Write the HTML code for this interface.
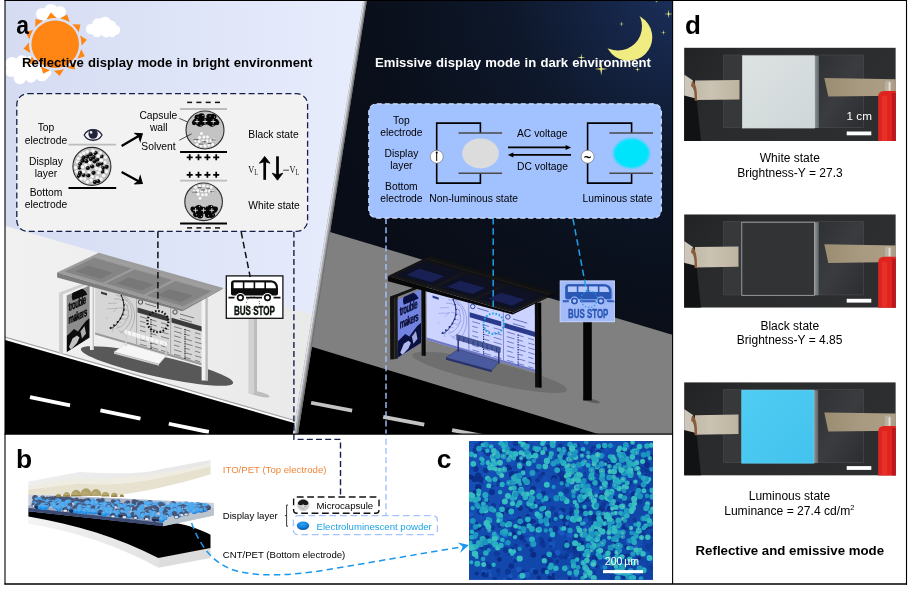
<!DOCTYPE html>
<html lang="en"><head><meta charset="utf-8"><title>Dual-mode display figure</title>
<style>html,body{margin:0;padding:0;background:#fff;}svg{display:block;opacity:0.999;}text{font-family:'Liberation Sans', Arial, sans-serif;}</style>
</head><body>
<svg width="908" height="590" viewBox="0 0 908 590">
<defs>
<linearGradient id="sky" x1="0" y1="0" x2="1" y2="0"><stop offset="0" stop-color="#d5dbf1"/><stop offset="0.5" stop-color="#dfe5f8"/><stop offset="1" stop-color="#e7edfc"/></linearGradient>
<radialGradient id="night" gradientUnits="userSpaceOnUse" cx="690" cy="-20" r="400"><stop offset="0" stop-color="#1d3260"/><stop offset="0.2" stop-color="#162649"/><stop offset="0.45" stop-color="#0e182b"/><stop offset="0.75" stop-color="#0a101c"/><stop offset="1" stop-color="#090d17"/></radialGradient>
<linearGradient id="swg" x1="0" y1="0" x2="1" y2="0"><stop offset="0" stop-color="#f1f1f1"/><stop offset="1" stop-color="#e9e9e9"/></linearGradient>
<clipPath id="cday"><polygon points="5,0 366.4,0 297.4,434 5,434"/></clipPath>
<clipPath id="cnight"><polygon points="366.4,0 672.5,0 672.5,434 297.4,434"/></clipPath>
<filter id="blur1" x="-20%" y="-20%" width="140%" height="140%"><feGaussianBlur stdDeviation="1.3"/></filter>
<filter id="blur2" x="-20%" y="-20%" width="140%" height="140%"><feGaussianBlur stdDeviation="0.6"/></filter>
<filter id="blur3" x="-20%" y="-20%" width="140%" height="140%"><feGaussianBlur stdDeviation="2.5"/></filter>
</defs>
<rect x="0" y="0" width="908" height="590" fill="#fff"/>
<g clip-path="url(#cday)">
<rect x="5" y="0" width="365" height="434" fill="url(#sky)"/>
<circle cx="42.0" cy="14.0" r="6.0" fill="#fff" opacity="1"/>
<circle cx="51.0" cy="11.0" r="7.0" fill="#fff" opacity="1"/>
<circle cx="60.0" cy="12.0" r="6.0" fill="#fff" opacity="1"/>
<circle cx="47.0" cy="17.0" r="6.0" fill="#fff" opacity="1"/>
<circle cx="56.0" cy="17.0" r="6.0" fill="#fff" opacity="1"/>
<circle cx="91.0" cy="29.0" r="5.2" fill="#fff" opacity="1"/>
<circle cx="98.0" cy="24.0" r="5.8" fill="#fff" opacity="1"/>
<circle cx="105.0" cy="23.0" r="6.3" fill="#fff" opacity="1"/>
<circle cx="111.0" cy="26.0" r="5.4" fill="#fff" opacity="1"/>
<circle cx="115.5" cy="30.0" r="4.8" fill="#fff" opacity="1"/>
<circle cx="97.0" cy="32.0" r="5.2" fill="#fff" opacity="1"/>
<circle cx="106.0" cy="32.0" r="5.4" fill="#fff" opacity="1"/>
<circle cx="112.0" cy="33.0" r="4.3" fill="#fff" opacity="1"/>
<circle cx="12.1" cy="63.7" r="6.6" fill="#fff" opacity="1"/>
<circle cx="22.0" cy="61.5" r="6.2" fill="#fff" opacity="1"/>
<circle cx="30.8" cy="61.4" r="5.5" fill="#fff" opacity="1"/>
<circle cx="11.0" cy="71.4" r="5.6" fill="#fff" opacity="1"/>
<circle cx="19.8" cy="78.0" r="6.2" fill="#fff" opacity="1"/>
<circle cx="30.8" cy="77.0" r="5.8" fill="#fff" opacity="1"/>
<circle cx="41.8" cy="73.8" r="7.4" fill="#fff" opacity="1"/>
<circle cx="46.3" cy="72.5" r="5.0" fill="#fff" opacity="1"/>
<circle cx="25.0" cy="70.0" r="9.5" fill="#fff" opacity="1"/>
<circle cx="35.0" cy="69.0" r="7.0" fill="#fff" opacity="1"/>
<polygon points="5,225.8 340,322.6 340,440 5,440" fill="url(#swg)"/>
<polygon points="5,336.6 340,432.9 340,436.2 5,339.9" fill="#a4a4a4"/>
<polygon points="5,337.8 340,434.1 340,436.2 5,339.9" fill="#fdfdfd"/>
<polygon points="5,339.9 340,436.2 340,440 5,440" fill="#000"/>
<polygon points="30.4,395.3 70.4,403.5 69.7,407.3 29.6,399.0" fill="#fff"/>
<polygon points="100.8,408.5 140.8,416.7 140.1,420.5 100.0,412.2" fill="#fff"/>
<polygon points="169.2,421.9 209.2,430.1 208.5,433.9 168.4,425.6" fill="#fff"/>
<g transform="translate(0.0,0.0)"><ellipse cx="157" cy="366" rx="78" ry="10.5" transform="rotate(12.6 157 366)" fill="#585858" opacity="1"/><polygon points="95.1,262.0 203.0,293.5 203.0,365.6 95.1,334.4" fill="#d6d6d6"/><polygon points="95.1,332.4 203,363.6 203,365.8 95.1,334.6" fill="#9a9a9a"/><line x1="136.6" y1="286.7" x2="136.6" y2="344.4" stroke="#9a9a9a" stroke-width="0.8"/><line x1="170.6" y1="291.9" x2="170.6" y2="354.2" stroke="#9a9a9a" stroke-width="0.8"/><path d="M116.4 295.4A17.0 19.5 16 0 1 120.5 332.4" fill="none" stroke="#8a8a8a" stroke-width="0.5"/><path d="M114.3 298.9A13.0 14.9 16 0 1 116.4 328.3" fill="none" stroke="#8a8a8a" stroke-width="0.5"/><path d="M122.5 295.1A21.0 24.1 16 0 1 128.1 333.2" fill="none" stroke="#8a8a8a" stroke-width="0.5"/><path d="M106.1 317.3L107.3 318.8" stroke="#8a8a8a" stroke-width="0.4" fill="none"/><path d="M117.8 307.3L113.2 312.0" stroke="#8a8a8a" stroke-width="0.4" fill="none"/><path d="M106.8 308.8L117.9 308.4" stroke="#8a8a8a" stroke-width="0.4" fill="none"/><path d="M124.1 320.6L129.5 315.7" stroke="#8a8a8a" stroke-width="0.4" fill="none"/><path d="M118.0 329.8L121.6 333.2" stroke="#8a8a8a" stroke-width="0.4" fill="none"/><path d="M119.1 307.6L126.5 308.9" stroke="#8a8a8a" stroke-width="0.4" fill="none"/><path d="M108.0 303.5L117.1 303.1" stroke="#8a8a8a" stroke-width="0.4" fill="none"/><path d="M120.6 330.9L127.2 336.8" stroke="#8a8a8a" stroke-width="0.4" fill="none"/><path d="M110.8 325.9L113.2 332.0" stroke="#8a8a8a" stroke-width="0.4" fill="none"/><circle cx="121.3" cy="295.2" r="0.75" fill="#111"/><path d="M122.5 295.2l3 0.8" stroke="#8a8a8a" stroke-width="0.4"/><circle cx="123.2" cy="300.0" r="0.75" fill="#111"/><path d="M124.4 300.0l3 0.8" stroke="#8a8a8a" stroke-width="0.4"/><circle cx="124.3" cy="305.0" r="0.75" fill="#111"/><path d="M125.5 305.0l3 0.8" stroke="#8a8a8a" stroke-width="0.4"/><circle cx="124.3" cy="310.0" r="0.75" fill="#111"/><path d="M125.5 310.0l3 0.8" stroke="#8a8a8a" stroke-width="0.4"/><circle cx="122.8" cy="314.5" r="0.95" fill="#111"/><path d="M124.0 314.5l3 0.8" stroke="#8a8a8a" stroke-width="0.4"/><circle cx="120.5" cy="318.5" r="0.95" fill="#111"/><path d="M121.7 318.5l3 0.8" stroke="#8a8a8a" stroke-width="0.4"/><circle cx="117.5" cy="322.0" r="0.95" fill="#111"/><path d="M118.7 322.0l3 0.8" stroke="#8a8a8a" stroke-width="0.4"/><circle cx="114.0" cy="325.2" r="0.95" fill="#111"/><path d="M115.2 325.2l3 0.8" stroke="#8a8a8a" stroke-width="0.4"/><circle cx="110.5" cy="328.0" r="0.95" fill="#111"/><path d="M111.7 328.0l3 0.8" stroke="#8a8a8a" stroke-width="0.4"/><path d="M121.3 295.2Q127 308 120.5 318.5T110.5 328" fill="none" stroke="#111" stroke-width="0.9"/><rect x="101" y="291.5" width="6" height="2.2" transform="skewY(16)" style="transform-origin:101px 291.5px" fill="#3a3a3a"/><polygon points="137.5,307.6 168.5,316.6 168.5,321.4 137.5,312.4" fill="#3a3a3a"/><polygon points="171.5,317.8 202.0,326.6 202.0,331.4 171.5,322.6" fill="#3a3a3a"/><circle cx="140.5" cy="302" r="2.2" fill="none" stroke="#3a3a3a" stroke-width="0.9"/><circle cx="175" cy="312" r="2.2" fill="none" stroke="#3a3a3a" stroke-width="0.9"/><path d="M140.0 316.6l7.6 2.2" stroke="#5a5a5a" stroke-width="0.7" fill="none"/><path d="M140.0 321.2l5.3 1.5" stroke="#5a5a5a" stroke-width="0.7" fill="none"/><path d="M140.0 325.8l5.4 1.6" stroke="#5a5a5a" stroke-width="0.7" fill="none"/><path d="M140.0 330.4l5.7 1.6" stroke="#5a5a5a" stroke-width="0.7" fill="none"/><path d="M140.0 335.0l7.9 2.3" stroke="#5a5a5a" stroke-width="0.7" fill="none"/><path d="M140.0 339.6l6.3 1.8" stroke="#5a5a5a" stroke-width="0.7" fill="none"/><path d="M140.0 344.2l6.9 2.0" stroke="#5a5a5a" stroke-width="0.7" fill="none"/><path d="M150.5 319.6l5.9 1.7" stroke="#5a5a5a" stroke-width="0.7" fill="none"/><path d="M150.5 324.2l6.5 1.9" stroke="#5a5a5a" stroke-width="0.7" fill="none"/><path d="M150.5 328.8l6.2 1.8" stroke="#5a5a5a" stroke-width="0.7" fill="none"/><path d="M150.5 333.4l6.1 1.8" stroke="#5a5a5a" stroke-width="0.7" fill="none"/><path d="M150.5 338.0l6.8 2.0" stroke="#5a5a5a" stroke-width="0.7" fill="none"/><path d="M150.5 342.6l6.8 2.0" stroke="#5a5a5a" stroke-width="0.7" fill="none"/><path d="M150.5 347.2l7.7 2.2" stroke="#5a5a5a" stroke-width="0.7" fill="none"/><path d="M161.0 322.7l7.0 2.0" stroke="#5a5a5a" stroke-width="0.7" fill="none"/><path d="M161.0 327.3l7.8 2.3" stroke="#5a5a5a" stroke-width="0.7" fill="none"/><path d="M161.0 331.9l7.6 2.2" stroke="#5a5a5a" stroke-width="0.7" fill="none"/><path d="M161.0 336.5l8.0 2.3" stroke="#5a5a5a" stroke-width="0.7" fill="none"/><path d="M161.0 341.1l7.0 2.0" stroke="#5a5a5a" stroke-width="0.7" fill="none"/><path d="M161.0 345.7l5.5 1.6" stroke="#5a5a5a" stroke-width="0.7" fill="none"/><path d="M161.0 350.3l7.6 2.2" stroke="#5a5a5a" stroke-width="0.7" fill="none"/><path d="M151.0 319.0V349.0" stroke="#111" stroke-width="1.1" stroke-dasharray="1.2 1.2" fill="none"/><path d="M174.0 326.6l7.9 2.3" stroke="#5a5a5a" stroke-width="0.7" fill="none"/><path d="M174.0 331.2l7.7 2.2" stroke="#5a5a5a" stroke-width="0.7" fill="none"/><path d="M174.0 335.8l6.7 1.9" stroke="#5a5a5a" stroke-width="0.7" fill="none"/><path d="M174.0 340.4l7.1 2.1" stroke="#5a5a5a" stroke-width="0.7" fill="none"/><path d="M174.0 345.0l5.6 1.6" stroke="#5a5a5a" stroke-width="0.7" fill="none"/><path d="M174.0 349.6l7.5 2.2" stroke="#5a5a5a" stroke-width="0.7" fill="none"/><path d="M174.0 354.2l6.7 1.9" stroke="#5a5a5a" stroke-width="0.7" fill="none"/><path d="M184.5 329.6l5.9 1.7" stroke="#5a5a5a" stroke-width="0.7" fill="none"/><path d="M184.5 334.2l5.2 1.5" stroke="#5a5a5a" stroke-width="0.7" fill="none"/><path d="M184.5 338.8l7.6 2.2" stroke="#5a5a5a" stroke-width="0.7" fill="none"/><path d="M184.5 343.4l8.0 2.3" stroke="#5a5a5a" stroke-width="0.7" fill="none"/><path d="M184.5 348.0l5.3 1.5" stroke="#5a5a5a" stroke-width="0.7" fill="none"/><path d="M184.5 352.6l7.4 2.1" stroke="#5a5a5a" stroke-width="0.7" fill="none"/><path d="M184.5 357.2l6.2 1.8" stroke="#5a5a5a" stroke-width="0.7" fill="none"/><path d="M195.0 332.7l5.5 1.6" stroke="#5a5a5a" stroke-width="0.7" fill="none"/><path d="M195.0 337.3l5.9 1.7" stroke="#5a5a5a" stroke-width="0.7" fill="none"/><path d="M195.0 341.9l7.3 2.1" stroke="#5a5a5a" stroke-width="0.7" fill="none"/><path d="M195.0 346.5l7.6 2.2" stroke="#5a5a5a" stroke-width="0.7" fill="none"/><path d="M195.0 351.1l5.1 1.5" stroke="#5a5a5a" stroke-width="0.7" fill="none"/><path d="M195.0 355.7l6.8 2.0" stroke="#5a5a5a" stroke-width="0.7" fill="none"/><path d="M195.0 360.3l5.1 1.5" stroke="#5a5a5a" stroke-width="0.7" fill="none"/><path d="M185.0 329.0V359.0" stroke="#111" stroke-width="1.1" stroke-dasharray="1.2 1.2" fill="none"/><path d="M145 303.6l11 3.2M180 314l14 4M180 318.5l12 3.5" stroke="#5a5a5a" stroke-width="0.8" fill="none"/><polygon points="59.1,292.8 63.2,291.3 63.2,353.6 59.1,353.9" fill="#cfcfcf"/><polygon points="63.2,291.3 66.7,290.2 66.7,352.9 63.2,353.6" fill="#f4f4f4"/><polygon points="59.1,292.8 87,282 90.6,283.2 63.2,294.2" fill="#cfcfcf"/><polygon points="66.7,295.6 89.6,285.4 89.6,337.5 66.7,351.9" fill="#8c8c8c"/><clipPath id="pcd"><polygon points="66.7,295.6 89.6,285.4 89.6,337.5 66.7,351.9"/></clipPath><g clip-path="url(#pcd)"><path d="M72.6 300.5A7.2 8.6 -20 0 1 87.4 294.5Z" fill="#0c0c0c"/><polygon points="66.7,336 70,333 74,329 78,331.5 82,326 86,321 89.6,318 89.6,340 66.7,353" fill="#0c0c0c"/><polygon points="69,347 72.5,338.5 77,335.5 79.5,337.5 77,343 71,349.5" fill="#d8d8d8" opacity="0.9"/><polygon points="80.5,331.5 84.5,326 86,333.5 82,338.5" fill="#d8d8d8" opacity="0.8"/></g><g font-weight="bold" fill="#050505" stroke="#050505" stroke-width="0.3" transform="translate(68.6,311.2) skewY(-24) scale(0.62,1.25)"><text x="0" y="0" font-size="9.6" letter-spacing="-0.7">trouble</text><text x="0" y="10.2" font-size="9.6" letter-spacing="-0.7">makers</text></g><path d="M73 319.6l4.5-2" stroke="#050505" stroke-width="0.9"/><rect x="90" y="284" width="3.7" height="66" fill="#f2f2f2"/><rect x="92.6" y="284" width="1.2" height="66" fill="#bdbdbd"/><rect x="201.6" y="298" width="6.2" height="82.5" fill="#f2f2f2"/><rect x="205.4" y="298" width="2.4" height="82.5" fill="#bdbdbd"/><polygon points="114,352 126,343.6 166.4,355.6 159,364" fill="#f6f6f6" stroke="#cfcfcf" stroke-width="0.5"/><polygon points="114,352 159,364 159,365.8 114,353.8" fill="#cfcfcf"/><path d="M124.6 329.4L167.4 341.8V346.6L124.6 334.2Z" fill="#f6f6f6" stroke="#cfcfcf" stroke-width="0.5"/><path d="M127.0 331.1v4.4M131.6 332.4v4.4M136.2 333.8v4.4M140.8 335.1v4.4M145.4 336.4v4.4M150.0 337.8v4.4M154.6 339.1v4.4M159.2 340.4v4.4M163.8 341.8v4.4" stroke="#cfcfcf" stroke-width="0.7" fill="none"/><path d="M126 334.5V346M166 346.2V357.5" stroke="#cfcfcf" stroke-width="1.4" fill="none"/><g opacity="0.92"><polygon points="57.1,272.6 98.8,252.8 223.2,288.0 183.0,309.4" fill="#959595"/></g><polygon points="94.2,257.8 131.6,268.5 102.8,282.7 65.0,271.7" fill="#7d7d7d" opacity="0.75"/><polygon points="88.0,265.6 113.0,272.8 100.6,278.9 75.5,271.6" fill="#6d6d6d" opacity="0.55"/><polygon points="134.7,269.4 172.1,280.0 143.6,294.6 105.9,283.6" fill="#7d7d7d" opacity="0.75"/><polygon points="128.6,277.3 153.7,284.5 141.4,290.7 116.3,283.4" fill="#6d6d6d" opacity="0.55"/><polygon points="175.3,280.9 211.4,291.2 183.2,306.2 146.8,295.5" fill="#7d7d7d" opacity="0.75"/><polygon points="169.3,289.0 193.1,295.8 181.0,302.2 157.1,295.3" fill="#6d6d6d" opacity="0.55"/><polygon points="57.1,272.6 183.0,309.4 182.4,311.2 57.1,277.6" fill="#7c7c7c"/><polygon points="183.0,309.4 223.2,288.0 222.2,289.2 182.4,311.2" fill="#7c7c7c"/><path d="M95.0 255.5L217.1 290.2" stroke="#a6a6a6" stroke-width="0.8" fill="none" opacity="0.8"/></g><ellipse cx="259" cy="394" rx="11" ry="2.2" transform="rotate(14 259 394)" fill="#bdbdbd"/><rect x="248.4" y="318" width="8.6" height="75.5" fill="#d2d2d2"/><rect x="254.2" y="318" width="2.8" height="75.5" fill="#bcbcbc"/><rect x="226.3" y="275.9" width="56.6" height="42.4" fill="#fff" stroke="#111" stroke-width="1.3"/><g transform="translate(231.0,280.2)"><path d="M0 3.2Q0 0 3.2 0H40Q47 0.4 47 8V13.6Q47 15.4 45 15.4H2Q0 15.4 0 13.6Z" fill="#0c0c0c"/><rect x="2.6" y="2.2" width="9.2" height="5.8" fill="#fff"/><rect x="13.4" y="2.2" width="9.2" height="5.8" fill="#fff"/><rect x="24.2" y="2.2" width="9.2" height="5.8" fill="#fff"/><path d="M35 2.2H40.6Q44.6 2.6 45 8H35Z" fill="#fff"/><path d="M-2.5 17.4H3.5M15 17.4H31M42.5 17.4H49.5" stroke="#0c0c0c" stroke-width="1.7"/><circle cx="9.4" cy="17.4" r="4.6" fill="#fff"/><circle cx="9.4" cy="17.4" r="3.6" fill="#0c0c0c"/><circle cx="9.4" cy="17.4" r="1.9" fill="#fff"/><circle cx="36.5" cy="17.4" r="4.6" fill="#fff"/><circle cx="36.5" cy="17.4" r="3.6" fill="#0c0c0c"/><circle cx="36.5" cy="17.4" r="1.9" fill="#fff"/></g><text x="0" y="0" font-size="12.6" font-weight="bold" fill="#0c140c" stroke="#0c140c" stroke-width="0.45" text-anchor="middle" transform="translate(254.4 314.8) scale(0.64 0.96)">BUS STOP</text>
</g>
<g clip-path="url(#cnight)">
<rect x="290" y="0" width="390" height="434" fill="url(#night)"/>
<polygon points="290,220.0 680,337.0 680,440 290,440" fill="#808080"/>
<polygon points="290,340.0 680,459.0 680,440 290,440" fill="#000"/>
<polygon points="311.5,400.9 352.5,408.7 351.8,412.5 310.7,404.6" fill="#c4c4c4"/>
<polygon points="383.6,415.0 424.6,422.8 423.9,426.6 382.8,418.7" fill="#c4c4c4"/>
<polygon points="452.5,428.2 493.5,436.0 492.8,439.8 451.7,431.9" fill="#c4c4c4"/>
<g transform="matrix(1.016,0.0036,0.004,1.0275,328.78,-4.29)"><g transform="translate(0.0,0.0)"><ellipse cx="157" cy="366" rx="78" ry="10.5" transform="rotate(12.6 157 366)" fill="#6c6c6c" opacity="0.9"/><polygon points="95.1,262.0 203.0,293.5 203.0,365.6 95.1,334.4" fill="#ccd3ff"/><polygon points="95.1,332.4 203,363.6 203,365.8 95.1,334.6" fill="#6f78c8"/><line x1="136.6" y1="286.7" x2="136.6" y2="344.4" stroke="#6f78c8" stroke-width="0.8"/><line x1="170.6" y1="291.9" x2="170.6" y2="354.2" stroke="#6f78c8" stroke-width="0.8"/><path d="M116.4 295.4A17.0 19.5 16 0 1 120.5 332.4" fill="none" stroke="#6f7ad0" stroke-width="0.5"/><path d="M114.3 298.9A13.0 14.9 16 0 1 116.4 328.3" fill="none" stroke="#6f7ad0" stroke-width="0.5"/><path d="M122.5 295.1A21.0 24.1 16 0 1 128.1 333.2" fill="none" stroke="#6f7ad0" stroke-width="0.5"/><path d="M106.1 317.3L107.3 318.8" stroke="#6f7ad0" stroke-width="0.4" fill="none"/><path d="M117.8 307.3L113.2 312.0" stroke="#6f7ad0" stroke-width="0.4" fill="none"/><path d="M106.8 308.8L117.9 308.4" stroke="#6f7ad0" stroke-width="0.4" fill="none"/><path d="M124.1 320.6L129.5 315.7" stroke="#6f7ad0" stroke-width="0.4" fill="none"/><path d="M118.0 329.8L121.6 333.2" stroke="#6f7ad0" stroke-width="0.4" fill="none"/><path d="M119.1 307.6L126.5 308.9" stroke="#6f7ad0" stroke-width="0.4" fill="none"/><path d="M108.0 303.5L117.1 303.1" stroke="#6f7ad0" stroke-width="0.4" fill="none"/><path d="M120.6 330.9L127.2 336.8" stroke="#6f7ad0" stroke-width="0.4" fill="none"/><path d="M110.8 325.9L113.2 332.0" stroke="#6f7ad0" stroke-width="0.4" fill="none"/><circle cx="121.3" cy="295.2" r="0.75" fill="#1a2a78"/><path d="M122.5 295.2l3 0.8" stroke="#6f7ad0" stroke-width="0.4"/><circle cx="123.2" cy="300.0" r="0.75" fill="#1a2a78"/><path d="M124.4 300.0l3 0.8" stroke="#6f7ad0" stroke-width="0.4"/><circle cx="124.3" cy="305.0" r="0.75" fill="#1a2a78"/><path d="M125.5 305.0l3 0.8" stroke="#6f7ad0" stroke-width="0.4"/><circle cx="124.3" cy="310.0" r="0.75" fill="#1a2a78"/><path d="M125.5 310.0l3 0.8" stroke="#6f7ad0" stroke-width="0.4"/><circle cx="122.8" cy="314.5" r="0.95" fill="#1a2a78"/><path d="M124.0 314.5l3 0.8" stroke="#6f7ad0" stroke-width="0.4"/><circle cx="120.5" cy="318.5" r="0.95" fill="#1a2a78"/><path d="M121.7 318.5l3 0.8" stroke="#6f7ad0" stroke-width="0.4"/><circle cx="117.5" cy="322.0" r="0.95" fill="#1a2a78"/><path d="M118.7 322.0l3 0.8" stroke="#6f7ad0" stroke-width="0.4"/><circle cx="114.0" cy="325.2" r="0.95" fill="#1a2a78"/><path d="M115.2 325.2l3 0.8" stroke="#6f7ad0" stroke-width="0.4"/><circle cx="110.5" cy="328.0" r="0.95" fill="#1a2a78"/><path d="M111.7 328.0l3 0.8" stroke="#6f7ad0" stroke-width="0.4"/><path d="M121.3 295.2Q127 308 120.5 318.5T110.5 328" fill="none" stroke="#1a2a78" stroke-width="0.9"/><rect x="101" y="291.5" width="6" height="2.2" transform="skewY(16)" style="transform-origin:101px 291.5px" fill="#2a3a8c"/><polygon points="137.5,307.6 168.5,316.6 168.5,321.4 137.5,312.4" fill="#2a3a8c"/><polygon points="171.5,317.8 202.0,326.6 202.0,331.4 171.5,322.6" fill="#2a3a8c"/><circle cx="140.5" cy="302" r="2.2" fill="none" stroke="#2a3a8c" stroke-width="0.9"/><circle cx="175" cy="312" r="2.2" fill="none" stroke="#2a3a8c" stroke-width="0.9"/><path d="M140.0 316.6l7.6 2.2" stroke="#4a5ab4" stroke-width="0.7" fill="none"/><path d="M140.0 321.2l5.3 1.5" stroke="#4a5ab4" stroke-width="0.7" fill="none"/><path d="M140.0 325.8l5.4 1.6" stroke="#4a5ab4" stroke-width="0.7" fill="none"/><path d="M140.0 330.4l5.7 1.6" stroke="#4a5ab4" stroke-width="0.7" fill="none"/><path d="M140.0 335.0l7.9 2.3" stroke="#4a5ab4" stroke-width="0.7" fill="none"/><path d="M140.0 339.6l6.3 1.8" stroke="#4a5ab4" stroke-width="0.7" fill="none"/><path d="M140.0 344.2l6.9 2.0" stroke="#4a5ab4" stroke-width="0.7" fill="none"/><path d="M150.5 319.6l5.9 1.7" stroke="#4a5ab4" stroke-width="0.7" fill="none"/><path d="M150.5 324.2l6.5 1.9" stroke="#4a5ab4" stroke-width="0.7" fill="none"/><path d="M150.5 328.8l6.2 1.8" stroke="#4a5ab4" stroke-width="0.7" fill="none"/><path d="M150.5 333.4l6.1 1.8" stroke="#4a5ab4" stroke-width="0.7" fill="none"/><path d="M150.5 338.0l6.8 2.0" stroke="#4a5ab4" stroke-width="0.7" fill="none"/><path d="M150.5 342.6l6.8 2.0" stroke="#4a5ab4" stroke-width="0.7" fill="none"/><path d="M150.5 347.2l7.7 2.2" stroke="#4a5ab4" stroke-width="0.7" fill="none"/><path d="M161.0 322.7l7.0 2.0" stroke="#4a5ab4" stroke-width="0.7" fill="none"/><path d="M161.0 327.3l7.8 2.3" stroke="#4a5ab4" stroke-width="0.7" fill="none"/><path d="M161.0 331.9l7.6 2.2" stroke="#4a5ab4" stroke-width="0.7" fill="none"/><path d="M161.0 336.5l8.0 2.3" stroke="#4a5ab4" stroke-width="0.7" fill="none"/><path d="M161.0 341.1l7.0 2.0" stroke="#4a5ab4" stroke-width="0.7" fill="none"/><path d="M161.0 345.7l5.5 1.6" stroke="#4a5ab4" stroke-width="0.7" fill="none"/><path d="M161.0 350.3l7.6 2.2" stroke="#4a5ab4" stroke-width="0.7" fill="none"/><path d="M151.0 319.0V349.0" stroke="#1a2a78" stroke-width="1.1" stroke-dasharray="1.2 1.2" fill="none"/><path d="M174.0 326.6l7.9 2.3" stroke="#4a5ab4" stroke-width="0.7" fill="none"/><path d="M174.0 331.2l7.7 2.2" stroke="#4a5ab4" stroke-width="0.7" fill="none"/><path d="M174.0 335.8l6.7 1.9" stroke="#4a5ab4" stroke-width="0.7" fill="none"/><path d="M174.0 340.4l7.1 2.1" stroke="#4a5ab4" stroke-width="0.7" fill="none"/><path d="M174.0 345.0l5.6 1.6" stroke="#4a5ab4" stroke-width="0.7" fill="none"/><path d="M174.0 349.6l7.5 2.2" stroke="#4a5ab4" stroke-width="0.7" fill="none"/><path d="M174.0 354.2l6.7 1.9" stroke="#4a5ab4" stroke-width="0.7" fill="none"/><path d="M184.5 329.6l5.9 1.7" stroke="#4a5ab4" stroke-width="0.7" fill="none"/><path d="M184.5 334.2l5.2 1.5" stroke="#4a5ab4" stroke-width="0.7" fill="none"/><path d="M184.5 338.8l7.6 2.2" stroke="#4a5ab4" stroke-width="0.7" fill="none"/><path d="M184.5 343.4l8.0 2.3" stroke="#4a5ab4" stroke-width="0.7" fill="none"/><path d="M184.5 348.0l5.3 1.5" stroke="#4a5ab4" stroke-width="0.7" fill="none"/><path d="M184.5 352.6l7.4 2.1" stroke="#4a5ab4" stroke-width="0.7" fill="none"/><path d="M184.5 357.2l6.2 1.8" stroke="#4a5ab4" stroke-width="0.7" fill="none"/><path d="M195.0 332.7l5.5 1.6" stroke="#4a5ab4" stroke-width="0.7" fill="none"/><path d="M195.0 337.3l5.9 1.7" stroke="#4a5ab4" stroke-width="0.7" fill="none"/><path d="M195.0 341.9l7.3 2.1" stroke="#4a5ab4" stroke-width="0.7" fill="none"/><path d="M195.0 346.5l7.6 2.2" stroke="#4a5ab4" stroke-width="0.7" fill="none"/><path d="M195.0 351.1l5.1 1.5" stroke="#4a5ab4" stroke-width="0.7" fill="none"/><path d="M195.0 355.7l6.8 2.0" stroke="#4a5ab4" stroke-width="0.7" fill="none"/><path d="M195.0 360.3l5.1 1.5" stroke="#4a5ab4" stroke-width="0.7" fill="none"/><path d="M185.0 329.0V359.0" stroke="#1a2a78" stroke-width="1.1" stroke-dasharray="1.2 1.2" fill="none"/><path d="M145 303.6l11 3.2M180 314l14 4M180 318.5l12 3.5" stroke="#4a5ab4" stroke-width="0.8" fill="none"/><polygon points="59.1,292.8 63.2,291.3 63.2,353.6 59.1,353.9" fill="#121212"/><polygon points="63.2,291.3 66.7,290.2 66.7,352.9 63.2,353.6" fill="#1c1c1c"/><polygon points="59.1,292.8 87,282 90.6,283.2 63.2,294.2" fill="#121212"/><polygon points="66.7,295.6 89.6,285.4 89.6,337.5 66.7,351.9" fill="#7282e0"/><clipPath id="pcn"><polygon points="66.7,295.6 89.6,285.4 89.6,337.5 66.7,351.9"/></clipPath><g clip-path="url(#pcn)"><path d="M72.6 300.5A7.2 8.6 -20 0 1 87.4 294.5Z" fill="#0a1040"/><polygon points="66.7,336 70,333 74,329 78,331.5 82,326 86,321 89.6,318 89.6,340 66.7,353" fill="#0a1040"/><polygon points="69,347 72.5,338.5 77,335.5 79.5,337.5 77,343 71,349.5" fill="#c4ccff" opacity="0.9"/><polygon points="80.5,331.5 84.5,326 86,333.5 82,338.5" fill="#c4ccff" opacity="0.8"/></g><g font-weight="bold" fill="#070c30" stroke="#070c30" stroke-width="0.3" transform="translate(68.6,311.2) skewY(-24) scale(0.62,1.25)"><text x="0" y="0" font-size="9.6" letter-spacing="-0.7">trouble</text><text x="0" y="10.2" font-size="9.6" letter-spacing="-0.7">makers</text></g><path d="M73 319.6l4.5-2" stroke="#070c30" stroke-width="0.9"/><rect x="90" y="284" width="3.7" height="66" fill="#0c0c0c"/><rect x="92.6" y="284" width="1.2" height="66" fill="#000"/><rect x="201.6" y="298" width="6.2" height="82.5" fill="#0c0c0c"/><rect x="205.4" y="298" width="2.4" height="82.5" fill="#000"/><polygon points="114,352 126,343.6 166.4,355.6 159,364" fill="#4a5a9e" stroke="#26306a" stroke-width="0.5"/><polygon points="114,352 159,364 159,365.8 114,353.8" fill="#26306a"/><path d="M124.6 329.4L167.4 341.8V346.6L124.6 334.2Z" fill="#4a5a9e" stroke="#26306a" stroke-width="0.5"/><path d="M127.0 331.1v4.4M131.6 332.4v4.4M136.2 333.8v4.4M140.8 335.1v4.4M145.4 336.4v4.4M150.0 337.8v4.4M154.6 339.1v4.4M159.2 340.4v4.4M163.8 341.8v4.4" stroke="#26306a" stroke-width="0.7" fill="none"/><path d="M126 334.5V346M166 346.2V357.5" stroke="#26306a" stroke-width="1.4" fill="none"/><g opacity="0.97"><polygon points="57.1,272.6 98.8,252.8 223.2,288.0 180.5,307.8" fill="#121212"/></g><polygon points="94.2,257.8 131.4,268.4 102.0,282.2 65.0,271.7" fill="#0d1026" opacity="0.8"/><polygon points="87.9,265.5 112.6,272.6 100.0,278.5 75.3,271.5" fill="#232e7c" opacity="0.55"/><polygon points="134.6,269.3 171.8,279.8 142.2,293.7 105.1,283.1" fill="#0d1026" opacity="0.8"/><polygon points="128.1,277.0 152.9,284.0 140.2,289.9 115.5,282.9" fill="#232e7c" opacity="0.55"/><polygon points="174.9,280.7 210.9,290.9 181.1,304.8 145.2,294.6" fill="#0d1026" opacity="0.8"/><polygon points="168.4,288.4 191.9,295.1 179.2,301.0 155.7,294.3" fill="#232e7c" opacity="0.55"/><polygon points="57.1,272.6 180.5,307.8 179.9,309.6 57.1,277.6" fill="#070707"/><polygon points="180.5,307.8 223.2,288.0 222.2,289.2 179.9,309.6" fill="#070707"/><path d="M95.0 255.5L216.8 290.0" stroke="#242424" stroke-width="0.8" fill="none" opacity="0.8"/></g></g><ellipse cx="591" cy="400.5" rx="9" ry="1.8" transform="rotate(14 591 400.5)" fill="#5e5e5e"/><rect x="583.2" y="321" width="8.6" height="79.5" fill="#050505"/><rect x="560.2" y="280.9" width="54.2" height="40.8" fill="#a3bbf8" stroke="#c3d5ff" stroke-width="1"/><g filter="url(#blur2)" opacity="0.55"><g transform="translate(565.3,284.3)"><path d="M0 3.2Q0 0 3.2 0H40Q47 0.4 47 8V13.6Q47 15.4 45 15.4H2Q0 15.4 0 13.6Z" fill="#2d5cc0"/><rect x="2.6" y="2.2" width="9.2" height="5.8" fill="#a3bbf8"/><rect x="13.4" y="2.2" width="9.2" height="5.8" fill="#a3bbf8"/><rect x="24.2" y="2.2" width="9.2" height="5.8" fill="#a3bbf8"/><path d="M35 2.2H40.6Q44.6 2.6 45 8H35Z" fill="#a3bbf8"/><path d="M-2.5 17.4H3.5M15 17.4H31M42.5 17.4H49.5" stroke="#2d5cc0" stroke-width="1.7"/><circle cx="9.4" cy="17.4" r="4.6" fill="#a3bbf8"/><circle cx="9.4" cy="17.4" r="3.6" fill="#2d5cc0"/><circle cx="9.4" cy="17.4" r="1.9" fill="#a3bbf8"/><circle cx="36.5" cy="17.4" r="4.6" fill="#a3bbf8"/><circle cx="36.5" cy="17.4" r="3.6" fill="#2d5cc0"/><circle cx="36.5" cy="17.4" r="1.9" fill="#a3bbf8"/></g></g><g transform="translate(565.3,284.3) scale(0.975 0.96)"><g transform="translate(0.0,0.0)"><path d="M0 3.2Q0 0 3.2 0H40Q47 0.4 47 8V13.6Q47 15.4 45 15.4H2Q0 15.4 0 13.6Z" fill="#2a56b4"/><rect x="2.6" y="2.2" width="9.2" height="5.8" fill="#b4c8fb"/><rect x="13.4" y="2.2" width="9.2" height="5.8" fill="#b4c8fb"/><rect x="24.2" y="2.2" width="9.2" height="5.8" fill="#b4c8fb"/><path d="M35 2.2H40.6Q44.6 2.6 45 8H35Z" fill="#b4c8fb"/><path d="M-2.5 17.4H3.5M15 17.4H31M42.5 17.4H49.5" stroke="#2a56b4" stroke-width="1.7"/><circle cx="9.4" cy="17.4" r="4.6" fill="#b4c8fb"/><circle cx="9.4" cy="17.4" r="3.6" fill="#2a56b4"/><circle cx="9.4" cy="17.4" r="1.9" fill="#b4c8fb"/><circle cx="36.5" cy="17.4" r="4.6" fill="#b4c8fb"/><circle cx="36.5" cy="17.4" r="3.6" fill="#2a56b4"/><circle cx="36.5" cy="17.4" r="1.9" fill="#b4c8fb"/></g></g><text x="0" y="0" font-size="12.6" font-weight="bold" fill="#2a56b4" stroke="#2a56b4" stroke-width="0.4" text-anchor="middle" transform="translate(588.2 317.6) scale(0.63 0.96)">BUS STOP</text>
</g>
<polygon points="363.4,0 366.9,0 298.0,434 292.8,434" fill="#8a8a8c"/>
<polygon points="363.4,0 364.8,0 294.8,434 292.8,434" fill="#d9dbe0"/>
<polygon points="364.8,0 365.8,0 296.0,434 294.8,434" fill="#aeb0b4"/>
<polygon points="366.2,0 367.0,0 298.1,434 297.0,434" fill="#6f6f72"/>
<path d="M79.99 35.42L86.89 39.75L81.45 45.81ZM81.06 48.99L84.87 56.19L77.13 58.72ZM75.20 61.28L74.90 69.42L66.94 67.74ZM63.98 68.99L59.65 75.89L53.59 70.45ZM50.41 70.06L43.21 73.87L40.68 66.13ZM38.12 64.20L29.98 63.90L31.66 55.94ZM30.41 52.98L23.51 48.65L28.95 42.59ZM29.34 39.41L25.53 32.21L33.27 29.68ZM35.20 27.12L35.50 18.98L43.46 20.66ZM46.42 19.41L50.75 12.51L56.81 17.95ZM59.99 18.34L67.19 14.53L69.72 22.27ZM72.28 24.20L80.42 24.50L78.74 32.46Z" fill="#ff8614"/>
<circle cx="55.2" cy="44.2" r="26.2" fill="#d9e1f7"/>
<circle cx="55.2" cy="44.2" r="23.8" fill="#ff8614"/>
<clipPath id="moonc"><path d="M560 0H680V100H560Z M642 26.5A24 24 0 1 0 594 26.5A24 24 0 1 0 642 26.5Z" clip-rule="evenodd"/></clipPath>
<circle cx="628.6" cy="37.2" r="23.7" fill="#f0ec82" clip-path="url(#moonc)"/>
<polygon points="668.60,9.70 669.15,13.45 672.90,14.00 669.15,14.55 668.60,18.30 668.05,14.55 664.30,14.00 668.05,13.45" fill="#f2ee86"/>
<polygon points="621.50,21.20 621.86,23.64 624.30,24.00 621.86,24.36 621.50,26.80 621.14,24.36 618.70,24.00 621.14,23.64" fill="#f2ee86"/>
<polygon points="663.40,29.70 663.76,32.14 666.20,32.50 663.76,32.86 663.40,35.30 663.04,32.86 660.60,32.50 663.04,32.14" fill="#f2ee86"/>
<polygon points="581.30,53.50 581.81,56.99 585.30,57.50 581.81,58.01 581.30,61.50 580.79,58.01 577.30,57.50 580.79,56.99" fill="#f2ee86"/>
<polygon points="601.20,62.50 602.03,68.17 607.70,69.00 602.03,69.83 601.20,75.50 600.37,69.83 594.70,69.00 600.37,68.17" fill="#f2ee86"/>
<polygon points="637.50,66.60 637.86,69.04 640.30,69.40 637.86,69.76 637.50,72.20 637.14,69.76 634.70,69.40 637.14,69.04" fill="#f2ee86"/>
<polygon points="656.40,0.00 656.59,1.31 657.90,1.50 656.59,1.69 656.40,3.00 656.21,1.69 654.90,1.50 656.21,1.31" fill="#f2ee86"/>
<text transform="translate(16.2 33.9) scale(0.88 1)" font-size="26" font-weight="bold" fill="#000">a</text>
<text x="22" y="67" font-size="13.1" word-spacing="0.6" font-weight="bold" fill="#000">Reflective display mode in bright environment</text>
<text x="375" y="66.8" font-size="13.1" word-spacing="0.6" font-weight="bold" fill="#fff">Emissive display mode in dark environment</text>
<g fill="none" stroke="#14204a" stroke-width="1.4" stroke-dasharray="6 3.2">
<path d="M293.9 231.5V439.4H340.5V496.5"/>
</g>
<g fill="none" stroke="#111" stroke-width="1.5" stroke-dasharray="6.5 3.6">
<path d="M157.9 231.5V311"/>
<path d="M241.2 232L250.2 277"/>
</g>
<circle cx="157.9" cy="321.6" r="10.5" fill="none" stroke="#111" stroke-width="2.2" stroke-dasharray="1.6 1.7"/>
<circle cx="253" cy="303.2" r="6.5" fill="none" stroke="#111" stroke-width="0.9" stroke-dasharray="1 2.4"/>
<path d="M386 218V515.5" fill="none" stroke="#a4c2fb" stroke-width="1.4" stroke-dasharray="6 3.2"/>
<g fill="none" stroke="#1e9fe8" stroke-width="1.5" stroke-dasharray="6.5 3.8">
<path d="M493.2 218V311"/>
<path d="M573 219L586.6 291"/>
</g>
<circle cx="493.7" cy="323.7" r="10.2" fill="none" stroke="#1e9fe8" stroke-width="2" stroke-dasharray="1.6 1.7"/>
<circle cx="589.3" cy="299.2" r="8.2" fill="none" stroke="#1e9fe8" stroke-width="1.3" stroke-dasharray="1.3 1.9"/>
<rect x="16.8" y="93.6" width="290.8" height="137.8" rx="11" ry="11" fill="#f2f2f2" stroke="#14204a" stroke-width="1.3" stroke-dasharray="6 3.2"/>
<g font-size="10.3" fill="#000" text-anchor="middle">
<text x="46" y="131.4">Top</text>
<text x="46" y="143.5">electrode</text>
<text x="46" y="164.7">Display</text>
<text x="46" y="177.3">layer</text>
<text x="46" y="195.7">Bottom</text>
<text x="46" y="207.8">electrode</text>
<text x="158.3" y="119">Capsule</text><text x="158.8" y="130.8">wall</text><text x="158.5" y="149.7">Solvent</text>
</g>
<g font-size="10.3" fill="#000"><text x="248.3" y="138.1">Black state</text><text x="248.3" y="208.5">White state</text></g>
<line x1="68.5" y1="144.6" x2="116.2" y2="144.6" stroke="#bcbcbc" stroke-width="1.7"/>
<line x1="68.5" y1="188" x2="116.2" y2="188" stroke="#000" stroke-width="2"/>
<clipPath id="cc7"><circle cx="91.9" cy="166.4" r="18.4"/></clipPath><circle cx="91.9" cy="166.4" r="19.0" fill="#c4c4c4" stroke="#2b2b2b" stroke-width="1.1"/><g clip-path="url(#cc7)"><circle cx="89.0" cy="172.1" r="2.1" fill="#f7f7f7" stroke="#a8a8a8" stroke-width="0.45"/><circle cx="102.7" cy="171.7" r="2.1" fill="#0a0a0a"/><circle cx="102.1" cy="170.9" r="0.6" fill="#fff" opacity="0.55"/><circle cx="96.4" cy="168.5" r="2.1" fill="#f7f7f7" stroke="#a8a8a8" stroke-width="0.45"/><circle cx="94.6" cy="161.3" r="2.1" fill="#0a0a0a"/><circle cx="93.9" cy="160.6" r="0.6" fill="#fff" opacity="0.55"/><circle cx="80.8" cy="154.9" r="2.1" fill="#f7f7f7" stroke="#a8a8a8" stroke-width="0.45"/><circle cx="79.0" cy="176.2" r="2.1" fill="#0a0a0a"/><circle cx="78.4" cy="175.5" r="0.6" fill="#fff" opacity="0.55"/><circle cx="97.5" cy="159.5" r="2.1" fill="#0a0a0a"/><circle cx="96.8" cy="158.8" r="0.6" fill="#fff" opacity="0.55"/><circle cx="98.6" cy="172.5" r="2.1" fill="#f7f7f7" stroke="#a8a8a8" stroke-width="0.45"/><circle cx="97.2" cy="177.7" r="2.1" fill="#f7f7f7" stroke="#a8a8a8" stroke-width="0.45"/><circle cx="83.5" cy="175.1" r="2.1" fill="#0a0a0a"/><circle cx="82.8" cy="174.4" r="0.6" fill="#fff" opacity="0.55"/><circle cx="87.4" cy="156.7" r="2.1" fill="#0a0a0a"/><circle cx="86.7" cy="156.0" r="0.6" fill="#fff" opacity="0.55"/><circle cx="82.4" cy="160.7" r="2.1" fill="#0a0a0a"/><circle cx="81.8" cy="160.0" r="0.6" fill="#fff" opacity="0.55"/><circle cx="95.7" cy="153.2" r="2.1" fill="#0a0a0a"/><circle cx="95.0" cy="152.5" r="0.6" fill="#fff" opacity="0.55"/><circle cx="101.8" cy="156.5" r="2.1" fill="#0a0a0a"/><circle cx="101.2" cy="155.8" r="0.6" fill="#fff" opacity="0.55"/><circle cx="100.4" cy="152.9" r="2.1" fill="#f7f7f7" stroke="#a8a8a8" stroke-width="0.45"/><circle cx="89.8" cy="162.9" r="2.1" fill="#f7f7f7" stroke="#a8a8a8" stroke-width="0.45"/><circle cx="102.9" cy="168.0" r="2.1" fill="#0a0a0a"/><circle cx="102.3" cy="167.2" r="0.6" fill="#fff" opacity="0.55"/><circle cx="92.1" cy="176.7" r="2.1" fill="#f7f7f7" stroke="#a8a8a8" stroke-width="0.45"/><circle cx="77.2" cy="161.7" r="2.1" fill="#f7f7f7" stroke="#a8a8a8" stroke-width="0.45"/><circle cx="83.4" cy="171.4" r="2.1" fill="#f7f7f7" stroke="#a8a8a8" stroke-width="0.45"/><circle cx="98.0" cy="164.7" r="2.1" fill="#0a0a0a"/><circle cx="97.4" cy="164.0" r="0.6" fill="#fff" opacity="0.55"/><circle cx="79.4" cy="167.6" r="2.1" fill="#0a0a0a"/><circle cx="78.7" cy="166.9" r="0.6" fill="#fff" opacity="0.55"/><circle cx="104.9" cy="162.4" r="2.1" fill="#f7f7f7" stroke="#a8a8a8" stroke-width="0.45"/><circle cx="106.6" cy="171.6" r="2.1" fill="#f7f7f7" stroke="#a8a8a8" stroke-width="0.45"/><circle cx="93.6" cy="172.8" r="2.1" fill="#0a0a0a"/><circle cx="93.0" cy="172.1" r="0.6" fill="#fff" opacity="0.55"/><circle cx="92.1" cy="166.5" r="2.1" fill="#0a0a0a"/><circle cx="91.5" cy="165.7" r="0.6" fill="#fff" opacity="0.55"/><circle cx="85.7" cy="165.3" r="2.1" fill="#f7f7f7" stroke="#a8a8a8" stroke-width="0.45"/><circle cx="93.6" cy="157.1" r="2.1" fill="#0a0a0a"/><circle cx="93.0" cy="156.4" r="0.6" fill="#fff" opacity="0.55"/><circle cx="91.1" cy="180.0" r="2.1" fill="#f7f7f7" stroke="#a8a8a8" stroke-width="0.45"/><circle cx="76.9" cy="171.6" r="2.1" fill="#f7f7f7" stroke="#a8a8a8" stroke-width="0.45"/><circle cx="101.4" cy="163.6" r="2.1" fill="#0a0a0a"/><circle cx="100.8" cy="162.9" r="0.6" fill="#fff" opacity="0.55"/><circle cx="83.6" cy="153.2" r="2.1" fill="#f7f7f7" stroke="#a8a8a8" stroke-width="0.45"/><circle cx="84.6" cy="179.1" r="2.1" fill="#f7f7f7" stroke="#a8a8a8" stroke-width="0.45"/><circle cx="101.0" cy="179.1" r="2.1" fill="#f7f7f7" stroke="#a8a8a8" stroke-width="0.45"/><circle cx="78.4" cy="158.6" r="2.1" fill="#f7f7f7" stroke="#a8a8a8" stroke-width="0.45"/><circle cx="80.3" cy="164.0" r="2.1" fill="#0a0a0a"/><circle cx="79.6" cy="163.3" r="0.6" fill="#fff" opacity="0.55"/><circle cx="106.6" cy="166.8" r="2.1" fill="#0a0a0a"/><circle cx="105.9" cy="166.0" r="0.6" fill="#fff" opacity="0.55"/><circle cx="92.9" cy="150.8" r="2.1" fill="#f7f7f7" stroke="#a8a8a8" stroke-width="0.45"/><circle cx="87.1" cy="151.8" r="2.1" fill="#f7f7f7" stroke="#a8a8a8" stroke-width="0.45"/><circle cx="87.8" cy="168.0" r="2.1" fill="#0a0a0a"/><circle cx="87.1" cy="167.2" r="0.6" fill="#fff" opacity="0.55"/><circle cx="94.9" cy="182.1" r="2.1" fill="#0a0a0a"/><circle cx="94.3" cy="181.4" r="0.6" fill="#fff" opacity="0.55"/><circle cx="75.6" cy="167.7" r="2.1" fill="#f7f7f7" stroke="#a8a8a8" stroke-width="0.45"/><circle cx="90.6" cy="154.3" r="2.1" fill="#0a0a0a"/><circle cx="90.0" cy="153.6" r="0.6" fill="#fff" opacity="0.55"/><circle cx="103.6" cy="175.6" r="2.1" fill="#f7f7f7" stroke="#a8a8a8" stroke-width="0.45"/><circle cx="88.3" cy="175.5" r="2.1" fill="#0a0a0a"/><circle cx="87.7" cy="174.8" r="0.6" fill="#fff" opacity="0.55"/><circle cx="98.2" cy="155.9" r="2.1" fill="#f7f7f7" stroke="#a8a8a8" stroke-width="0.45"/><circle cx="105.5" cy="157.3" r="2.1" fill="#f7f7f7" stroke="#a8a8a8" stroke-width="0.45"/><circle cx="80.0" cy="172.9" r="2.1" fill="#0a0a0a"/><circle cx="79.4" cy="172.2" r="0.6" fill="#fff" opacity="0.55"/><circle cx="87.4" cy="181.8" r="2.1" fill="#f7f7f7" stroke="#a8a8a8" stroke-width="0.45"/><circle cx="86.3" cy="161.2" r="2.1" fill="#0a0a0a"/><circle cx="85.7" cy="160.4" r="0.6" fill="#fff" opacity="0.55"/><circle cx="90.9" cy="159.1" r="2.1" fill="#0a0a0a"/><circle cx="90.3" cy="158.3" r="0.6" fill="#fff" opacity="0.55"/><circle cx="82.7" cy="166.9" r="2.1" fill="#f7f7f7" stroke="#a8a8a8" stroke-width="0.45"/><circle cx="81.2" cy="178.7" r="2.1" fill="#f7f7f7" stroke="#a8a8a8" stroke-width="0.45"/><circle cx="98.2" cy="181.3" r="2.1" fill="#0a0a0a"/><circle cx="97.5" cy="180.6" r="0.6" fill="#fff" opacity="0.55"/><circle cx="83.6" cy="157.6" r="2.1" fill="#0a0a0a"/><circle cx="82.9" cy="156.9" r="0.6" fill="#fff" opacity="0.55"/><circle cx="101.4" cy="160.3" r="2.1" fill="#f7f7f7" stroke="#a8a8a8" stroke-width="0.45"/><circle cx="99.8" cy="169.4" r="2.1" fill="#f7f7f7" stroke="#a8a8a8" stroke-width="0.45"/></g>
<g transform="translate(93.1,135)"><path d="M-8.9 0C-5.4 -7 5.4 -7 8.9 0C5.4 7 -5.4 7 -8.9 0Z" fill="#f6f6f8" stroke="#23233c" stroke-width="1.3"/><circle cx="0" cy="-0.9" r="4.7" fill="#23233c"/><circle cx="-2" cy="-2.6" r="1.3" fill="#fff" opacity="0.9"/></g>
<g stroke="#000" stroke-width="2.3" fill="none" stroke-linejoin="miter">
<path d="M121.6 146.1L139.5 135.6"/><path d="M121.6 172L139.5 181.8"/>
</g>
<g fill="#000" stroke="#000" stroke-width="1.1" stroke-linejoin="miter">
<polygon points="142.3,133.8 134.4,133.4 138.6,135.9 140.2,141"/>
<polygon points="142.3,183.4 140.2,176.2 138.6,181.3 134.4,183.9"/>
</g>
<g stroke="#111" stroke-width="1.5"><line x1="187.1" y1="102.4" x2="192.1" y2="102.4"/><line x1="196.4" y1="102.4" x2="201.4" y2="102.4"/><line x1="205.7" y1="102.4" x2="210.7" y2="102.4"/><line x1="215.0" y1="102.4" x2="220.0" y2="102.4"/></g>
<line x1="180.1" y1="109" x2="227" y2="109" stroke="#bcbcbc" stroke-width="1.8"/>
<clipPath id="cc11"><circle cx="205.0" cy="130.0" r="18.4"/></clipPath><circle cx="205.0" cy="130.0" r="19.0" fill="#c4c4c4" stroke="#2b2b2b" stroke-width="1.1"/><g clip-path="url(#cc11)"><circle cx="196.0" cy="122.0" r="3.3" fill="#060606"/><circle cx="200.0" cy="123.5" r="3.3" fill="#060606"/><circle cx="203.0" cy="122.0" r="3.2" fill="#060606"/><circle cx="197.5" cy="117.5" r="3.0" fill="#060606"/><circle cx="201.5" cy="116.5" r="3.2" fill="#060606"/><circle cx="199.5" cy="120.0" r="3.6" fill="#060606"/><circle cx="194.2" cy="122.8" r="2.4" fill="#060606"/><circle cx="208.0" cy="122.0" r="3.3" fill="#060606"/><circle cx="212.0" cy="123.5" r="3.3" fill="#060606"/><circle cx="215.3" cy="122.0" r="3.2" fill="#060606"/><circle cx="209.5" cy="117.0" r="3.2" fill="#060606"/><circle cx="213.5" cy="116.5" r="3.0" fill="#060606"/><circle cx="211.5" cy="120.0" r="3.6" fill="#060606"/><circle cx="217.0" cy="122.8" r="2.4" fill="#060606"/><circle cx="205.5" cy="120.5" r="2.6" fill="#060606"/><circle cx="198.0" cy="117.0" r="0.55" fill="#e8e8e8"/><circle cx="203.0" cy="115.5" r="0.55" fill="#e8e8e8"/><circle cx="210.0" cy="116.0" r="0.55" fill="#e8e8e8"/><circle cx="214.5" cy="117.0" r="0.55" fill="#e8e8e8"/><circle cx="195.5" cy="125.0" r="0.55" fill="#e8e8e8"/><circle cx="207.0" cy="124.8" r="0.55" fill="#e8e8e8"/><circle cx="213.0" cy="125.4" r="0.55" fill="#e8e8e8"/><circle cx="201.0" cy="125.2" r="0.55" fill="#e8e8e8"/><path d="M194.7 121.5h4.6M197.0 119.2v4.6" stroke="#fff" stroke-width="0.75" fill="none"/><path d="M202.7 121.5h4.6M205.0 119.2v4.6" stroke="#fff" stroke-width="0.75" fill="none"/><path d="M210.9 121.5h4.6M213.2 119.2v4.6" stroke="#fff" stroke-width="0.75" fill="none"/><circle cx="201.4" cy="133.6" r="2.0" fill="#f7f7f7" stroke="#a8a8a8" stroke-width="0.45"/><circle cx="199.5" cy="137.5" r="2.0" fill="#f7f7f7" stroke="#a8a8a8" stroke-width="0.45"/><circle cx="204.0" cy="137.0" r="2.0" fill="#f7f7f7" stroke="#a8a8a8" stroke-width="0.45"/><circle cx="207.5" cy="137.0" r="2.0" fill="#f7f7f7" stroke="#a8a8a8" stroke-width="0.45"/><circle cx="195.5" cy="140.5" r="2.0" fill="#f7f7f7" stroke="#a8a8a8" stroke-width="0.45"/><circle cx="199.0" cy="141.5" r="2.0" fill="#f7f7f7" stroke="#a8a8a8" stroke-width="0.45"/><circle cx="203.0" cy="141.0" r="2.0" fill="#f7f7f7" stroke="#a8a8a8" stroke-width="0.45"/><circle cx="207.0" cy="141.0" r="2.0" fill="#f7f7f7" stroke="#a8a8a8" stroke-width="0.45"/><circle cx="211.0" cy="140.5" r="2.0" fill="#f7f7f7" stroke="#a8a8a8" stroke-width="0.45"/><circle cx="214.5" cy="140.0" r="2.0" fill="#f7f7f7" stroke="#a8a8a8" stroke-width="0.45"/><circle cx="197.0" cy="144.5" r="2.0" fill="#f7f7f7" stroke="#a8a8a8" stroke-width="0.45"/><circle cx="201.0" cy="145.5" r="2.0" fill="#f7f7f7" stroke="#a8a8a8" stroke-width="0.45"/><circle cx="205.0" cy="146.0" r="2.0" fill="#f7f7f7" stroke="#a8a8a8" stroke-width="0.45"/><circle cx="209.0" cy="145.0" r="2.0" fill="#f7f7f7" stroke="#a8a8a8" stroke-width="0.45"/><circle cx="212.5" cy="144.5" r="2.0" fill="#f7f7f7" stroke="#a8a8a8" stroke-width="0.45"/><path d="M193.7 139.7h4.6" stroke="#3a3a3a" stroke-width="0.8" fill="none"/><path d="M202.0 141.8h4.4" stroke="#3a3a3a" stroke-width="0.8" fill="none"/><path d="M211.3 140.0h4.6" stroke="#3a3a3a" stroke-width="0.8" fill="none"/><path d="M199.2 144.2h3.6" stroke="#3a3a3a" stroke-width="0.8" fill="none"/><path d="M207.7 143.6h3.6" stroke="#3a3a3a" stroke-width="0.8" fill="none"/></g>
<line x1="180.1" y1="152" x2="227" y2="152" stroke="#000" stroke-width="2"/>
<g stroke="#000" stroke-width="1.7" fill="none"><path d="M186.7 157.3h6M189.7 154.3v6"/><path d="M195.5 157.3h6M198.5 154.3v6"/><path d="M204.4 157.3h6M207.4 154.3v6"/><path d="M213.2 157.3h6M216.2 154.3v6"/></g>
<g stroke="#000" stroke-width="1.7" fill="none"><path d="M186.7 174.8h6M189.7 171.8v6"/><path d="M195.5 174.8h6M198.5 171.8v6"/><path d="M204.4 174.8h6M207.4 171.8v6"/><path d="M213.2 174.8h6M216.2 171.8v6"/></g>
<line x1="180.1" y1="180.7" x2="227" y2="180.7" stroke="#bcbcbc" stroke-width="1.8"/>
<clipPath id="cc13"><circle cx="203.6" cy="201.8" r="18.2"/></clipPath><circle cx="203.6" cy="201.8" r="18.8" fill="#c4c4c4" stroke="#2b2b2b" stroke-width="1.1"/><g clip-path="url(#cc13)"><circle cx="194.6" cy="209.8" r="3.3" fill="#060606"/><circle cx="198.6" cy="208.3" r="3.3" fill="#060606"/><circle cx="201.6" cy="209.8" r="3.2" fill="#060606"/><circle cx="196.1" cy="214.3" r="3.0" fill="#060606"/><circle cx="200.1" cy="215.3" r="3.2" fill="#060606"/><circle cx="198.1" cy="211.8" r="3.6" fill="#060606"/><circle cx="192.8" cy="209.0" r="2.4" fill="#060606"/><circle cx="206.6" cy="209.8" r="3.3" fill="#060606"/><circle cx="210.6" cy="208.3" r="3.3" fill="#060606"/><circle cx="213.9" cy="209.8" r="3.2" fill="#060606"/><circle cx="208.1" cy="214.8" r="3.2" fill="#060606"/><circle cx="212.1" cy="215.3" r="3.0" fill="#060606"/><circle cx="210.1" cy="211.8" r="3.6" fill="#060606"/><circle cx="215.6" cy="209.0" r="2.4" fill="#060606"/><circle cx="204.1" cy="211.3" r="2.6" fill="#060606"/><circle cx="196.6" cy="214.8" r="0.55" fill="#e8e8e8"/><circle cx="201.6" cy="216.3" r="0.55" fill="#e8e8e8"/><circle cx="208.6" cy="215.8" r="0.55" fill="#e8e8e8"/><circle cx="213.1" cy="214.8" r="0.55" fill="#e8e8e8"/><circle cx="194.1" cy="206.8" r="0.55" fill="#e8e8e8"/><circle cx="205.6" cy="207.0" r="0.55" fill="#e8e8e8"/><circle cx="211.6" cy="206.4" r="0.55" fill="#e8e8e8"/><circle cx="199.6" cy="206.6" r="0.55" fill="#e8e8e8"/><path d="M193.3 210.3h4.6M195.6 208.0v4.6" stroke="#fff" stroke-width="0.75" fill="none"/><path d="M201.3 210.3h4.6M203.6 208.0v4.6" stroke="#fff" stroke-width="0.75" fill="none"/><path d="M209.5 210.3h4.6M211.8 208.0v4.6" stroke="#fff" stroke-width="0.75" fill="none"/><circle cx="200.0" cy="198.2" r="2.0" fill="#f7f7f7" stroke="#a8a8a8" stroke-width="0.45"/><circle cx="198.1" cy="194.3" r="2.0" fill="#f7f7f7" stroke="#a8a8a8" stroke-width="0.45"/><circle cx="202.6" cy="194.8" r="2.0" fill="#f7f7f7" stroke="#a8a8a8" stroke-width="0.45"/><circle cx="206.1" cy="194.8" r="2.0" fill="#f7f7f7" stroke="#a8a8a8" stroke-width="0.45"/><circle cx="194.1" cy="191.3" r="2.0" fill="#f7f7f7" stroke="#a8a8a8" stroke-width="0.45"/><circle cx="197.6" cy="190.3" r="2.0" fill="#f7f7f7" stroke="#a8a8a8" stroke-width="0.45"/><circle cx="201.6" cy="190.8" r="2.0" fill="#f7f7f7" stroke="#a8a8a8" stroke-width="0.45"/><circle cx="205.6" cy="190.8" r="2.0" fill="#f7f7f7" stroke="#a8a8a8" stroke-width="0.45"/><circle cx="209.6" cy="191.3" r="2.0" fill="#f7f7f7" stroke="#a8a8a8" stroke-width="0.45"/><circle cx="213.1" cy="191.8" r="2.0" fill="#f7f7f7" stroke="#a8a8a8" stroke-width="0.45"/><circle cx="195.6" cy="187.3" r="2.0" fill="#f7f7f7" stroke="#a8a8a8" stroke-width="0.45"/><circle cx="199.6" cy="186.3" r="2.0" fill="#f7f7f7" stroke="#a8a8a8" stroke-width="0.45"/><circle cx="203.6" cy="185.8" r="2.0" fill="#f7f7f7" stroke="#a8a8a8" stroke-width="0.45"/><circle cx="207.6" cy="186.8" r="2.0" fill="#f7f7f7" stroke="#a8a8a8" stroke-width="0.45"/><circle cx="211.1" cy="187.3" r="2.0" fill="#f7f7f7" stroke="#a8a8a8" stroke-width="0.45"/><path d="M192.3 192.1h4.6" stroke="#3a3a3a" stroke-width="0.8" fill="none"/><path d="M200.6 190.0h4.4" stroke="#3a3a3a" stroke-width="0.8" fill="none"/><path d="M209.9 191.8h4.6" stroke="#3a3a3a" stroke-width="0.8" fill="none"/><path d="M197.8 187.6h3.6" stroke="#3a3a3a" stroke-width="0.8" fill="none"/><path d="M206.3 188.2h3.6" stroke="#3a3a3a" stroke-width="0.8" fill="none"/></g>
<line x1="180.1" y1="223.6" x2="227" y2="223.6" stroke="#000" stroke-width="2"/>
<g stroke="#111" stroke-width="1.5"><line x1="187.1" y1="227.9" x2="192.1" y2="227.9"/><line x1="196.4" y1="227.9" x2="201.4" y2="227.9"/><line x1="205.7" y1="227.9" x2="210.7" y2="227.9"/><line x1="215.0" y1="227.9" x2="220.0" y2="227.9"/></g>
<path d="M179.4 118.4L187.8 122.1M179.4 140.2L191.6 133.8" stroke="#222" stroke-width="0.8" fill="none"/>
<g fill="#111" style="font-family:'Liberation Serif', 'Times New Roman', serif">
<text transform="translate(248.2 172.6) scale(0.86 1)" font-size="9.6" style="font-family:'Liberation Serif', 'Times New Roman', serif">V<tspan font-size="7.2" dy="2.4">L</tspan></text>
<text transform="translate(289.6 172.6) scale(0.86 1)" font-size="9.6" style="font-family:'Liberation Serif', 'Times New Roman', serif">V<tspan font-size="7.2" dy="2.4">L</tspan></text>
</g>
<line x1="283.2" y1="170.2" x2="289" y2="170.2" stroke="#111" stroke-width="0.8"/>
<g stroke="#000" stroke-width="2.7" fill="none"><path d="M264.7 179.8V160"/><path d="M277.5 156.3V176.5"/></g>
<path d="M264.7 156.4L270 163.2L264.7 161.6L259.4 163.2Z" fill="#000" stroke="#000" stroke-width="0.8" stroke-linejoin="miter"/>
<path d="M277.5 180.2L282.8 173.2L277.5 174.9L272.2 173.2Z" fill="#000" stroke="#000" stroke-width="0.8" stroke-linejoin="miter"/>
<rect x="368.8" y="103.8" width="292.6" height="114.3" rx="8" ry="8" fill="#a2c1ff" stroke="#cfe0ff" stroke-width="1.2" stroke-dasharray="5 3"/>
<g font-size="10.3" fill="#000" text-anchor="middle">
<text x="401.4" y="124.1">Top</text>
<text x="401.4" y="136.4">electrode</text>
<text x="401.4" y="157.4">Display</text>
<text x="401.4" y="169.2">layer</text>
<text x="401.4" y="189.7">Bottom</text>
<text x="401.4" y="202.2">electrode</text>
</g>
<g font-size="10.3" fill="#000"><text x="429.3" y="202.3">Non-luminous state</text><text x="582.6" y="202.3">Luminous state</text><text x="517" y="136.7">AC voltage</text><text x="517" y="169.8">DC voltage</text></g>
<path d="M480.4 133V123.1H436.7V183.1H480.4V173.3" fill="none" stroke="#000" stroke-width="1.6"/><path d="M458.5 133H502.1M458.5 173.3H502.1" stroke="#4a4a4a" stroke-width="1.5" fill="none"/><ellipse cx="480.5" cy="153.4" rx="18.3" ry="15" fill="#dcdcdc"/><circle cx="436.7" cy="156.7" r="6.5" fill="#fff" stroke="#777" stroke-width="0.7"/>
<path d="M436.7 152.6V161" stroke="#000" stroke-width="1" fill="none"/><circle cx="436.7" cy="152.4" r="1" fill="#000"/>
<path d="M631.6 133V123.1H587.6V183.1H631.6V173.3" fill="none" stroke="#000" stroke-width="1.6"/><path d="M609.4 133H653.0M609.4 173.3H653.0" stroke="#4a4a4a" stroke-width="1.5" fill="none"/><ellipse cx="631.5" cy="153.4" rx="18" ry="14.8" fill="#04e4fb" filter="url(#blur1)"/><circle cx="587.6" cy="156.7" r="6.5" fill="#fff" stroke="#777" stroke-width="0.7"/>
<text x="587.6" y="161.8" font-size="13" font-weight="bold" text-anchor="middle" fill="#000">~</text>
<g stroke="#000" stroke-width="1.6"><line x1="508" y1="147.4" x2="566" y2="147.4"/><line x1="513" y1="154.9" x2="571" y2="154.9"/></g>
<polygon points="571.2,147.4 565.6,144.9 565.6,149.9" fill="#000"/><polygon points="507.8,154.9 513.4,152.4 513.4,157.4" fill="#000"/>
<defs>
<linearGradient id="slabw" x1="0" y1="0" x2="1" y2="0"><stop offset="0" stop-color="#f4f4f4"/><stop offset="1" stop-color="#e2e2e2"/></linearGradient>
<linearGradient id="itotop" x1="0" y1="0" x2="1" y2="0"><stop offset="0" stop-color="#eeeeee"/><stop offset="1" stop-color="#e7e7e7"/></linearGradient>
<linearGradient id="dispg" x1="0" y1="0" x2="1" y2="0"><stop offset="0" stop-color="#c9cdd8"/><stop offset="0.5" stop-color="#9aa6bf"/><stop offset="1" stop-color="#c2cad6"/></linearGradient>
<radialGradient id="bb" cx="0.4" cy="0.35" r="0.7"><stop offset="0" stop-color="#3aa8f6"/><stop offset="1" stop-color="#1580dc"/></radialGradient>
</defs>
<text x="16.1" y="467.9" font-size="26.4" font-weight="bold" fill="#000">b</text>
<path d="M28.4 516.1 C75.1 523.8 119.1 537.0 158.3 557.5 L158.3 567.8 C119.1 545.8 75.1 531.5 28.4 523.8 Z" fill="url(#slabw)"/>
<polygon points="158.3,557.5 210.5,547.6 210.5,557.9 158.3,567.8" fill="#dcdcdc"/>
<path d="M28.4 510.6 L174.2 522.7 C187.4 524.9 200.6 529.3 210.5 534.8 L210.5 548.0 L158.3 557.9 C119.1 537.7 75.1 524.4 28.4 516.5 Z" fill="#000"/>
<polygon points="28.4,494.1 213.8,502.9 213.8,515.6 163.2,526.0 28.4,511.2" fill="url(#dispg)"/>
<polygon points="28.4,507.7 163.2,522.7 163.2,526.2 28.4,511.2" fill="#3b4a72"/>
<polygon points="28.4,505.1 163.2,520.0 163.2,522.9 28.4,507.9" fill="#7585a8" opacity="0.45"/>
<polygon points="163.2,520.0 213.8,507.7 213.8,515.6 163.2,526.2" fill="#b9c4cf"/>
<circle cx="35.3" cy="497.7" r="2.6" fill="#1c2c55"/><circle cx="35.2" cy="497.7" r="2.2" fill="url(#bb)"/><circle cx="34.8" cy="497.8" r="2.6" fill="#1c2c55"/><circle cx="42.6" cy="498.0" r="2.5" fill="#1c2c55"/><circle cx="55.8" cy="498.2" r="2.5" fill="#1c2c55"/><circle cx="53.1" cy="498.7" r="2.3" fill="#1c2c55"/><circle cx="42.5" cy="498.9" r="2.4" fill="url(#bb)"/><circle cx="56.5" cy="498.9" r="2.5" fill="#1c2c55"/><circle cx="68.1" cy="498.9" r="2.2" fill="#22335e"/><ellipse cx="68.1" cy="500.0" rx="1.7" ry="1.0" fill="#dfe6ee"/><circle cx="59.5" cy="499.0" r="2.7" fill="url(#bb)"/><circle cx="61.9" cy="499.0" r="2.4" fill="#1c2c55"/><circle cx="66.4" cy="499.0" r="2.4" fill="#1c2c55"/><circle cx="59.2" cy="499.1" r="2.3" fill="#1c2c55"/><circle cx="49.4" cy="499.1" r="2.4" fill="#1c2c55"/><circle cx="51.7" cy="499.1" r="2.9" fill="#1c2c55"/><circle cx="67.5" cy="499.1" r="2.4" fill="#1c2c55"/><circle cx="43.1" cy="499.1" r="2.3" fill="#1c2c55"/><circle cx="49.6" cy="499.2" r="2.4" fill="#1c2c55"/><circle cx="47.3" cy="499.4" r="2.9" fill="#22335e"/><ellipse cx="47.3" cy="500.6" rx="2.1" ry="1.3" fill="#dfe6ee"/><circle cx="47.6" cy="499.4" r="2.3" fill="#1c2c55"/><circle cx="39.5" cy="499.5" r="2.4" fill="url(#bb)"/><circle cx="68.9" cy="499.5" r="2.3" fill="#1c2c55"/><circle cx="63.3" cy="499.6" r="2.7" fill="#22335e"/><ellipse cx="63.3" cy="500.9" rx="2.0" ry="1.2" fill="#dfe6ee"/><circle cx="38.0" cy="499.7" r="2.5" fill="url(#bb)"/><circle cx="36.5" cy="499.8" r="2.3" fill="url(#bb)"/><circle cx="69.6" cy="499.8" r="2.8" fill="#1c2c55"/><circle cx="76.6" cy="499.9" r="2.4" fill="#1c2c55"/><circle cx="51.3" cy="500.1" r="2.7" fill="#1c2c55"/><circle cx="57.0" cy="500.1" r="2.5" fill="#1c2c55"/><circle cx="64.3" cy="500.2" r="2.8" fill="#1c2c55"/><circle cx="60.7" cy="500.2" r="2.2" fill="#1c2c55"/><circle cx="102.5" cy="500.3" r="2.4" fill="#1c2c55"/><circle cx="72.7" cy="500.3" r="2.4" fill="#1c2c55"/><circle cx="44.4" cy="500.4" r="2.4" fill="#22335e"/><ellipse cx="44.4" cy="501.4" rx="1.8" ry="1.1" fill="#dfe6ee"/><circle cx="88.2" cy="500.8" r="2.8" fill="#22335e"/><ellipse cx="88.2" cy="502.0" rx="2.1" ry="1.2" fill="#dfe6ee"/><circle cx="57.1" cy="500.8" r="2.6" fill="url(#bb)"/><circle cx="85.5" cy="501.0" r="2.4" fill="#1c2c55"/><circle cx="92.9" cy="501.0" r="2.6" fill="url(#bb)"/><circle cx="48.4" cy="501.2" r="2.8" fill="url(#bb)"/><circle cx="92.6" cy="501.2" r="2.6" fill="url(#bb)"/><circle cx="80.5" cy="501.2" r="2.5" fill="#1c2c55"/><circle cx="98.3" cy="501.3" r="2.7" fill="#1c2c55"/><circle cx="59.1" cy="501.3" r="2.6" fill="url(#bb)"/><circle cx="88.4" cy="501.3" r="2.5" fill="#1c2c55"/><circle cx="82.2" cy="501.4" r="2.5" fill="#1c2c55"/><circle cx="118.1" cy="501.5" r="2.3" fill="#1c2c55"/><circle cx="57.2" cy="501.5" r="2.5" fill="#1c2c55"/><circle cx="58.8" cy="501.6" r="2.8" fill="url(#bb)"/><circle cx="113.1" cy="501.6" r="2.4" fill="#1c2c55"/><circle cx="42.5" cy="501.7" r="2.5" fill="url(#bb)"/><circle cx="48.9" cy="501.7" r="2.6" fill="url(#bb)"/><circle cx="49.7" cy="501.7" r="2.6" fill="#22335e"/><ellipse cx="49.7" cy="502.9" rx="2.0" ry="1.2" fill="#dfe6ee"/><circle cx="57.0" cy="501.8" r="2.3" fill="url(#bb)"/><circle cx="42.5" cy="501.9" r="2.5" fill="url(#bb)"/><circle cx="134.2" cy="501.9" r="2.7" fill="#1c2c55"/><circle cx="98.3" cy="502.0" r="2.2" fill="#1c2c55"/><circle cx="71.6" cy="502.0" r="2.3" fill="#1c2c55"/><circle cx="38.7" cy="502.1" r="2.7" fill="#1c2c55"/><circle cx="68.7" cy="502.1" r="2.8" fill="url(#bb)"/><circle cx="52.6" cy="502.2" r="2.2" fill="url(#bb)"/><circle cx="116.3" cy="502.2" r="2.3" fill="url(#bb)"/><circle cx="73.8" cy="502.3" r="2.6" fill="url(#bb)"/><circle cx="115.3" cy="502.4" r="2.4" fill="#1c2c55"/><circle cx="48.4" cy="502.4" r="2.7" fill="url(#bb)"/><circle cx="104.4" cy="502.4" r="2.2" fill="url(#bb)"/><circle cx="137.1" cy="502.4" r="2.5" fill="#1c2c55"/><circle cx="50.9" cy="502.5" r="2.3" fill="url(#bb)"/><circle cx="45.4" cy="502.5" r="2.4" fill="url(#bb)"/><circle cx="67.1" cy="502.5" r="2.7" fill="url(#bb)"/><circle cx="36.0" cy="502.5" r="2.6" fill="url(#bb)"/><circle cx="101.7" cy="502.5" r="2.8" fill="#1c2c55"/><circle cx="73.9" cy="502.6" r="2.8" fill="#22335e"/><ellipse cx="73.9" cy="503.8" rx="2.1" ry="1.3" fill="#dfe6ee"/><circle cx="135.7" cy="502.6" r="2.6" fill="#1c2c55"/><circle cx="34.7" cy="502.6" r="2.8" fill="#1c2c55"/><circle cx="44.4" cy="502.7" r="2.3" fill="#22335e"/><ellipse cx="44.4" cy="503.7" rx="1.7" ry="1.0" fill="#dfe6ee"/><circle cx="127.8" cy="502.7" r="2.5" fill="#1c2c55"/><circle cx="117.5" cy="502.7" r="2.4" fill="url(#bb)"/><circle cx="43.5" cy="502.8" r="2.6" fill="url(#bb)"/><circle cx="145.0" cy="502.8" r="2.3" fill="url(#bb)"/><circle cx="149.9" cy="502.9" r="2.8" fill="#22335e"/><ellipse cx="149.9" cy="504.1" rx="2.1" ry="1.3" fill="#dfe6ee"/><circle cx="56.9" cy="502.9" r="2.5" fill="url(#bb)"/><circle cx="52.3" cy="503.0" r="2.7" fill="url(#bb)"/><circle cx="35.8" cy="503.0" r="2.9" fill="#22335e"/><ellipse cx="35.8" cy="504.3" rx="2.1" ry="1.3" fill="#dfe6ee"/><circle cx="87.2" cy="503.1" r="2.9" fill="url(#bb)"/><circle cx="50.5" cy="503.1" r="2.5" fill="#1c2c55"/><circle cx="41.5" cy="503.1" r="2.8" fill="#1c2c55"/><circle cx="95.7" cy="503.1" r="2.9" fill="url(#bb)"/><circle cx="59.7" cy="503.2" r="2.3" fill="url(#bb)"/><circle cx="102.4" cy="503.3" r="2.7" fill="#1c2c55"/><circle cx="46.1" cy="503.4" r="2.7" fill="url(#bb)"/><circle cx="159.8" cy="503.4" r="2.5" fill="url(#bb)"/><circle cx="76.0" cy="503.4" r="2.4" fill="url(#bb)"/><circle cx="138.0" cy="503.6" r="2.3" fill="#1c2c55"/><circle cx="77.8" cy="503.6" r="2.5" fill="url(#bb)"/><circle cx="141.1" cy="503.6" r="2.9" fill="#1c2c55"/><circle cx="43.7" cy="503.6" r="2.5" fill="#22335e"/><ellipse cx="43.7" cy="504.7" rx="1.9" ry="1.1" fill="#dfe6ee"/><circle cx="57.1" cy="503.6" r="2.4" fill="#22335e"/><ellipse cx="57.1" cy="504.7" rx="1.8" ry="1.1" fill="#dfe6ee"/><circle cx="83.0" cy="503.6" r="2.6" fill="#1c2c55"/><circle cx="106.5" cy="503.7" r="2.5" fill="url(#bb)"/><circle cx="79.0" cy="503.7" r="2.6" fill="#1c2c55"/><circle cx="58.6" cy="503.7" r="2.5" fill="url(#bb)"/><circle cx="150.3" cy="503.7" r="2.4" fill="url(#bb)"/><circle cx="104.7" cy="503.7" r="2.2" fill="url(#bb)"/><circle cx="88.4" cy="503.8" r="2.8" fill="url(#bb)"/><circle cx="92.5" cy="503.8" r="2.7" fill="url(#bb)"/><circle cx="63.3" cy="503.8" r="2.4" fill="url(#bb)"/><circle cx="148.4" cy="503.8" r="2.5" fill="url(#bb)"/><circle cx="34.2" cy="503.8" r="2.6" fill="url(#bb)"/><circle cx="126.3" cy="503.9" r="2.6" fill="#22335e"/><ellipse cx="126.3" cy="505.1" rx="1.9" ry="1.1" fill="#dfe6ee"/><circle cx="173.1" cy="503.9" r="2.8" fill="#22335e"/><ellipse cx="173.1" cy="505.2" rx="2.1" ry="1.3" fill="#dfe6ee"/><circle cx="138.5" cy="504.1" r="2.7" fill="url(#bb)"/><circle cx="139.6" cy="504.1" r="2.4" fill="#1c2c55"/><circle cx="52.6" cy="504.2" r="2.4" fill="url(#bb)"/><circle cx="86.0" cy="504.2" r="2.6" fill="url(#bb)"/><circle cx="116.2" cy="504.2" r="2.3" fill="url(#bb)"/><circle cx="78.4" cy="504.3" r="2.9" fill="url(#bb)"/><circle cx="107.5" cy="504.3" r="2.2" fill="url(#bb)"/><circle cx="180.2" cy="504.4" r="2.5" fill="url(#bb)"/><circle cx="191.8" cy="504.4" r="2.4" fill="url(#bb)"/><circle cx="108.8" cy="504.4" r="2.6" fill="#22335e"/><ellipse cx="108.8" cy="505.5" rx="1.9" ry="1.2" fill="#dfe6ee"/><circle cx="50.2" cy="504.4" r="2.2" fill="url(#bb)"/><circle cx="115.8" cy="504.5" r="2.4" fill="url(#bb)"/><circle cx="186.2" cy="504.5" r="2.9" fill="url(#bb)"/><circle cx="156.0" cy="504.5" r="2.8" fill="url(#bb)"/><circle cx="163.8" cy="504.5" r="2.4" fill="url(#bb)"/><circle cx="110.3" cy="504.5" r="2.5" fill="url(#bb)"/><circle cx="82.4" cy="504.6" r="2.2" fill="url(#bb)"/><circle cx="33.9" cy="504.6" r="2.3" fill="url(#bb)"/><circle cx="160.9" cy="504.6" r="2.3" fill="url(#bb)"/><circle cx="88.3" cy="504.6" r="2.9" fill="url(#bb)"/><circle cx="48.1" cy="504.6" r="2.4" fill="#1c2c55"/><circle cx="152.3" cy="504.6" r="2.4" fill="url(#bb)"/><circle cx="101.8" cy="504.6" r="2.2" fill="url(#bb)"/><circle cx="34.6" cy="504.7" r="2.3" fill="url(#bb)"/><circle cx="185.9" cy="504.7" r="2.9" fill="url(#bb)"/><circle cx="161.3" cy="504.8" r="2.7" fill="#1c2c55"/><circle cx="35.1" cy="504.8" r="2.8" fill="url(#bb)"/><circle cx="108.7" cy="504.8" r="2.8" fill="#22335e"/><ellipse cx="108.7" cy="506.1" rx="2.1" ry="1.3" fill="#dfe6ee"/><circle cx="197.8" cy="504.8" r="2.7" fill="url(#bb)"/><circle cx="33.9" cy="504.9" r="2.4" fill="#22335e"/><ellipse cx="33.9" cy="506.0" rx="1.8" ry="1.1" fill="#dfe6ee"/><circle cx="139.3" cy="504.9" r="2.3" fill="#1c2c55"/><circle cx="106.4" cy="505.0" r="2.4" fill="#1c2c55"/><circle cx="197.5" cy="505.0" r="2.2" fill="url(#bb)"/><circle cx="70.2" cy="505.0" r="2.3" fill="#1c2c55"/><circle cx="101.2" cy="505.0" r="2.7" fill="url(#bb)"/><circle cx="55.0" cy="505.0" r="2.5" fill="url(#bb)"/><circle cx="36.2" cy="505.0" r="2.2" fill="url(#bb)"/><circle cx="159.8" cy="505.0" r="2.4" fill="#22335e"/><ellipse cx="159.8" cy="506.1" rx="1.8" ry="1.1" fill="#dfe6ee"/><circle cx="171.6" cy="505.0" r="2.8" fill="url(#bb)"/><circle cx="105.2" cy="505.0" r="2.8" fill="url(#bb)"/><circle cx="78.5" cy="505.1" r="2.7" fill="#22335e"/><ellipse cx="78.5" cy="506.3" rx="2.0" ry="1.2" fill="#dfe6ee"/><circle cx="196.8" cy="505.1" r="2.7" fill="url(#bb)"/><circle cx="44.9" cy="505.2" r="2.8" fill="url(#bb)"/><circle cx="42.8" cy="505.2" r="2.6" fill="url(#bb)"/><circle cx="59.9" cy="505.3" r="2.5" fill="url(#bb)"/><circle cx="155.8" cy="505.3" r="2.6" fill="url(#bb)"/><circle cx="85.8" cy="505.3" r="2.4" fill="url(#bb)"/><circle cx="119.8" cy="505.3" r="2.2" fill="url(#bb)"/><circle cx="38.0" cy="505.3" r="2.4" fill="#22335e"/><ellipse cx="38.0" cy="506.4" rx="1.8" ry="1.1" fill="#dfe6ee"/><circle cx="58.3" cy="505.4" r="2.5" fill="#1c2c55"/><circle cx="60.3" cy="505.4" r="2.3" fill="url(#bb)"/><circle cx="129.4" cy="505.4" r="2.3" fill="url(#bb)"/><circle cx="121.2" cy="505.4" r="2.4" fill="#22335e"/><ellipse cx="121.2" cy="506.5" rx="1.8" ry="1.1" fill="#dfe6ee"/><circle cx="201.1" cy="505.4" r="2.5" fill="#22335e"/><ellipse cx="201.1" cy="506.5" rx="1.8" ry="1.1" fill="#dfe6ee"/><circle cx="187.5" cy="505.5" r="2.9" fill="url(#bb)"/><circle cx="173.2" cy="505.5" r="2.5" fill="url(#bb)"/><circle cx="178.9" cy="505.5" r="2.8" fill="url(#bb)"/><circle cx="177.4" cy="505.5" r="2.7" fill="url(#bb)"/><circle cx="204.6" cy="505.5" r="2.6" fill="url(#bb)"/><circle cx="82.8" cy="505.6" r="2.4" fill="#22335e"/><ellipse cx="82.8" cy="506.7" rx="1.8" ry="1.1" fill="#dfe6ee"/><circle cx="61.9" cy="505.6" r="2.5" fill="url(#bb)"/><circle cx="140.8" cy="505.6" r="2.4" fill="#1c2c55"/><circle cx="125.1" cy="505.6" r="2.6" fill="url(#bb)"/><circle cx="187.8" cy="505.7" r="2.8" fill="url(#bb)"/><circle cx="46.3" cy="505.7" r="2.8" fill="url(#bb)"/><circle cx="108.8" cy="505.7" r="2.4" fill="url(#bb)"/><circle cx="88.3" cy="505.7" r="2.3" fill="url(#bb)"/><circle cx="46.3" cy="505.7" r="2.2" fill="#22335e"/><ellipse cx="46.3" cy="506.7" rx="1.7" ry="1.0" fill="#dfe6ee"/><circle cx="190.8" cy="505.8" r="2.6" fill="url(#bb)"/><circle cx="173.0" cy="505.8" r="2.4" fill="url(#bb)"/><circle cx="161.4" cy="505.8" r="2.2" fill="url(#bb)"/><circle cx="84.5" cy="505.9" r="2.4" fill="#22335e"/><ellipse cx="84.5" cy="506.9" rx="1.8" ry="1.1" fill="#dfe6ee"/><circle cx="190.8" cy="505.9" r="2.4" fill="url(#bb)"/><circle cx="89.0" cy="506.0" r="2.3" fill="#22335e"/><ellipse cx="89.0" cy="507.0" rx="1.8" ry="1.1" fill="#dfe6ee"/><circle cx="161.5" cy="506.0" r="2.7" fill="#22335e"/><ellipse cx="161.5" cy="507.2" rx="2.0" ry="1.2" fill="#dfe6ee"/><circle cx="152.4" cy="506.0" r="2.6" fill="#1c2c55"/><circle cx="54.2" cy="506.0" r="2.4" fill="url(#bb)"/><circle cx="99.5" cy="506.1" r="2.7" fill="url(#bb)"/><circle cx="120.8" cy="506.1" r="2.3" fill="url(#bb)"/><circle cx="79.7" cy="506.1" r="2.8" fill="#22335e"/><ellipse cx="79.7" cy="507.4" rx="2.1" ry="1.3" fill="#dfe6ee"/><circle cx="202.8" cy="506.1" r="2.3" fill="url(#bb)"/><circle cx="115.0" cy="506.1" r="2.6" fill="#22335e"/><ellipse cx="115.0" cy="507.3" rx="2.0" ry="1.2" fill="#dfe6ee"/><circle cx="162.7" cy="506.2" r="2.7" fill="#22335e"/><ellipse cx="162.7" cy="507.4" rx="2.0" ry="1.2" fill="#dfe6ee"/><circle cx="37.2" cy="506.2" r="2.7" fill="#1c2c55"/><circle cx="132.6" cy="506.2" r="2.5" fill="url(#bb)"/><circle cx="206.7" cy="506.2" r="2.8" fill="url(#bb)"/><circle cx="42.2" cy="506.2" r="2.6" fill="url(#bb)"/><circle cx="154.3" cy="506.3" r="2.7" fill="url(#bb)"/><circle cx="183.7" cy="506.4" r="2.3" fill="url(#bb)"/><circle cx="142.4" cy="506.4" r="2.3" fill="url(#bb)"/><circle cx="99.2" cy="506.4" r="2.5" fill="#22335e"/><ellipse cx="99.2" cy="507.5" rx="1.9" ry="1.1" fill="#dfe6ee"/><circle cx="196.4" cy="506.5" r="2.6" fill="#22335e"/><ellipse cx="196.4" cy="507.7" rx="1.9" ry="1.2" fill="#dfe6ee"/><circle cx="201.3" cy="506.6" r="2.3" fill="#22335e"/><ellipse cx="201.3" cy="507.6" rx="1.7" ry="1.0" fill="#dfe6ee"/><circle cx="178.4" cy="506.6" r="2.7" fill="url(#bb)"/><circle cx="98.2" cy="506.6" r="2.4" fill="url(#bb)"/><circle cx="124.5" cy="506.6" r="2.5" fill="url(#bb)"/><circle cx="183.0" cy="506.6" r="2.6" fill="#22335e"/><ellipse cx="183.0" cy="507.8" rx="1.9" ry="1.2" fill="#dfe6ee"/><circle cx="198.9" cy="506.6" r="2.8" fill="#22335e"/><ellipse cx="198.9" cy="507.9" rx="2.1" ry="1.3" fill="#dfe6ee"/><circle cx="112.6" cy="506.7" r="2.4" fill="url(#bb)"/><circle cx="63.6" cy="506.7" r="2.6" fill="url(#bb)"/><circle cx="195.5" cy="506.7" r="2.6" fill="url(#bb)"/><circle cx="108.3" cy="506.8" r="2.7" fill="#22335e"/><ellipse cx="108.3" cy="508.0" rx="2.0" ry="1.2" fill="#dfe6ee"/><circle cx="167.9" cy="506.9" r="2.4" fill="url(#bb)"/><circle cx="198.6" cy="506.9" r="2.4" fill="url(#bb)"/><circle cx="193.5" cy="506.9" r="2.5" fill="url(#bb)"/><circle cx="204.0" cy="506.9" r="2.6" fill="url(#bb)"/><circle cx="109.7" cy="506.9" r="2.7" fill="#22335e"/><ellipse cx="109.7" cy="508.1" rx="2.0" ry="1.2" fill="#dfe6ee"/><circle cx="204.6" cy="507.0" r="2.3" fill="url(#bb)"/><circle cx="40.1" cy="507.1" r="2.5" fill="url(#bb)"/><circle cx="82.8" cy="507.1" r="2.6" fill="#1c2c55"/><circle cx="43.4" cy="507.1" r="2.3" fill="url(#bb)"/><circle cx="198.0" cy="507.1" r="2.3" fill="url(#bb)"/><circle cx="80.0" cy="507.1" r="2.9" fill="url(#bb)"/><circle cx="59.6" cy="507.2" r="2.2" fill="url(#bb)"/><circle cx="46.1" cy="507.2" r="2.5" fill="url(#bb)"/><circle cx="108.7" cy="507.2" r="2.4" fill="url(#bb)"/><circle cx="132.1" cy="507.2" r="2.2" fill="#22335e"/><ellipse cx="132.1" cy="508.2" rx="1.7" ry="1.0" fill="#dfe6ee"/><circle cx="195.6" cy="507.2" r="2.4" fill="url(#bb)"/><circle cx="122.7" cy="507.3" r="2.3" fill="url(#bb)"/><circle cx="128.8" cy="507.3" r="2.5" fill="url(#bb)"/><circle cx="43.0" cy="507.3" r="2.8" fill="url(#bb)"/><circle cx="100.7" cy="507.3" r="2.3" fill="url(#bb)"/><circle cx="75.8" cy="507.3" r="2.4" fill="#1c2c55"/><circle cx="152.0" cy="507.3" r="2.7" fill="url(#bb)"/><circle cx="150.7" cy="507.4" r="2.6" fill="url(#bb)"/><circle cx="180.0" cy="507.4" r="2.2" fill="url(#bb)"/><circle cx="128.5" cy="507.4" r="2.4" fill="#1c2c55"/><circle cx="165.8" cy="507.5" r="2.4" fill="url(#bb)"/><circle cx="88.7" cy="507.5" r="2.8" fill="url(#bb)"/><circle cx="57.5" cy="507.5" r="2.5" fill="url(#bb)"/><circle cx="208.6" cy="507.6" r="2.4" fill="#1c2c55"/><circle cx="154.6" cy="507.6" r="2.5" fill="#1c2c55"/><circle cx="68.1" cy="507.7" r="2.5" fill="#1c2c55"/><circle cx="42.8" cy="507.7" r="2.3" fill="url(#bb)"/><circle cx="141.1" cy="507.7" r="2.7" fill="url(#bb)"/><circle cx="92.6" cy="507.7" r="2.7" fill="url(#bb)"/><circle cx="121.9" cy="507.7" r="2.5" fill="url(#bb)"/><circle cx="43.6" cy="507.7" r="2.6" fill="url(#bb)"/><circle cx="179.7" cy="507.8" r="2.7" fill="#1c2c55"/><circle cx="185.5" cy="507.9" r="2.9" fill="#22335e"/><ellipse cx="185.5" cy="509.1" rx="2.2" ry="1.3" fill="#dfe6ee"/><circle cx="138.2" cy="507.9" r="2.6" fill="#22335e"/><ellipse cx="138.2" cy="509.1" rx="2.0" ry="1.2" fill="#dfe6ee"/><circle cx="59.8" cy="507.9" r="2.2" fill="url(#bb)"/><circle cx="83.8" cy="507.9" r="2.6" fill="url(#bb)"/><circle cx="93.3" cy="508.0" r="2.7" fill="#1c2c55"/><circle cx="97.2" cy="508.1" r="2.4" fill="url(#bb)"/><circle cx="166.8" cy="508.1" r="2.7" fill="url(#bb)"/><circle cx="197.6" cy="508.2" r="2.5" fill="#1c2c55"/><circle cx="68.6" cy="508.2" r="2.6" fill="url(#bb)"/><circle cx="201.7" cy="508.2" r="2.6" fill="url(#bb)"/><circle cx="152.0" cy="508.2" r="2.7" fill="#22335e"/><ellipse cx="152.0" cy="509.4" rx="2.0" ry="1.2" fill="#dfe6ee"/><circle cx="201.2" cy="508.3" r="2.8" fill="#1c2c55"/><circle cx="141.1" cy="508.3" r="2.7" fill="url(#bb)"/><circle cx="191.6" cy="508.3" r="2.7" fill="url(#bb)"/><circle cx="199.9" cy="508.4" r="2.7" fill="url(#bb)"/><circle cx="179.2" cy="508.4" r="2.4" fill="url(#bb)"/><circle cx="173.3" cy="508.5" r="2.6" fill="url(#bb)"/><circle cx="205.7" cy="508.5" r="2.6" fill="#22335e"/><ellipse cx="205.7" cy="509.7" rx="2.0" ry="1.2" fill="#dfe6ee"/><circle cx="78.2" cy="508.5" r="2.2" fill="url(#bb)"/><circle cx="141.9" cy="508.6" r="2.7" fill="url(#bb)"/><circle cx="147.7" cy="508.7" r="2.4" fill="url(#bb)"/><circle cx="99.6" cy="508.7" r="2.5" fill="#22335e"/><ellipse cx="99.6" cy="509.9" rx="1.9" ry="1.1" fill="#dfe6ee"/><circle cx="190.6" cy="508.8" r="2.6" fill="url(#bb)"/><circle cx="173.8" cy="508.9" r="2.7" fill="url(#bb)"/><circle cx="171.6" cy="508.9" r="2.7" fill="url(#bb)"/><circle cx="200.8" cy="508.9" r="2.5" fill="#22335e"/><ellipse cx="200.8" cy="510.0" rx="1.9" ry="1.1" fill="#dfe6ee"/><circle cx="187.2" cy="508.9" r="2.9" fill="url(#bb)"/><circle cx="101.7" cy="508.9" r="2.5" fill="url(#bb)"/><circle cx="128.2" cy="508.9" r="2.6" fill="url(#bb)"/><circle cx="73.9" cy="509.0" r="2.9" fill="#22335e"/><ellipse cx="73.9" cy="510.3" rx="2.2" ry="1.3" fill="#dfe6ee"/><circle cx="112.0" cy="509.0" r="2.4" fill="#1c2c55"/><circle cx="166.7" cy="509.2" r="2.7" fill="#22335e"/><ellipse cx="166.7" cy="510.4" rx="2.0" ry="1.2" fill="#dfe6ee"/><circle cx="197.9" cy="509.2" r="2.9" fill="url(#bb)"/><circle cx="58.8" cy="509.2" r="2.3" fill="url(#bb)"/><circle cx="204.6" cy="509.2" r="2.7" fill="url(#bb)"/><circle cx="81.9" cy="509.3" r="2.7" fill="#22335e"/><ellipse cx="81.9" cy="510.5" rx="2.0" ry="1.2" fill="#dfe6ee"/><circle cx="205.0" cy="509.3" r="2.6" fill="#22335e"/><ellipse cx="205.0" cy="510.5" rx="1.9" ry="1.2" fill="#dfe6ee"/><circle cx="134.7" cy="509.4" r="2.8" fill="#1c2c55"/><circle cx="108.1" cy="509.4" r="2.8" fill="url(#bb)"/><circle cx="198.7" cy="509.4" r="2.3" fill="#1c2c55"/><circle cx="83.8" cy="509.4" r="2.5" fill="#1c2c55"/><circle cx="146.8" cy="509.4" r="2.6" fill="#1c2c55"/><circle cx="149.6" cy="509.4" r="2.7" fill="#22335e"/><ellipse cx="149.6" cy="510.6" rx="2.0" ry="1.2" fill="#dfe6ee"/><circle cx="149.5" cy="509.4" r="2.9" fill="#22335e"/><ellipse cx="149.5" cy="510.7" rx="2.2" ry="1.3" fill="#dfe6ee"/><circle cx="80.5" cy="509.5" r="2.8" fill="url(#bb)"/><circle cx="162.4" cy="509.5" r="2.8" fill="url(#bb)"/><circle cx="85.0" cy="509.5" r="2.2" fill="#22335e"/><ellipse cx="85.0" cy="510.5" rx="1.7" ry="1.0" fill="#dfe6ee"/><circle cx="120.2" cy="509.5" r="2.5" fill="url(#bb)"/><circle cx="178.3" cy="509.5" r="2.8" fill="url(#bb)"/><circle cx="156.8" cy="509.6" r="2.9" fill="#1c2c55"/><circle cx="65.2" cy="509.6" r="2.7" fill="#22335e"/><ellipse cx="65.2" cy="510.8" rx="2.0" ry="1.2" fill="#dfe6ee"/><circle cx="174.5" cy="509.6" r="2.4" fill="#22335e"/><ellipse cx="174.5" cy="510.7" rx="1.8" ry="1.1" fill="#dfe6ee"/><circle cx="203.9" cy="509.6" r="2.7" fill="url(#bb)"/><circle cx="79.6" cy="509.6" r="2.6" fill="url(#bb)"/><circle cx="140.1" cy="509.6" r="2.7" fill="url(#bb)"/><circle cx="202.0" cy="509.7" r="2.6" fill="url(#bb)"/><circle cx="201.2" cy="509.8" r="2.8" fill="#22335e"/><ellipse cx="201.2" cy="511.0" rx="2.1" ry="1.3" fill="#dfe6ee"/><circle cx="106.5" cy="509.8" r="2.7" fill="url(#bb)"/><circle cx="168.4" cy="509.8" r="2.9" fill="#1c2c55"/><circle cx="198.0" cy="509.9" r="2.5" fill="url(#bb)"/><circle cx="174.3" cy="509.9" r="2.5" fill="#1c2c55"/><circle cx="179.3" cy="509.9" r="2.7" fill="url(#bb)"/><circle cx="197.4" cy="509.9" r="2.6" fill="url(#bb)"/><circle cx="163.3" cy="509.9" r="2.2" fill="url(#bb)"/><circle cx="110.9" cy="510.0" r="2.9" fill="url(#bb)"/><circle cx="161.5" cy="510.0" r="2.4" fill="url(#bb)"/><circle cx="123.3" cy="510.1" r="2.5" fill="url(#bb)"/><circle cx="201.3" cy="510.1" r="2.2" fill="url(#bb)"/><circle cx="161.1" cy="510.2" r="2.3" fill="url(#bb)"/><circle cx="85.6" cy="510.2" r="2.9" fill="url(#bb)"/><circle cx="79.8" cy="510.2" r="2.4" fill="url(#bb)"/><circle cx="174.3" cy="510.2" r="2.4" fill="url(#bb)"/><circle cx="124.3" cy="510.3" r="2.8" fill="url(#bb)"/><circle cx="87.9" cy="510.3" r="2.4" fill="url(#bb)"/><circle cx="121.9" cy="510.3" r="2.7" fill="#22335e"/><ellipse cx="121.9" cy="511.5" rx="2.0" ry="1.2" fill="#dfe6ee"/><circle cx="194.1" cy="510.4" r="2.6" fill="url(#bb)"/><circle cx="166.3" cy="510.5" r="2.8" fill="#22335e"/><ellipse cx="166.3" cy="511.8" rx="2.1" ry="1.3" fill="#dfe6ee"/><circle cx="71.9" cy="510.6" r="2.5" fill="url(#bb)"/><circle cx="140.1" cy="510.6" r="2.4" fill="url(#bb)"/><circle cx="71.4" cy="510.7" r="2.4" fill="#1c2c55"/><circle cx="99.0" cy="510.7" r="2.5" fill="url(#bb)"/><circle cx="175.7" cy="510.8" r="2.2" fill="url(#bb)"/><circle cx="189.9" cy="510.8" r="2.3" fill="url(#bb)"/><circle cx="75.5" cy="511.0" r="2.3" fill="url(#bb)"/><circle cx="188.2" cy="511.1" r="2.4" fill="url(#bb)"/><circle cx="102.4" cy="511.1" r="2.7" fill="url(#bb)"/><circle cx="92.7" cy="511.1" r="2.9" fill="url(#bb)"/><circle cx="117.2" cy="511.1" r="2.4" fill="#22335e"/><ellipse cx="117.2" cy="512.2" rx="1.8" ry="1.1" fill="#dfe6ee"/><circle cx="154.0" cy="511.2" r="2.4" fill="url(#bb)"/><circle cx="161.4" cy="511.3" r="2.4" fill="url(#bb)"/><circle cx="194.2" cy="511.4" r="2.6" fill="url(#bb)"/><circle cx="184.3" cy="511.4" r="2.5" fill="#22335e"/><ellipse cx="184.3" cy="512.6" rx="1.9" ry="1.1" fill="#dfe6ee"/><circle cx="79.2" cy="511.5" r="2.3" fill="url(#bb)"/><circle cx="151.0" cy="511.5" r="2.6" fill="#22335e"/><ellipse cx="151.0" cy="512.6" rx="1.9" ry="1.2" fill="#dfe6ee"/><circle cx="140.8" cy="511.5" r="2.4" fill="url(#bb)"/><circle cx="89.2" cy="511.6" r="2.3" fill="url(#bb)"/><circle cx="84.3" cy="511.7" r="2.7" fill="url(#bb)"/><circle cx="122.1" cy="511.9" r="2.3" fill="url(#bb)"/><circle cx="113.5" cy="511.9" r="2.5" fill="#22335e"/><ellipse cx="113.5" cy="513.0" rx="1.9" ry="1.1" fill="#dfe6ee"/><circle cx="147.4" cy="511.9" r="2.7" fill="url(#bb)"/><circle cx="84.7" cy="511.9" r="2.6" fill="url(#bb)"/><circle cx="171.8" cy="511.9" r="2.8" fill="url(#bb)"/><circle cx="95.1" cy="511.9" r="2.4" fill="url(#bb)"/><circle cx="107.0" cy="512.0" r="2.9" fill="url(#bb)"/><circle cx="154.3" cy="512.0" r="2.2" fill="#22335e"/><ellipse cx="154.3" cy="513.0" rx="1.7" ry="1.0" fill="#dfe6ee"/><circle cx="148.6" cy="512.0" r="2.8" fill="#22335e"/><ellipse cx="148.6" cy="513.3" rx="2.1" ry="1.3" fill="#dfe6ee"/><circle cx="102.3" cy="512.1" r="2.5" fill="url(#bb)"/><circle cx="93.2" cy="512.2" r="2.2" fill="url(#bb)"/><circle cx="117.9" cy="512.2" r="2.4" fill="url(#bb)"/><circle cx="167.4" cy="512.2" r="2.9" fill="url(#bb)"/><circle cx="162.6" cy="512.2" r="2.7" fill="url(#bb)"/><circle cx="99.2" cy="512.2" r="2.7" fill="url(#bb)"/><circle cx="180.1" cy="512.3" r="2.8" fill="url(#bb)"/><circle cx="135.4" cy="512.3" r="2.2" fill="url(#bb)"/><circle cx="150.1" cy="512.4" r="2.4" fill="url(#bb)"/><circle cx="111.1" cy="512.4" r="2.5" fill="url(#bb)"/><circle cx="165.4" cy="512.5" r="2.8" fill="#1c2c55"/><circle cx="100.4" cy="512.5" r="2.8" fill="#1c2c55"/><circle cx="183.6" cy="512.6" r="2.3" fill="url(#bb)"/><circle cx="180.4" cy="512.7" r="2.9" fill="url(#bb)"/><circle cx="114.7" cy="512.7" r="2.6" fill="url(#bb)"/><circle cx="134.5" cy="512.9" r="2.4" fill="url(#bb)"/><circle cx="125.5" cy="513.1" r="2.3" fill="url(#bb)"/><circle cx="153.8" cy="513.3" r="2.5" fill="url(#bb)"/><circle cx="174.4" cy="513.5" r="2.6" fill="#1c2c55"/><circle cx="186.1" cy="513.5" r="2.5" fill="#22335e"/><ellipse cx="186.1" cy="514.6" rx="1.9" ry="1.1" fill="#dfe6ee"/><circle cx="120.1" cy="513.6" r="2.4" fill="url(#bb)"/><circle cx="146.8" cy="513.7" r="2.9" fill="#22335e"/><ellipse cx="146.8" cy="515.0" rx="2.1" ry="1.3" fill="#dfe6ee"/><circle cx="111.3" cy="513.9" r="2.5" fill="url(#bb)"/><circle cx="139.4" cy="513.9" r="2.4" fill="url(#bb)"/><circle cx="103.9" cy="513.9" r="2.7" fill="url(#bb)"/><circle cx="116.0" cy="513.9" r="2.4" fill="url(#bb)"/><circle cx="119.2" cy="514.0" r="2.5" fill="#1c2c55"/><circle cx="139.0" cy="514.1" r="2.3" fill="url(#bb)"/><circle cx="145.1" cy="514.1" r="2.4" fill="url(#bb)"/><circle cx="169.3" cy="514.1" r="2.9" fill="url(#bb)"/><circle cx="181.3" cy="514.1" r="2.6" fill="#22335e"/><ellipse cx="181.3" cy="515.3" rx="2.0" ry="1.2" fill="#dfe6ee"/><circle cx="142.7" cy="514.2" r="2.6" fill="#22335e"/><ellipse cx="142.7" cy="515.3" rx="1.9" ry="1.2" fill="#dfe6ee"/><circle cx="127.1" cy="514.3" r="2.7" fill="url(#bb)"/><circle cx="118.0" cy="514.5" r="2.7" fill="url(#bb)"/><circle cx="132.7" cy="514.7" r="2.6" fill="#1c2c55"/><circle cx="136.2" cy="514.7" r="2.5" fill="url(#bb)"/><circle cx="142.9" cy="514.7" r="2.3" fill="url(#bb)"/><circle cx="116.3" cy="514.8" r="2.2" fill="url(#bb)"/><circle cx="122.2" cy="514.9" r="2.3" fill="url(#bb)"/><circle cx="166.7" cy="514.9" r="2.5" fill="url(#bb)"/><circle cx="148.2" cy="514.9" r="2.2" fill="url(#bb)"/><circle cx="123.8" cy="515.1" r="2.7" fill="url(#bb)"/><circle cx="126.2" cy="515.2" r="2.4" fill="url(#bb)"/><circle cx="166.2" cy="515.2" r="2.4" fill="url(#bb)"/><circle cx="127.5" cy="515.2" r="2.4" fill="url(#bb)"/><circle cx="113.0" cy="515.2" r="2.5" fill="#22335e"/><ellipse cx="113.0" cy="516.4" rx="1.9" ry="1.1" fill="#dfe6ee"/><circle cx="166.4" cy="515.3" r="2.3" fill="#22335e"/><ellipse cx="166.4" cy="516.3" rx="1.8" ry="1.1" fill="#dfe6ee"/><circle cx="123.2" cy="515.3" r="2.8" fill="#1c2c55"/><circle cx="178.2" cy="515.4" r="2.5" fill="url(#bb)"/><circle cx="161.9" cy="515.5" r="2.2" fill="url(#bb)"/><circle cx="120.4" cy="515.5" r="2.3" fill="#1c2c55"/><circle cx="153.1" cy="515.5" r="2.8" fill="url(#bb)"/><circle cx="128.6" cy="515.7" r="2.6" fill="url(#bb)"/><circle cx="142.8" cy="515.7" r="2.4" fill="url(#bb)"/><circle cx="176.5" cy="515.9" r="2.7" fill="#22335e"/><ellipse cx="176.5" cy="517.1" rx="2.0" ry="1.2" fill="#dfe6ee"/><circle cx="142.2" cy="516.0" r="2.2" fill="url(#bb)"/><circle cx="124.4" cy="516.1" r="2.8" fill="#22335e"/><ellipse cx="124.4" cy="517.3" rx="2.1" ry="1.3" fill="#dfe6ee"/><circle cx="146.3" cy="516.1" r="2.9" fill="url(#bb)"/><circle cx="137.6" cy="516.3" r="2.7" fill="url(#bb)"/><circle cx="164.7" cy="516.6" r="2.2" fill="#22335e"/><ellipse cx="164.7" cy="517.6" rx="1.7" ry="1.0" fill="#dfe6ee"/><circle cx="135.4" cy="516.9" r="2.5" fill="#22335e"/><ellipse cx="135.4" cy="518.0" rx="1.9" ry="1.1" fill="#dfe6ee"/><circle cx="155.7" cy="517.0" r="2.8" fill="url(#bb)"/><circle cx="153.2" cy="517.1" r="2.6" fill="url(#bb)"/><circle cx="147.3" cy="517.2" r="2.3" fill="url(#bb)"/><circle cx="144.7" cy="517.2" r="2.4" fill="url(#bb)"/><circle cx="148.0" cy="517.2" r="2.2" fill="#1c2c55"/><circle cx="165.0" cy="517.4" r="2.6" fill="url(#bb)"/><circle cx="162.9" cy="517.5" r="2.3" fill="url(#bb)"/><circle cx="159.0" cy="517.5" r="2.5" fill="url(#bb)"/><circle cx="146.6" cy="517.5" r="2.8" fill="url(#bb)"/><circle cx="146.7" cy="518.0" r="2.8" fill="#22335e"/><ellipse cx="146.7" cy="519.3" rx="2.1" ry="1.3" fill="#dfe6ee"/><circle cx="158.5" cy="518.9" r="2.5" fill="#1c2c55"/><circle cx="154.6" cy="519.0" r="2.7" fill="#1c2c55"/><circle cx="162.8" cy="519.0" r="2.3" fill="url(#bb)"/><circle cx="161.8" cy="519.5" r="2.9" fill="url(#bb)"/>
<polygon points="28.4,494.1 213.8,502.9 213.8,507.7 163.2,520.0 28.4,505.1" fill="#dfe6f0" opacity="0.22"/>
<path d="M28.4 489.2 L79.5 483.0 C112.5 486.3 143.3 483.0 210.5 465.9 L210.5 474.2 C174.2 485.2 143.3 491.9 116.9 495.2 L28.4 494.7 Z" fill="#e7e1cf"/>
<g opacity="0.9"><path d="M63.0 496.7A3.7 4.7 0 0 1 70.4 496.7Z" fill="#8f7a32"/><path d="M63.9 495.8A2.2 3.0 0 0 1 67.8 495.4Z" fill="#b09a4a" opacity="0.6"/><path d="M70.9 496.3A5.3 6.6 0 0 1 81.5 496.3Z" fill="#8f7a32"/><path d="M72.2 494.9A3.2 4.2 0 0 1 77.8 494.4Z" fill="#b09a4a" opacity="0.6"/><path d="M80.1 495.8A5.9 7.4 0 0 1 92.0 495.8Z" fill="#8f7a32"/><path d="M81.6 494.3A3.6 4.8 0 0 1 87.9 493.7Z" fill="#b09a4a" opacity="0.6"/><path d="M90.5 495.8A5.5 6.9 0 0 1 101.5 495.8Z" fill="#8f7a32"/><path d="M91.9 494.4A3.3 4.4 0 0 1 97.6 493.9Z" fill="#b09a4a" opacity="0.6"/><path d="M101.3 496.5A4.2 5.2 0 0 1 109.6 496.5Z" fill="#8f7a32"/><path d="M102.3 495.4A2.5 3.3 0 0 1 106.7 495.0Z" fill="#b09a4a" opacity="0.6"/><path d="M111.0 496.9A3.3 4.1 0 0 1 117.6 496.9Z" fill="#8f7a32"/><path d="M111.8 496.1A2.0 2.6 0 0 1 115.3 495.8Z" fill="#b09a4a" opacity="0.6"/><path d="M55.9 497.1A2.6 3.3 0 0 1 61.2 497.1Z" fill="#8f7a32"/><path d="M56.6 496.5A1.6 2.1 0 0 1 59.3 496.2Z" fill="#b09a4a" opacity="0.6"/><path d="M119.6 497.1A2.2 2.8 0 0 1 124.0 497.1Z" fill="#8f7a32"/><path d="M120.1 496.6A1.3 1.8 0 0 1 122.4 496.4Z" fill="#b09a4a" opacity="0.6"/></g>
<path d="M28.4 489.2 L79.5 483.0 C112.5 486.3 143.3 483.0 210.5 465.9 L210.5 474.2 C174.2 485.2 143.3 491.9 116.9 495.2 L28.4 494.7 Z" fill="#e9e3d1" opacity="0.3"/>
<path d="M28.4 485.2 L79.5 477.5 C112.5 479.7 152.2 476.4 210.5 462.8 L210.5 466.5 C143.3 483.5 112.5 486.8 79.5 483.5 L28.4 489.6 Z" fill="#efece2"/>
<path d="M28.4 481.5 L79.5 472.0 C112.5 473.8 143.3 474.2 158.8 469.4 L210.5 459.9 L210.5 463.2 C152.2 476.9 112.5 480.2 79.5 478.0 L28.4 485.7 Z" fill="url(#itotop)"/>
<g font-size="9.6">
<text x="222.8" y="472.7" fill="#f0853a">ITO/PET (Top electrode)</text>
<text x="222.8" y="519.3" fill="#000">Display layer</text>
<text x="222.8" y="558.1" fill="#000">CNT/PET (Bottom electrode)</text>
<text x="316.6" y="509.1" fill="#000">Microcapsule</text>
<text x="316.6" y="529.9" fill="#1ea3e4">Electroluminescent powder</text>
</g>
<path d="M288 505H286.6V526.2H288M286.6 515.6H284.8" fill="none" stroke="#222" stroke-width="0.9"/>
<rect x="293.6" y="497" width="85.4" height="16.2" rx="3.2" fill="none" stroke="#111" stroke-width="1.4" stroke-dasharray="6.8 3.6"/>
<rect x="293.4" y="515.7" width="144" height="19" rx="4.5" fill="none" stroke="#a4c2fb" stroke-width="1.3" stroke-dasharray="6.8 3.7"/>
<clipPath id="mci"><circle cx="303.2" cy="504.9" r="5.5"/></clipPath>
<circle cx="303.2" cy="504.9" r="5.7" fill="#d9d9d9" stroke="#a8a8a8" stroke-width="0.5"/>
<g clip-path="url(#mci)"><circle cx="300.6" cy="502.3" r="2.9" fill="#1a1a1a"/><circle cx="305.6" cy="502.3" r="2.9" fill="#1a1a1a"/><circle cx="303.1" cy="501" r="2.4" fill="#1a1a1a"/><rect x="298" y="501.5" width="10.4" height="2.6" fill="#1a1a1a"/>
<path d="M299.6 507.2h2.6M304 506.8h2.8M301.6 508.8h3" stroke="#8a8a8a" stroke-width="0.6"/></g>
<radialGradient id="elg" cx="0.45" cy="0.3" r="0.75"><stop offset="0" stop-color="#2ea4f4"/><stop offset="0.6" stop-color="#0f7fdc"/><stop offset="1" stop-color="#07427e"/></radialGradient>
<ellipse cx="303" cy="525.8" rx="6.2" ry="4.2" fill="url(#elg)"/>
<path d="M191.6 523C199 543 210 561 232 569.5C258 578.5 300 574.5 330 569.3C375 561.5 420 554 462 546.9" fill="none" stroke="#1a98ee" stroke-width="1.5" stroke-dasharray="6.4 4.2"/>
<polygon points="468.9,545.1 457.8,542.6 462.7,546.7 460,553" fill="#1a98ee"/>
<clipPath id="mic"><rect x="469.0" y="441.0" width="184.0" height="138.7"/></clipPath>
<linearGradient id="micbg" x1="0" y1="0" x2="1" y2="1"><stop offset="0" stop-color="#1752b8"/><stop offset="0.5" stop-color="#1248ac"/><stop offset="1" stop-color="#1042a4"/></linearGradient>
<rect x="469.0" y="441.0" width="184.0" height="138.7" fill="#1248ac"/>
<g clip-path="url(#mic)">
<rect x="468.0" y="440.0" width="186.0" height="140.7" fill="url(#micbg)"/>
<circle cx="586.7" cy="444.5" r="2.2" fill="#0a2c84"/><circle cx="494.7" cy="455.2" r="2.8" fill="#0e3a9c"/><circle cx="577.7" cy="445.4" r="1.9" fill="#0a2c84"/><circle cx="562.0" cy="444.7" r="2.1" fill="#1248ac"/><circle cx="509.6" cy="522.7" r="2.9" fill="#0c3390"/><circle cx="608.6" cy="463.1" r="2.4" fill="#1a58c0"/><circle cx="497.6" cy="573.8" r="2.3" fill="#0e3a9c"/><circle cx="538.9" cy="490.8" r="2.3" fill="#1a58c0"/><circle cx="617.5" cy="542.2" r="2.6" fill="#1248ac"/><circle cx="483.5" cy="481.7" r="2.7" fill="#0d3696"/><circle cx="575.2" cy="538.7" r="1.9" fill="#0a2c84"/><circle cx="611.2" cy="577.7" r="3.0" fill="#0e3a9c"/><circle cx="538.9" cy="503.9" r="3.0" fill="#1550b6"/><circle cx="537.1" cy="470.1" r="2.2" fill="#0e3a9c"/><circle cx="581.1" cy="464.7" r="2.8" fill="#1550b6"/><circle cx="554.1" cy="478.4" r="3.1" fill="#0a2c84"/><circle cx="595.0" cy="557.9" r="2.9" fill="#0a2c84"/><circle cx="620.2" cy="552.7" r="2.4" fill="#0e3a9c"/><circle cx="507.8" cy="571.8" r="3.0" fill="#0d3696"/><circle cx="508.1" cy="510.2" r="3.0" fill="#0b2f8a"/><circle cx="495.3" cy="460.4" r="2.8" fill="#1a58c0"/><circle cx="606.5" cy="500.4" r="2.6" fill="#0d3696"/><circle cx="509.4" cy="579.4" r="2.5" fill="#0e3a9c"/><circle cx="608.1" cy="560.4" r="2.0" fill="#1550b6"/><circle cx="614.7" cy="499.6" r="1.9" fill="#1248ac"/><circle cx="578.6" cy="505.9" r="2.2" fill="#0c3390"/><circle cx="594.2" cy="456.9" r="3.0" fill="#1a58c0"/><circle cx="610.4" cy="488.2" r="2.2" fill="#1550b6"/><circle cx="552.5" cy="573.3" r="3.0" fill="#1a58c0"/><circle cx="647.8" cy="546.7" r="2.5" fill="#0e3a9c"/><circle cx="629.2" cy="482.4" r="2.7" fill="#0a2c84"/><circle cx="497.1" cy="546.8" r="2.6" fill="#0c3390"/><circle cx="579.2" cy="508.8" r="2.0" fill="#0d3696"/><circle cx="630.7" cy="556.4" r="2.2" fill="#0c3390"/><circle cx="513.3" cy="519.7" r="1.9" fill="#0b2f8a"/><circle cx="619.1" cy="576.6" r="2.5" fill="#1550b6"/><circle cx="492.6" cy="506.9" r="2.6" fill="#1a58c0"/><circle cx="566.1" cy="525.1" r="3.2" fill="#0a2c84"/><circle cx="600.2" cy="496.3" r="2.7" fill="#0d3696"/><circle cx="549.6" cy="512.8" r="2.0" fill="#0a2c84"/><circle cx="480.8" cy="443.9" r="2.6" fill="#0a2c84"/><circle cx="470.3" cy="539.2" r="1.9" fill="#0e3a9c"/><circle cx="635.6" cy="560.2" r="1.9" fill="#0a2c84"/><circle cx="520.2" cy="508.3" r="2.6" fill="#0b2f8a"/><circle cx="513.7" cy="506.6" r="2.4" fill="#0e3a9c"/><circle cx="486.8" cy="500.8" r="2.4" fill="#0b2f8a"/><circle cx="627.9" cy="448.5" r="2.7" fill="#0e3a9c"/><circle cx="480.2" cy="542.0" r="2.9" fill="#0e3a9c"/><circle cx="514.8" cy="467.4" r="2.4" fill="#1248ac"/><circle cx="502.8" cy="505.2" r="3.0" fill="#0e3a9c"/><circle cx="550.5" cy="560.5" r="2.6" fill="#0c3390"/><circle cx="589.0" cy="516.0" r="1.8" fill="#0e3a9c"/><circle cx="639.5" cy="558.7" r="2.0" fill="#0b2f8a"/><circle cx="557.6" cy="560.9" r="3.1" fill="#1550b6"/><circle cx="538.7" cy="577.7" r="2.2" fill="#0b2f8a"/><circle cx="521.5" cy="537.6" r="2.8" fill="#0b2f8a"/><circle cx="497.5" cy="482.2" r="3.2" fill="#0c3390"/><circle cx="606.6" cy="448.9" r="2.6" fill="#1550b6"/><circle cx="479.5" cy="511.4" r="3.0" fill="#0e3a9c"/><circle cx="578.5" cy="534.7" r="2.1" fill="#0e3a9c"/><circle cx="642.3" cy="520.0" r="2.6" fill="#0c3390"/><circle cx="583.0" cy="499.1" r="2.6" fill="#0d3696"/><circle cx="641.0" cy="469.3" r="2.8" fill="#0a2c84"/><circle cx="517.9" cy="459.2" r="2.7" fill="#0b2f8a"/><circle cx="527.2" cy="545.3" r="1.9" fill="#0b2f8a"/><circle cx="583.3" cy="519.1" r="1.9" fill="#0a2c84"/><circle cx="562.1" cy="459.4" r="2.3" fill="#0e3a9c"/><circle cx="630.8" cy="492.3" r="2.0" fill="#1a58c0"/><circle cx="581.5" cy="577.9" r="2.7" fill="#0c3390"/><circle cx="591.9" cy="517.9" r="3.1" fill="#0e3a9c"/><circle cx="641.8" cy="459.6" r="2.0" fill="#0e3a9c"/><circle cx="605.6" cy="462.6" r="2.2" fill="#0a2c84"/><circle cx="601.0" cy="469.2" r="2.7" fill="#1a58c0"/><circle cx="562.0" cy="475.8" r="3.1" fill="#0c3390"/><circle cx="486.0" cy="499.7" r="2.2" fill="#0c3390"/><circle cx="530.4" cy="459.1" r="3.2" fill="#1550b6"/><circle cx="605.4" cy="517.5" r="2.4" fill="#0c3390"/><circle cx="489.6" cy="572.1" r="2.8" fill="#1550b6"/><circle cx="569.4" cy="556.8" r="2.6" fill="#1550b6"/><circle cx="548.1" cy="446.8" r="2.3" fill="#0c3390"/><circle cx="634.4" cy="470.1" r="2.1" fill="#0e3a9c"/><circle cx="534.1" cy="518.7" r="3.0" fill="#1550b6"/><circle cx="639.3" cy="473.8" r="2.0" fill="#1550b6"/><circle cx="631.2" cy="444.4" r="2.8" fill="#0d3696"/><circle cx="613.0" cy="498.1" r="2.7" fill="#0a2c84"/><circle cx="518.1" cy="550.2" r="2.0" fill="#0c3390"/><circle cx="627.0" cy="471.9" r="2.9" fill="#0b2f8a"/><circle cx="533.3" cy="554.8" r="3.0" fill="#0a2c84"/><circle cx="473.4" cy="467.8" r="2.3" fill="#0e3a9c"/><circle cx="646.9" cy="479.7" r="2.7" fill="#1248ac"/><circle cx="594.0" cy="558.0" r="2.3" fill="#0c3390"/><circle cx="490.2" cy="575.6" r="2.0" fill="#1a58c0"/><circle cx="476.0" cy="523.7" r="2.3" fill="#0d3696"/><circle cx="549.3" cy="577.5" r="2.0" fill="#0a2c84"/><circle cx="515.9" cy="539.3" r="1.8" fill="#0a2c84"/><circle cx="536.0" cy="450.7" r="2.7" fill="#0d3696"/><circle cx="583.7" cy="533.0" r="2.0" fill="#1a58c0"/><circle cx="562.3" cy="533.5" r="2.3" fill="#1a58c0"/><circle cx="571.0" cy="467.6" r="2.7" fill="#1248ac"/><circle cx="593.6" cy="566.2" r="2.7" fill="#1a58c0"/><circle cx="543.7" cy="556.6" r="2.2" fill="#0a2c84"/><circle cx="548.1" cy="521.4" r="2.7" fill="#0b2f8a"/><circle cx="550.3" cy="534.7" r="2.5" fill="#1550b6"/><circle cx="590.2" cy="480.4" r="2.7" fill="#0d3696"/><circle cx="486.2" cy="573.0" r="2.1" fill="#1a58c0"/><circle cx="510.3" cy="468.6" r="1.8" fill="#0a2c84"/><circle cx="650.0" cy="525.8" r="2.9" fill="#0b2f8a"/><circle cx="545.3" cy="528.3" r="2.1" fill="#1248ac"/><circle cx="560.0" cy="474.8" r="2.7" fill="#0c3390"/><circle cx="633.2" cy="560.3" r="3.0" fill="#1248ac"/><circle cx="509.3" cy="552.5" r="2.8" fill="#0b2f8a"/><circle cx="478.2" cy="475.6" r="3.0" fill="#0b2f8a"/><circle cx="493.5" cy="505.4" r="2.5" fill="#0d3696"/><circle cx="643.8" cy="564.6" r="2.7" fill="#1248ac"/><circle cx="621.8" cy="517.0" r="3.1" fill="#0b2f8a"/><circle cx="551.8" cy="545.3" r="3.0" fill="#1a58c0"/><circle cx="609.9" cy="513.3" r="2.7" fill="#1a58c0"/><circle cx="549.9" cy="540.0" r="2.1" fill="#0d3696"/><circle cx="527.8" cy="515.9" r="2.0" fill="#0a2c84"/><circle cx="539.5" cy="462.2" r="2.1" fill="#1248ac"/><circle cx="544.0" cy="516.3" r="2.4" fill="#0a2c84"/><circle cx="622.3" cy="495.0" r="2.9" fill="#0c3390"/><circle cx="626.6" cy="547.2" r="2.3" fill="#0c3390"/><circle cx="642.5" cy="482.4" r="2.3" fill="#1248ac"/><circle cx="568.0" cy="542.9" r="2.9" fill="#0a2c84"/><circle cx="558.8" cy="478.9" r="2.5" fill="#1248ac"/><circle cx="530.8" cy="535.2" r="2.4" fill="#1550b6"/><circle cx="623.7" cy="568.5" r="3.2" fill="#0c3390"/><circle cx="635.9" cy="523.1" r="2.7" fill="#0e3a9c"/><circle cx="587.3" cy="459.8" r="2.4" fill="#0c3390"/><circle cx="516.9" cy="486.4" r="2.4" fill="#0d3696"/><circle cx="609.1" cy="493.6" r="2.9" fill="#1248ac"/><circle cx="515.4" cy="452.4" r="1.8" fill="#0c3390"/><circle cx="653.0" cy="489.5" r="2.7" fill="#0c3390"/><circle cx="607.8" cy="572.7" r="2.1" fill="#0c3390"/><circle cx="583.3" cy="474.1" r="2.5" fill="#0e3a9c"/><circle cx="572.8" cy="471.2" r="2.8" fill="#0d3696"/><circle cx="499.9" cy="525.2" r="2.8" fill="#0e3a9c"/><circle cx="612.1" cy="463.7" r="2.2" fill="#0c3390"/><circle cx="639.9" cy="520.9" r="3.1" fill="#1248ac"/><circle cx="542.0" cy="540.2" r="1.9" fill="#0a2c84"/><circle cx="487.7" cy="548.1" r="3.0" fill="#0e3a9c"/><circle cx="615.5" cy="519.5" r="1.9" fill="#1248ac"/><circle cx="590.7" cy="450.6" r="2.7" fill="#0c3390"/><circle cx="625.3" cy="555.1" r="1.9" fill="#0d3696"/><circle cx="585.9" cy="555.9" r="2.8" fill="#1248ac"/><circle cx="501.4" cy="513.4" r="2.7" fill="#0b2f8a"/><circle cx="554.5" cy="555.5" r="2.6" fill="#0d3696"/><circle cx="625.7" cy="556.2" r="1.9" fill="#0b2f8a"/><circle cx="513.9" cy="505.5" r="2.7" fill="#1248ac"/><circle cx="530.9" cy="509.6" r="2.3" fill="#0b2f8a"/><circle cx="508.0" cy="551.7" r="2.3" fill="#1a58c0"/><circle cx="571.3" cy="512.7" r="2.1" fill="#0a2c84"/><circle cx="601.5" cy="508.8" r="2.9" fill="#0b2f8a"/><circle cx="587.8" cy="509.1" r="2.9" fill="#0e3a9c"/><circle cx="523.1" cy="497.1" r="2.1" fill="#0d3696"/><circle cx="556.1" cy="514.6" r="2.4" fill="#0d3696"/><circle cx="533.7" cy="503.9" r="2.2" fill="#0a2c84"/><circle cx="491.2" cy="467.7" r="2.0" fill="#1550b6"/><circle cx="504.2" cy="543.4" r="2.2" fill="#1a58c0"/><circle cx="649.4" cy="556.5" r="2.2" fill="#0d3696"/><circle cx="502.0" cy="443.0" r="2.5" fill="#1a58c0"/><circle cx="477.4" cy="448.6" r="2.2" fill="#1550b6"/><circle cx="586.4" cy="545.4" r="1.9" fill="#0c3390"/><circle cx="574.6" cy="506.1" r="2.4" fill="#1550b6"/><circle cx="646.7" cy="476.0" r="3.0" fill="#0e3a9c"/><circle cx="620.3" cy="496.6" r="1.9" fill="#0c3390"/><circle cx="496.9" cy="553.5" r="3.1" fill="#0e3a9c"/><circle cx="651.9" cy="457.4" r="2.9" fill="#0a2c84"/><circle cx="611.7" cy="493.8" r="3.1" fill="#1a58c0"/><circle cx="627.3" cy="578.3" r="2.2" fill="#0c3390"/><circle cx="581.2" cy="543.7" r="3.1" fill="#0a2c84"/><circle cx="584.1" cy="477.7" r="1.9" fill="#0a2c84"/><circle cx="501.0" cy="451.4" r="1.8" fill="#0b2f8a"/><circle cx="595.8" cy="506.2" r="1.8" fill="#1a58c0"/><circle cx="599.1" cy="538.5" r="2.4" fill="#0a2c84"/><circle cx="639.0" cy="550.3" r="2.7" fill="#0a2c84"/><circle cx="547.2" cy="516.5" r="2.7" fill="#1a58c0"/><circle cx="621.1" cy="450.9" r="2.0" fill="#1a58c0"/><circle cx="578.5" cy="555.3" r="3.1" fill="#0b2f8a"/><circle cx="491.9" cy="536.5" r="2.8" fill="#1a58c0"/><circle cx="561.1" cy="509.5" r="1.9" fill="#0c3390"/><circle cx="632.7" cy="542.9" r="2.6" fill="#0c3390"/><circle cx="485.8" cy="574.4" r="3.0" fill="#0c3390"/><circle cx="652.9" cy="534.2" r="2.2" fill="#0c3390"/><circle cx="609.4" cy="465.3" r="2.5" fill="#0b2f8a"/><circle cx="637.6" cy="466.2" r="2.6" fill="#0b2f8a"/><circle cx="647.3" cy="506.2" r="2.4" fill="#0d3696"/><circle cx="592.3" cy="560.0" r="2.3" fill="#0b2f8a"/><circle cx="522.0" cy="572.1" r="2.9" fill="#0c3390"/><circle cx="552.7" cy="484.6" r="2.3" fill="#1248ac"/><circle cx="628.1" cy="555.4" r="1.8" fill="#0b2f8a"/><circle cx="545.0" cy="467.0" r="2.3" fill="#0b2f8a"/><circle cx="584.1" cy="546.4" r="2.1" fill="#1550b6"/><circle cx="639.7" cy="501.8" r="2.8" fill="#0e3a9c"/><circle cx="474.3" cy="528.4" r="2.9" fill="#1550b6"/><circle cx="526.2" cy="442.9" r="2.4" fill="#0a2c84"/><circle cx="651.6" cy="567.6" r="2.4" fill="#0e3a9c"/><circle cx="588.2" cy="462.4" r="3.1" fill="#1a58c0"/><circle cx="562.6" cy="478.9" r="3.0" fill="#0b2f8a"/><circle cx="513.8" cy="517.5" r="2.3" fill="#1550b6"/><circle cx="628.0" cy="479.3" r="2.9" fill="#1248ac"/><circle cx="531.5" cy="550.3" r="2.2" fill="#0c3390"/><circle cx="521.0" cy="482.4" r="2.6" fill="#0b2f8a"/><circle cx="628.2" cy="502.9" r="2.5" fill="#0d3696"/><circle cx="570.6" cy="516.4" r="2.4" fill="#0d3696"/><circle cx="629.0" cy="577.0" r="2.1" fill="#1248ac"/><circle cx="512.0" cy="548.6" r="1.9" fill="#0b2f8a"/><circle cx="598.8" cy="553.5" r="2.3" fill="#1550b6"/><circle cx="560.1" cy="446.1" r="2.5" fill="#0d3696"/><circle cx="629.0" cy="562.3" r="2.4" fill="#0b2f8a"/><circle cx="471.8" cy="461.0" r="3.0" fill="#1550b6"/><circle cx="482.8" cy="549.4" r="2.2" fill="#1248ac"/><circle cx="588.6" cy="559.1" r="3.0" fill="#1248ac"/><circle cx="644.6" cy="527.9" r="3.0" fill="#0b2f8a"/><circle cx="629.5" cy="446.0" r="1.9" fill="#1a58c0"/><circle cx="652.5" cy="544.6" r="2.4" fill="#0e3a9c"/><circle cx="608.9" cy="538.6" r="1.9" fill="#1550b6"/><circle cx="596.7" cy="566.3" r="1.9" fill="#0c3390"/><circle cx="523.0" cy="493.0" r="2.0" fill="#1248ac"/><circle cx="573.1" cy="550.9" r="2.0" fill="#0e3a9c"/><circle cx="581.1" cy="494.1" r="2.8" fill="#0b2f8a"/><circle cx="637.0" cy="460.9" r="2.4" fill="#1a58c0"/><circle cx="553.6" cy="533.5" r="3.1" fill="#0b2f8a"/><circle cx="634.8" cy="535.0" r="2.0" fill="#0b2f8a"/><circle cx="642.9" cy="578.0" r="2.2" fill="#1248ac"/><circle cx="596.0" cy="504.4" r="2.2" fill="#1248ac"/><circle cx="626.0" cy="455.8" r="2.3" fill="#0d3696"/><circle cx="574.8" cy="578.7" r="2.2" fill="#1248ac"/><circle cx="519.5" cy="519.5" r="2.8" fill="#0c3390"/><circle cx="636.6" cy="544.4" r="3.0" fill="#1a58c0"/><circle cx="611.7" cy="472.9" r="2.9" fill="#0a2c84"/><circle cx="586.1" cy="527.1" r="2.7" fill="#1550b6"/><circle cx="584.6" cy="566.3" r="2.7" fill="#1a58c0"/><circle cx="614.1" cy="445.6" r="2.3" fill="#1550b6"/><circle cx="485.6" cy="481.9" r="2.8" fill="#1550b6"/><circle cx="505.9" cy="550.1" r="3.0" fill="#0d3696"/><circle cx="566.7" cy="567.7" r="3.0" fill="#1a58c0"/><circle cx="637.2" cy="572.0" r="3.2" fill="#1a58c0"/><circle cx="606.4" cy="488.0" r="2.0" fill="#0e3a9c"/><circle cx="494.9" cy="575.1" r="3.0" fill="#1248ac"/><circle cx="647.0" cy="552.6" r="2.3" fill="#1248ac"/><circle cx="471.6" cy="515.4" r="2.4" fill="#1a58c0"/><circle cx="576.6" cy="555.1" r="3.1" fill="#0e3a9c"/><circle cx="593.2" cy="506.4" r="2.7" fill="#0d3696"/><circle cx="637.4" cy="471.7" r="1.9" fill="#0b2f8a"/><circle cx="636.3" cy="482.9" r="2.4" fill="#1550b6"/><circle cx="477.3" cy="446.2" r="3.2" fill="#0e3a9c"/><circle cx="486.9" cy="564.1" r="2.0" fill="#0b2f8a"/><circle cx="537.3" cy="572.7" r="2.8" fill="#1248ac"/><circle cx="577.1" cy="541.8" r="3.0" fill="#0e3a9c"/><circle cx="622.4" cy="526.4" r="3.1" fill="#1a58c0"/><circle cx="475.0" cy="492.4" r="2.4" fill="#0a2c84"/><circle cx="626.4" cy="454.8" r="2.8" fill="#0d3696"/><circle cx="480.1" cy="479.3" r="3.2" fill="#0b2f8a"/><circle cx="485.9" cy="470.4" r="2.7" fill="#0c3390"/><circle cx="478.3" cy="487.3" r="3.2" fill="#0a2c84"/><circle cx="481.6" cy="547.1" r="2.1" fill="#0a2c84"/><circle cx="618.6" cy="473.3" r="2.9" fill="#0c3390"/><circle cx="520.0" cy="577.5" r="3.2" fill="#1a58c0"/><circle cx="615.9" cy="456.2" r="3.0" fill="#1550b6"/><circle cx="471.7" cy="550.6" r="2.1" fill="#0d3696"/><circle cx="471.9" cy="477.8" r="2.0" fill="#1248ac"/><circle cx="565.8" cy="544.4" r="2.5" fill="#0d3696"/><circle cx="563.4" cy="456.1" r="2.5" fill="#0c3390"/><circle cx="602.8" cy="567.0" r="2.7" fill="#1a58c0"/><circle cx="553.3" cy="574.7" r="1.9" fill="#0b2f8a"/><circle cx="624.9" cy="500.1" r="2.0" fill="#0b2f8a"/><circle cx="482.5" cy="452.2" r="2.7" fill="#0e3a9c"/><circle cx="492.2" cy="527.6" r="2.6" fill="#0d3696"/><circle cx="539.1" cy="523.9" r="2.2" fill="#1248ac"/><circle cx="487.2" cy="538.3" r="3.0" fill="#0a2c84"/><circle cx="548.1" cy="564.2" r="2.4" fill="#0b2f8a"/><circle cx="542.4" cy="542.2" r="2.2" fill="#0d3696"/><circle cx="591.4" cy="492.9" r="2.0" fill="#0b2f8a"/><circle cx="481.4" cy="556.4" r="1.9" fill="#0e3a9c"/><circle cx="606.0" cy="492.7" r="2.0" fill="#0c3390"/><circle cx="576.9" cy="518.9" r="2.3" fill="#0e3a9c"/><circle cx="544.6" cy="562.2" r="3.1" fill="#1248ac"/><circle cx="628.7" cy="541.0" r="3.2" fill="#1a58c0"/><circle cx="533.7" cy="521.2" r="2.1" fill="#0b2f8a"/><circle cx="510.3" cy="456.0" r="3.0" fill="#0d3696"/><circle cx="490.1" cy="479.6" r="2.1" fill="#1248ac"/><circle cx="624.5" cy="576.2" r="2.9" fill="#0c3390"/><circle cx="581.1" cy="532.2" r="2.8" fill="#0c3390"/><circle cx="502.2" cy="538.5" r="2.2" fill="#0d3696"/><circle cx="533.6" cy="466.2" r="2.0" fill="#1248ac"/><circle cx="481.8" cy="543.8" r="3.2" fill="#0e3a9c"/><circle cx="606.3" cy="470.8" r="2.4" fill="#0d3696"/><circle cx="498.0" cy="484.2" r="2.3" fill="#0e3a9c"/><circle cx="631.5" cy="462.6" r="2.9" fill="#0c3390"/><circle cx="593.0" cy="478.7" r="2.7" fill="#0b2f8a"/><circle cx="580.7" cy="498.4" r="2.1" fill="#0e3a9c"/><circle cx="532.5" cy="456.4" r="2.7" fill="#0b2f8a"/><circle cx="566.0" cy="483.8" r="2.1" fill="#0c3390"/><circle cx="470.4" cy="482.8" r="2.1" fill="#1550b6"/><circle cx="609.6" cy="481.1" r="2.0" fill="#0b2f8a"/><circle cx="606.5" cy="465.4" r="2.3" fill="#0a2c84"/><circle cx="561.0" cy="556.6" r="2.9" fill="#0e3a9c"/><circle cx="542.1" cy="543.9" r="2.4" fill="#0b2f8a"/><circle cx="638.5" cy="560.6" r="2.6" fill="#1248ac"/><circle cx="599.5" cy="498.9" r="2.0" fill="#0c3390"/><circle cx="646.8" cy="464.8" r="3.1" fill="#0b2f8a"/><circle cx="622.1" cy="568.6" r="1.9" fill="#0e3a9c"/><circle cx="513.8" cy="522.7" r="2.5" fill="#1248ac"/><circle cx="629.2" cy="544.4" r="2.1" fill="#1550b6"/><circle cx="483.1" cy="528.8" r="2.5" fill="#0a2c84"/><circle cx="635.7" cy="489.5" r="2.8" fill="#1550b6"/><circle cx="512.5" cy="461.3" r="2.1" fill="#1550b6"/><circle cx="608.9" cy="531.9" r="2.0" fill="#0b2f8a"/><circle cx="554.4" cy="519.2" r="2.6" fill="#0d3696"/><circle cx="628.0" cy="528.0" r="2.0" fill="#0e3a9c"/><circle cx="555.3" cy="528.6" r="2.9" fill="#0c3390"/><circle cx="533.8" cy="451.3" r="2.4" fill="#0c3390"/><circle cx="479.5" cy="556.4" r="1.9" fill="#0e3a9c"/><circle cx="582.2" cy="511.3" r="2.4" fill="#0c3390"/><circle cx="551.8" cy="553.3" r="2.7" fill="#0d3696"/><circle cx="580.3" cy="510.5" r="3.1" fill="#0b2f8a"/><circle cx="488.0" cy="565.7" r="2.3" fill="#0e3a9c"/><circle cx="561.8" cy="464.9" r="2.1" fill="#0b2f8a"/><circle cx="651.3" cy="513.7" r="2.7" fill="#0d3696"/><circle cx="537.6" cy="480.2" r="2.4" fill="#0d3696"/><circle cx="593.9" cy="448.3" r="2.7" fill="#0d3696"/><circle cx="481.1" cy="454.1" r="2.7" fill="#1a58c0"/><circle cx="515.4" cy="559.1" r="3.2" fill="#1550b6"/><circle cx="530.3" cy="521.8" r="2.0" fill="#0d3696"/><circle cx="526.1" cy="532.0" r="2.7" fill="#1550b6"/><circle cx="578.5" cy="571.1" r="2.2" fill="#1248ac"/><circle cx="587.4" cy="486.6" r="2.0" fill="#0e3a9c"/><circle cx="587.9" cy="499.7" r="2.3" fill="#0d3696"/><circle cx="525.8" cy="572.9" r="2.3" fill="#0b2f8a"/><circle cx="504.3" cy="579.7" r="2.0" fill="#1a58c0"/><circle cx="624.4" cy="455.0" r="2.9" fill="#0c3390"/><circle cx="590.8" cy="562.6" r="2.7" fill="#1248ac"/><circle cx="497.4" cy="466.1" r="2.8" fill="#1550b6"/><circle cx="601.7" cy="447.1" r="2.3" fill="#0a2c84"/><circle cx="647.4" cy="525.7" r="2.9" fill="#0b2f8a"/><circle cx="512.1" cy="474.2" r="3.2" fill="#0b2f8a"/><circle cx="635.3" cy="467.9" r="2.7" fill="#0b2f8a"/><circle cx="553.9" cy="480.1" r="2.3" fill="#1248ac"/><circle cx="646.8" cy="554.3" r="2.9" fill="#1550b6"/><circle cx="629.6" cy="448.2" r="2.5" fill="#0d3696"/><circle cx="571.0" cy="455.2" r="3.0" fill="#0e3a9c"/><circle cx="521.5" cy="546.8" r="2.2" fill="#1550b6"/><circle cx="621.9" cy="453.7" r="3.1" fill="#0b2f8a"/><circle cx="631.8" cy="570.1" r="2.4" fill="#1248ac"/><circle cx="561.4" cy="473.7" r="3.2" fill="#0d3696"/><circle cx="510.3" cy="485.2" r="1.9" fill="#0d3696"/><circle cx="614.6" cy="460.1" r="2.2" fill="#0b2f8a"/><circle cx="597.1" cy="460.3" r="2.8" fill="#0b2f8a"/><circle cx="582.2" cy="566.6" r="1.8" fill="#0a2c84"/><circle cx="622.6" cy="517.1" r="2.8" fill="#1248ac"/><circle cx="489.5" cy="481.0" r="2.2" fill="#0c3390"/><circle cx="512.9" cy="529.6" r="2.7" fill="#0e3a9c"/><circle cx="489.4" cy="566.5" r="2.6" fill="#0c3390"/><circle cx="585.3" cy="520.8" r="2.8" fill="#1a58c0"/><circle cx="548.0" cy="526.3" r="2.1" fill="#1248ac"/><circle cx="503.5" cy="533.7" r="2.5" fill="#0d3696"/><circle cx="481.5" cy="514.0" r="2.5" fill="#0c3390"/><circle cx="540.8" cy="506.2" r="2.7" fill="#0d3696"/><circle cx="515.7" cy="443.3" r="2.9" fill="#0d3696"/><circle cx="513.4" cy="532.1" r="1.9" fill="#0d3696"/><circle cx="493.5" cy="489.9" r="2.3" fill="#1550b6"/><circle cx="621.8" cy="536.0" r="3.2" fill="#0b2f8a"/><circle cx="585.2" cy="553.6" r="1.9" fill="#0b2f8a"/><circle cx="475.8" cy="469.0" r="2.9" fill="#0c3390"/><circle cx="527.1" cy="484.0" r="2.4" fill="#0b2f8a"/><circle cx="515.6" cy="545.5" r="2.1" fill="#0d3696"/><circle cx="627.6" cy="447.6" r="2.7" fill="#1a58c0"/><circle cx="491.9" cy="492.0" r="3.0" fill="#0b2f8a"/><circle cx="633.6" cy="494.6" r="3.2" fill="#0b2f8a"/><circle cx="596.3" cy="492.0" r="2.9" fill="#1a58c0"/><circle cx="616.4" cy="541.8" r="1.9" fill="#1550b6"/><circle cx="569.4" cy="485.6" r="1.9" fill="#1a58c0"/><circle cx="525.4" cy="524.6" r="2.4" fill="#0b2f8a"/><circle cx="533.7" cy="446.9" r="3.0" fill="#0d3696"/><circle cx="582.1" cy="501.3" r="2.7" fill="#0c3390"/><circle cx="482.8" cy="529.4" r="2.3" fill="#1550b6"/><circle cx="644.3" cy="460.8" r="2.7" fill="#0b2f8a"/><circle cx="475.4" cy="450.3" r="2.9" fill="#0d3696"/><circle cx="535.6" cy="572.7" r="1.8" fill="#1550b6"/><circle cx="593.9" cy="572.6" r="2.3" fill="#0e3a9c"/><circle cx="574.6" cy="514.4" r="2.4" fill="#1a58c0"/><circle cx="514.9" cy="456.7" r="2.8" fill="#0b2f8a"/><circle cx="564.3" cy="567.7" r="2.0" fill="#1a58c0"/><circle cx="598.5" cy="470.8" r="2.7" fill="#0b2f8a"/><circle cx="505.8" cy="459.8" r="1.9" fill="#1550b6"/><circle cx="634.4" cy="502.7" r="1.9" fill="#0d3696"/><circle cx="591.9" cy="539.4" r="2.6" fill="#1a58c0"/><circle cx="633.0" cy="559.1" r="2.8" fill="#1550b6"/><circle cx="615.0" cy="511.6" r="2.0" fill="#0a2c84"/><circle cx="614.7" cy="473.8" r="2.5" fill="#0d3696"/><circle cx="570.9" cy="492.2" r="2.9" fill="#1550b6"/><circle cx="581.6" cy="453.0" r="2.2" fill="#0b2f8a"/><circle cx="565.7" cy="547.7" r="3.0" fill="#0e3a9c"/><circle cx="492.1" cy="485.0" r="1.9" fill="#0b2f8a"/><circle cx="594.1" cy="488.8" r="3.0" fill="#1550b6"/><circle cx="610.3" cy="458.9" r="2.5" fill="#0c3390"/><circle cx="622.0" cy="512.9" r="2.2" fill="#1550b6"/><circle cx="528.4" cy="539.4" r="2.3" fill="#1a58c0"/><circle cx="624.7" cy="475.8" r="2.7" fill="#1a58c0"/><circle cx="492.0" cy="483.0" r="2.5" fill="#1550b6"/><circle cx="577.9" cy="521.5" r="2.0" fill="#0d3696"/><circle cx="624.0" cy="519.2" r="3.0" fill="#0c3390"/><circle cx="483.9" cy="572.6" r="2.9" fill="#1a58c0"/><circle cx="588.8" cy="547.4" r="2.4" fill="#0c3390"/><circle cx="560.6" cy="528.0" r="2.2" fill="#1a58c0"/><circle cx="557.9" cy="552.6" r="2.8" fill="#1a58c0"/><circle cx="552.5" cy="536.5" r="2.0" fill="#1248ac"/><circle cx="558.1" cy="469.3" r="2.6" fill="#0d3696"/><circle cx="627.5" cy="485.3" r="3.2" fill="#0d3696"/><circle cx="648.5" cy="459.1" r="2.3" fill="#0e3a9c"/><circle cx="527.7" cy="505.7" r="2.2" fill="#0a2c84"/><circle cx="494.9" cy="448.0" r="3.1" fill="#1248ac"/><circle cx="514.7" cy="561.0" r="2.0" fill="#0d3696"/><circle cx="640.8" cy="541.0" r="2.1" fill="#1550b6"/><circle cx="560.7" cy="512.4" r="2.5" fill="#1a58c0"/><circle cx="560.5" cy="453.5" r="2.4" fill="#0b2f8a"/><circle cx="646.9" cy="470.8" r="2.3" fill="#0c3390"/><circle cx="520.8" cy="523.9" r="3.0" fill="#0b2f8a"/><circle cx="521.6" cy="442.1" r="2.0" fill="#1550b6"/><circle cx="631.4" cy="541.9" r="2.9" fill="#0d3696"/><circle cx="477.3" cy="448.1" r="2.6" fill="#0d3696"/><circle cx="570.8" cy="451.2" r="2.5" fill="#1a58c0"/><circle cx="620.9" cy="527.4" r="2.7" fill="#1550b6"/><circle cx="648.4" cy="495.6" r="2.9" fill="#0d3696"/><circle cx="571.6" cy="491.7" r="2.0" fill="#1248ac"/><circle cx="561.0" cy="447.3" r="2.0" fill="#0d3696"/><circle cx="616.9" cy="513.0" r="2.0" fill="#1550b6"/><circle cx="529.3" cy="526.0" r="2.0" fill="#1a58c0"/><circle cx="578.2" cy="511.4" r="2.5" fill="#0b2f8a"/><circle cx="599.4" cy="482.6" r="2.9" fill="#0d3696"/><circle cx="529.9" cy="456.2" r="2.4" fill="#1a58c0"/><circle cx="615.6" cy="541.6" r="2.8" fill="#0c3390"/><circle cx="578.8" cy="477.8" r="2.7" fill="#0a2c84"/><circle cx="601.7" cy="521.9" r="2.0" fill="#1248ac"/><circle cx="496.2" cy="535.4" r="1.8" fill="#0e3a9c"/><circle cx="504.1" cy="502.2" r="2.4" fill="#1248ac"/><circle cx="596.1" cy="497.9" r="2.9" fill="#0b2f8a"/><circle cx="629.6" cy="543.1" r="1.9" fill="#1550b6"/><circle cx="564.4" cy="518.8" r="3.2" fill="#0b2f8a"/><circle cx="565.7" cy="484.5" r="2.0" fill="#0d3696"/><circle cx="569.5" cy="534.7" r="3.0" fill="#1a58c0"/><circle cx="581.3" cy="467.7" r="2.1" fill="#1a58c0"/><circle cx="510.4" cy="575.9" r="2.2" fill="#1a58c0"/><circle cx="598.7" cy="536.7" r="2.5" fill="#0b2f8a"/><circle cx="533.2" cy="570.5" r="2.9" fill="#1a58c0"/><circle cx="522.0" cy="520.5" r="2.6" fill="#1248ac"/><circle cx="619.6" cy="573.4" r="2.9" fill="#1a58c0"/><circle cx="476.7" cy="573.5" r="1.9" fill="#0b2f8a"/><circle cx="589.7" cy="544.7" r="2.1" fill="#1a58c0"/><circle cx="640.7" cy="537.6" r="2.0" fill="#0a2c84"/><circle cx="513.6" cy="533.9" r="2.5" fill="#0a2c84"/><circle cx="478.7" cy="498.3" r="2.8" fill="#0e3a9c"/><circle cx="594.3" cy="460.1" r="3.2" fill="#1550b6"/><circle cx="543.9" cy="570.7" r="3.0" fill="#0b2f8a"/><circle cx="588.7" cy="545.8" r="2.2" fill="#1a58c0"/><circle cx="587.8" cy="566.9" r="1.9" fill="#0a2c84"/><circle cx="567.5" cy="541.3" r="3.1" fill="#1550b6"/><circle cx="545.9" cy="557.2" r="3.1" fill="#0c3390"/><circle cx="652.5" cy="496.1" r="2.5" fill="#1a58c0"/><circle cx="630.3" cy="442.3" r="2.6" fill="#0e3a9c"/><circle cx="639.8" cy="487.5" r="2.4" fill="#0b2f8a"/><circle cx="632.6" cy="459.6" r="2.5" fill="#1a58c0"/><circle cx="504.5" cy="456.6" r="2.0" fill="#0b2f8a"/><circle cx="588.3" cy="540.7" r="1.8" fill="#0d3696"/><circle cx="614.5" cy="519.8" r="2.9" fill="#1550b6"/><circle cx="581.4" cy="529.6" r="2.4" fill="#1248ac"/><circle cx="563.8" cy="453.0" r="2.7" fill="#1550b6"/><circle cx="649.6" cy="507.2" r="3.1" fill="#0c3390"/><circle cx="517.0" cy="473.7" r="2.9" fill="#0d3696"/><circle cx="524.6" cy="541.3" r="1.8" fill="#0d3696"/><circle cx="596.5" cy="449.6" r="2.0" fill="#1a58c0"/><circle cx="498.4" cy="536.2" r="3.1" fill="#1a58c0"/><circle cx="596.0" cy="529.6" r="3.1" fill="#0d3696"/><circle cx="582.1" cy="471.4" r="2.0" fill="#1550b6"/><circle cx="552.7" cy="578.2" r="2.3" fill="#0b2f8a"/><circle cx="608.4" cy="552.2" r="3.0" fill="#0a2c84"/><circle cx="594.2" cy="523.6" r="2.9" fill="#0b2f8a"/><circle cx="566.2" cy="491.2" r="3.1" fill="#0e3a9c"/><circle cx="480.4" cy="517.0" r="2.5" fill="#1550b6"/><circle cx="499.3" cy="559.5" r="2.4" fill="#0a2c84"/><circle cx="600.9" cy="508.8" r="3.1" fill="#0b2f8a"/><circle cx="617.8" cy="503.9" r="2.5" fill="#0b2f8a"/><circle cx="572.8" cy="518.5" r="2.7" fill="#1a58c0"/><circle cx="602.1" cy="495.9" r="2.9" fill="#0a2c84"/><circle cx="575.4" cy="447.3" r="2.3" fill="#0e3a9c"/><circle cx="568.6" cy="449.4" r="3.1" fill="#0b2f8a"/><circle cx="474.8" cy="497.7" r="2.9" fill="#1248ac"/><circle cx="537.9" cy="564.6" r="2.4" fill="#1248ac"/><circle cx="538.1" cy="535.7" r="2.7" fill="#1550b6"/><circle cx="589.3" cy="489.2" r="2.0" fill="#1248ac"/><circle cx="566.3" cy="542.0" r="2.1" fill="#0c3390"/><circle cx="608.1" cy="576.7" r="2.4" fill="#1248ac"/><circle cx="566.9" cy="555.2" r="2.1" fill="#0d3696"/><circle cx="497.5" cy="467.1" r="3.0" fill="#0e3a9c"/><circle cx="474.9" cy="532.6" r="2.7" fill="#0c3390"/><circle cx="513.3" cy="450.3" r="2.6" fill="#0b2f8a"/><circle cx="579.0" cy="538.5" r="1.9" fill="#0c3390"/><circle cx="543.0" cy="473.5" r="2.1" fill="#0c3390"/><circle cx="494.8" cy="578.8" r="2.1" fill="#0d3696"/><circle cx="575.3" cy="548.2" r="2.9" fill="#0a2c84"/><circle cx="524.5" cy="460.9" r="2.7" fill="#0a2c84"/><circle cx="545.1" cy="479.2" r="2.6" fill="#1550b6"/><circle cx="584.2" cy="500.3" r="2.5" fill="#0d3696"/><circle cx="642.3" cy="534.1" r="2.9" fill="#0d3696"/><circle cx="597.1" cy="497.6" r="2.2" fill="#1550b6"/><circle cx="607.8" cy="506.7" r="3.0" fill="#1a58c0"/><circle cx="626.8" cy="461.0" r="2.4" fill="#0c3390"/><circle cx="572.5" cy="575.2" r="2.6" fill="#1550b6"/><circle cx="540.5" cy="476.4" r="2.3" fill="#0e3a9c"/><circle cx="638.7" cy="558.5" r="1.9" fill="#0a2c84"/><circle cx="478.5" cy="493.3" r="2.6" fill="#0c3390"/><circle cx="629.7" cy="467.1" r="2.9" fill="#0a2c84"/><circle cx="557.2" cy="561.6" r="2.3" fill="#0c3390"/><circle cx="508.0" cy="467.4" r="2.8" fill="#0b2f8a"/><circle cx="637.3" cy="537.5" r="2.8" fill="#1248ac"/><circle cx="637.4" cy="517.6" r="2.9" fill="#1248ac"/><circle cx="554.8" cy="531.0" r="2.2" fill="#0d3696"/><circle cx="563.4" cy="510.0" r="1.9" fill="#0b2f8a"/><circle cx="609.1" cy="485.4" r="2.1" fill="#0d3696"/><circle cx="545.2" cy="519.0" r="2.1" fill="#1550b6"/><circle cx="472.0" cy="517.7" r="2.6" fill="#1248ac"/><circle cx="523.3" cy="468.2" r="2.1" fill="#0a2c84"/><circle cx="560.9" cy="531.8" r="2.8" fill="#1a58c0"/><circle cx="609.5" cy="508.8" r="2.8" fill="#0b2f8a"/><circle cx="553.8" cy="542.6" r="2.3" fill="#1550b6"/><circle cx="601.5" cy="508.7" r="3.1" fill="#0c3390"/><circle cx="565.4" cy="557.4" r="1.9" fill="#0c3390"/><circle cx="609.6" cy="498.2" r="3.0" fill="#0a2c84"/><circle cx="481.5" cy="461.9" r="2.1" fill="#0b2f8a"/><circle cx="537.7" cy="526.7" r="2.7" fill="#0b2f8a"/><circle cx="590.3" cy="443.2" r="2.5" fill="#1248ac"/><circle cx="471.2" cy="514.4" r="2.2" fill="#1a58c0"/><circle cx="472.2" cy="553.8" r="2.7" fill="#1550b6"/><circle cx="488.7" cy="454.4" r="2.0" fill="#0a2c84"/><circle cx="583.0" cy="476.0" r="2.3" fill="#1248ac"/><circle cx="483.5" cy="574.1" r="2.4" fill="#0a2c84"/><circle cx="651.2" cy="472.3" r="2.8" fill="#0e3a9c"/><circle cx="589.3" cy="560.0" r="2.9" fill="#0e3a9c"/><circle cx="543.6" cy="493.3" r="2.5" fill="#0c3390"/><circle cx="598.3" cy="452.5" r="3.0" fill="#0d3696"/><circle cx="573.1" cy="560.0" r="1.9" fill="#0c3390"/><circle cx="511.3" cy="566.0" r="2.8" fill="#0b2f8a"/><circle cx="518.9" cy="569.2" r="2.8" fill="#1a58c0"/><circle cx="634.5" cy="519.2" r="1.8" fill="#0d3696"/><circle cx="471.9" cy="469.7" r="2.0" fill="#1248ac"/><circle cx="639.9" cy="482.5" r="2.6" fill="#1248ac"/><circle cx="593.6" cy="516.0" r="2.3" fill="#1550b6"/><circle cx="614.5" cy="536.6" r="1.9" fill="#0d3696"/><circle cx="478.9" cy="501.6" r="3.0" fill="#0d3696"/><circle cx="580.4" cy="526.1" r="2.6" fill="#0d3696"/><circle cx="474.5" cy="478.9" r="3.2" fill="#0b2f8a"/><circle cx="511.0" cy="517.7" r="2.3" fill="#1550b6"/><circle cx="594.1" cy="532.6" r="1.9" fill="#1a58c0"/><circle cx="615.8" cy="539.9" r="1.9" fill="#1550b6"/><circle cx="538.9" cy="549.7" r="2.0" fill="#1248ac"/><circle cx="527.3" cy="455.8" r="1.8" fill="#1a58c0"/><circle cx="550.8" cy="546.6" r="1.9" fill="#0e3a9c"/><circle cx="503.5" cy="503.3" r="2.6" fill="#1248ac"/><circle cx="488.0" cy="453.4" r="2.6" fill="#0d3696"/><circle cx="627.9" cy="442.7" r="2.4" fill="#0e3a9c"/><circle cx="602.4" cy="518.6" r="3.2" fill="#0a2c84"/><circle cx="574.2" cy="464.5" r="2.3" fill="#1550b6"/><circle cx="518.5" cy="478.2" r="2.0" fill="#1550b6"/><circle cx="549.0" cy="499.4" r="2.5" fill="#0e3a9c"/><circle cx="535.4" cy="572.0" r="2.8" fill="#0b2f8a"/><circle cx="578.3" cy="468.1" r="1.9" fill="#1a58c0"/><circle cx="470.2" cy="495.9" r="3.0" fill="#1248ac"/><circle cx="617.0" cy="486.7" r="2.3" fill="#1550b6"/><circle cx="524.3" cy="524.7" r="2.8" fill="#0b2f8a"/><circle cx="526.8" cy="574.8" r="3.2" fill="#1a58c0"/><circle cx="604.2" cy="528.8" r="3.2" fill="#0a2c84"/><circle cx="529.0" cy="479.9" r="2.9" fill="#0d3696"/><circle cx="490.0" cy="519.2" r="2.6" fill="#1550b6"/><circle cx="594.4" cy="517.3" r="3.1" fill="#0b2f8a"/><circle cx="642.5" cy="470.1" r="2.9" fill="#0e3a9c"/><circle cx="619.7" cy="551.4" r="2.4" fill="#0b2f8a"/><circle cx="494.6" cy="483.0" r="2.2" fill="#1550b6"/><circle cx="600.6" cy="550.4" r="1.9" fill="#0b2f8a"/><circle cx="576.1" cy="515.1" r="3.1" fill="#1248ac"/><circle cx="569.0" cy="550.7" r="2.3" fill="#0e3a9c"/><circle cx="489.1" cy="475.4" r="2.7" fill="#1550b6"/><circle cx="588.0" cy="447.1" r="3.2" fill="#1248ac"/><circle cx="646.9" cy="487.0" r="2.9" fill="#0e3a9c"/><circle cx="470.9" cy="476.9" r="2.5" fill="#0a2c84"/><circle cx="551.0" cy="495.3" r="2.9" fill="#1550b6"/><circle cx="532.5" cy="444.4" r="1.9" fill="#1248ac"/><circle cx="638.4" cy="452.9" r="3.0" fill="#1550b6"/><circle cx="533.1" cy="488.6" r="2.9" fill="#0b2f8a"/><circle cx="533.1" cy="454.5" r="2.8" fill="#0b2f8a"/><circle cx="527.7" cy="482.6" r="2.9" fill="#0e3a9c"/><circle cx="473.2" cy="488.6" r="2.0" fill="#1550b6"/><circle cx="640.1" cy="543.7" r="2.5" fill="#1550b6"/><circle cx="529.9" cy="500.1" r="2.4" fill="#1248ac"/><circle cx="584.9" cy="466.9" r="2.7" fill="#1248ac"/><circle cx="474.4" cy="526.2" r="2.1" fill="#1248ac"/><circle cx="540.5" cy="538.7" r="2.1" fill="#0e3a9c"/><circle cx="575.2" cy="551.9" r="2.6" fill="#0d3696"/><circle cx="529.0" cy="504.5" r="2.2" fill="#0b2f8a"/><circle cx="566.1" cy="529.6" r="2.6" fill="#1248ac"/><circle cx="577.0" cy="489.3" r="3.0" fill="#1550b6"/><circle cx="618.7" cy="538.9" r="2.2" fill="#0e3a9c"/><circle cx="592.7" cy="484.4" r="2.1" fill="#0e3a9c"/><circle cx="502.7" cy="537.2" r="2.5" fill="#1248ac"/><circle cx="578.7" cy="520.7" r="2.4" fill="#0b2f8a"/><circle cx="585.9" cy="537.2" r="2.7" fill="#1550b6"/><circle cx="571.1" cy="508.9" r="2.0" fill="#0d3696"/><circle cx="623.9" cy="526.9" r="3.0" fill="#0c3390"/><circle cx="558.2" cy="468.1" r="2.3" fill="#0b2f8a"/><circle cx="544.3" cy="509.2" r="2.8" fill="#0b2f8a"/><circle cx="558.9" cy="452.5" r="1.8" fill="#0a2c84"/><circle cx="522.7" cy="479.1" r="2.6" fill="#1550b6"/><circle cx="612.7" cy="519.5" r="2.9" fill="#0b2f8a"/><circle cx="570.1" cy="456.7" r="2.0" fill="#0d3696"/><circle cx="568.7" cy="546.0" r="2.9" fill="#0b2f8a"/><circle cx="569.5" cy="578.3" r="1.9" fill="#0a2c84"/><circle cx="523.8" cy="579.6" r="2.4" fill="#0d3696"/><circle cx="627.6" cy="453.1" r="3.0" fill="#0e3a9c"/><circle cx="611.7" cy="473.9" r="2.9" fill="#0d3696"/><circle cx="627.4" cy="525.6" r="2.4" fill="#1550b6"/><circle cx="613.4" cy="553.8" r="2.9" fill="#0d3696"/><circle cx="566.9" cy="523.8" r="2.0" fill="#1a58c0"/><circle cx="522.2" cy="478.1" r="3.0" fill="#0e3a9c"/><circle cx="493.9" cy="545.0" r="2.4" fill="#0c3390"/><circle cx="651.6" cy="561.3" r="2.0" fill="#1550b6"/><circle cx="514.9" cy="539.7" r="3.0" fill="#1248ac"/><circle cx="559.1" cy="521.1" r="2.2" fill="#1248ac"/><circle cx="538.0" cy="451.5" r="2.9" fill="#0e3a9c"/><circle cx="543.1" cy="545.0" r="2.8" fill="#0d3696"/><circle cx="552.7" cy="508.7" r="2.6" fill="#0e3a9c"/><circle cx="603.5" cy="504.6" r="2.7" fill="#0d3696"/><circle cx="625.4" cy="551.4" r="2.4" fill="#1248ac"/><circle cx="620.8" cy="509.6" r="2.3" fill="#1a58c0"/><circle cx="531.1" cy="521.2" r="2.6" fill="#0b2f8a"/><circle cx="614.0" cy="565.0" r="2.9" fill="#0c3390"/><circle cx="487.3" cy="549.7" r="2.4" fill="#0e3a9c"/><circle cx="640.0" cy="462.9" r="2.4" fill="#1248ac"/><circle cx="506.2" cy="536.5" r="2.0" fill="#1a58c0"/><circle cx="498.3" cy="570.4" r="2.2" fill="#0d3696"/><circle cx="515.1" cy="492.6" r="3.1" fill="#1550b6"/><circle cx="478.5" cy="527.8" r="2.8" fill="#0a2c84"/><circle cx="548.0" cy="453.6" r="1.9" fill="#0a2c84"/><circle cx="556.7" cy="459.4" r="2.1" fill="#0b2f8a"/><circle cx="470.7" cy="537.5" r="2.9" fill="#1248ac"/><circle cx="596.7" cy="507.3" r="2.1" fill="#0e3a9c"/><circle cx="603.5" cy="455.2" r="2.2" fill="#1a58c0"/><circle cx="494.2" cy="548.3" r="2.9" fill="#1550b6"/><circle cx="587.1" cy="534.9" r="1.9" fill="#0c3390"/><circle cx="581.3" cy="463.8" r="2.3" fill="#0a2c84"/>
<g filter="url(#blur2)" opacity="0.95"><circle cx="584.6" cy="461.9" r="2.8" fill="#1f98c0"/><circle cx="585.0" cy="461.5" r="0.8" fill="#b9c4b4" opacity="0.75"/><circle cx="491.9" cy="542.2" r="2.5" fill="#1f98c0"/><circle cx="495.0" cy="479.3" r="2.6" fill="#29b0c0"/><circle cx="507.0" cy="525.1" r="2.4" fill="#3cc6c2"/><circle cx="560.1" cy="456.5" r="2.7" fill="#29b0c0"/><circle cx="632.5" cy="442.5" r="2.3" fill="#36c2c4"/><circle cx="573.6" cy="491.6" r="2.8" fill="#1f98c0"/><circle cx="573.7" cy="491.1" r="0.8" fill="#b9c4b4" opacity="0.75"/><circle cx="610.1" cy="499.7" r="2.7" fill="#29b0c0"/><circle cx="520.2" cy="483.9" r="2.2" fill="#1f98c0"/><circle cx="520.1" cy="484.0" r="0.8" fill="#b9c4b4" opacity="0.75"/><circle cx="609.4" cy="531.1" r="2.3" fill="#36c2c4"/><circle cx="624.7" cy="448.9" r="2.5" fill="#36c2c4"/><circle cx="501.5" cy="442.6" r="2.0" fill="#36c2c4"/><circle cx="601.6" cy="464.0" r="2.9" fill="#229fc2"/><circle cx="548.1" cy="513.6" r="3.1" fill="#3cc6c2"/><circle cx="483.4" cy="504.1" r="2.5" fill="#29b0c0"/><circle cx="499.9" cy="462.7" r="3.0" fill="#3cc6c2"/><circle cx="511.2" cy="511.5" r="2.9" fill="#2cb7c6"/><circle cx="616.7" cy="540.0" r="2.2" fill="#2cb7c6"/><circle cx="601.5" cy="478.5" r="2.4" fill="#29b0c0"/><circle cx="628.3" cy="548.2" r="2.1" fill="#36c2c4"/><circle cx="630.3" cy="572.9" r="2.7" fill="#1f98c0"/><circle cx="604.8" cy="483.5" r="3.1" fill="#36c2c4"/><circle cx="648.2" cy="452.6" r="2.1" fill="#1f98c0"/><circle cx="529.2" cy="503.7" r="3.0" fill="#2cb7c6"/><circle cx="612.5" cy="522.0" r="2.2" fill="#36c2c4"/><circle cx="485.9" cy="553.0" r="2.8" fill="#29b0c0"/><circle cx="476.7" cy="556.9" r="2.1" fill="#2cb7c6"/><circle cx="647.1" cy="495.9" r="2.3" fill="#1f98c0"/><circle cx="651.2" cy="445.2" r="2.5" fill="#3cc6c2"/><circle cx="570.3" cy="454.0" r="2.9" fill="#25acc4"/><circle cx="570.6" cy="454.5" r="0.8" fill="#b9c4b4" opacity="0.75"/><circle cx="585.0" cy="530.4" r="2.3" fill="#1f98c0"/><circle cx="585.5" cy="530.1" r="0.8" fill="#b9c4b4" opacity="0.75"/><circle cx="587.9" cy="553.2" r="2.9" fill="#1f98c0"/><circle cx="477.1" cy="504.9" r="2.6" fill="#1f98c0"/><circle cx="560.4" cy="494.0" r="2.4" fill="#2cb7c6"/><circle cx="519.8" cy="502.8" r="2.7" fill="#29b0c0"/><circle cx="514.4" cy="481.8" r="2.6" fill="#25acc4"/><circle cx="514.3" cy="481.7" r="0.8" fill="#b9c4b4" opacity="0.75"/><circle cx="587.3" cy="551.5" r="3.1" fill="#29b0c0"/><circle cx="561.5" cy="494.8" r="2.4" fill="#2cb7c6"/><circle cx="474.7" cy="553.4" r="2.9" fill="#36c2c4"/><circle cx="648.1" cy="454.8" r="2.3" fill="#1f98c0"/><circle cx="641.0" cy="578.5" r="2.3" fill="#229fc2"/><circle cx="572.8" cy="519.0" r="3.1" fill="#36c2c4"/><circle cx="568.8" cy="465.2" r="2.1" fill="#29b0c0"/><circle cx="568.8" cy="464.7" r="0.8" fill="#b9c4b4" opacity="0.75"/><circle cx="637.8" cy="468.8" r="2.8" fill="#1f98c0"/><circle cx="627.3" cy="574.2" r="3.0" fill="#36c2c4"/><circle cx="576.9" cy="487.6" r="3.1" fill="#3cc6c2"/><circle cx="639.8" cy="550.1" r="2.6" fill="#2cb7c6"/><circle cx="573.5" cy="466.1" r="2.9" fill="#29b0c0"/><circle cx="573.5" cy="466.6" r="0.8" fill="#b9c4b4" opacity="0.75"/><circle cx="495.1" cy="544.3" r="3.1" fill="#2cb7c6"/><circle cx="592.3" cy="542.1" r="2.0" fill="#2cb7c6"/><circle cx="591.9" cy="541.9" r="0.8" fill="#b9c4b4" opacity="0.75"/><circle cx="588.8" cy="536.3" r="2.1" fill="#1f98c0"/><circle cx="588.3" cy="536.0" r="0.8" fill="#b9c4b4" opacity="0.75"/><circle cx="633.3" cy="538.7" r="2.7" fill="#29b0c0"/><circle cx="498.1" cy="454.9" r="2.2" fill="#3cc6c2"/><circle cx="523.9" cy="454.2" r="2.6" fill="#36c2c4"/><circle cx="523.7" cy="454.1" r="0.8" fill="#b9c4b4" opacity="0.75"/><circle cx="505.9" cy="444.4" r="2.3" fill="#25acc4"/><circle cx="587.1" cy="494.7" r="2.4" fill="#2cb7c6"/><circle cx="517.6" cy="505.4" r="2.3" fill="#25acc4"/><circle cx="497.0" cy="537.6" r="2.7" fill="#1f98c0"/><circle cx="593.7" cy="527.0" r="2.8" fill="#2cb7c6"/><circle cx="500.0" cy="470.3" r="2.0" fill="#25acc4"/><circle cx="637.1" cy="450.2" r="2.4" fill="#229fc2"/><circle cx="564.7" cy="568.2" r="2.8" fill="#29b0c0"/><circle cx="565.2" cy="499.1" r="2.2" fill="#29b0c0"/><circle cx="576.3" cy="574.8" r="2.1" fill="#1f98c0"/><circle cx="532.4" cy="497.9" r="2.5" fill="#29b0c0"/><circle cx="582.8" cy="535.4" r="2.4" fill="#229fc2"/><circle cx="478.3" cy="506.8" r="2.4" fill="#229fc2"/><circle cx="524.9" cy="479.8" r="2.8" fill="#25acc4"/><circle cx="511.1" cy="482.6" r="2.9" fill="#229fc2"/><circle cx="545.8" cy="530.5" r="2.2" fill="#1f98c0"/><circle cx="544.0" cy="508.1" r="2.4" fill="#25acc4"/><circle cx="563.9" cy="462.9" r="2.6" fill="#2cb7c6"/><circle cx="612.6" cy="513.6" r="2.2" fill="#1f98c0"/><circle cx="612.1" cy="513.2" r="0.8" fill="#b9c4b4" opacity="0.75"/><circle cx="478.6" cy="490.9" r="2.4" fill="#36c2c4"/><circle cx="562.0" cy="529.1" r="2.0" fill="#229fc2"/><circle cx="485.9" cy="444.7" r="2.9" fill="#1f98c0"/><circle cx="593.7" cy="478.2" r="2.0" fill="#1f98c0"/><circle cx="594.5" cy="506.7" r="2.2" fill="#1f98c0"/><circle cx="594.3" cy="507.0" r="0.8" fill="#b9c4b4" opacity="0.75"/><circle cx="620.6" cy="496.0" r="2.6" fill="#3cc6c2"/><circle cx="623.4" cy="518.8" r="2.3" fill="#3cc6c2"/><circle cx="623.0" cy="519.3" r="0.8" fill="#b9c4b4" opacity="0.75"/><circle cx="586.9" cy="560.5" r="2.8" fill="#3cc6c2"/><circle cx="617.2" cy="552.3" r="2.7" fill="#3cc6c2"/><circle cx="616.7" cy="552.3" r="0.8" fill="#b9c4b4" opacity="0.75"/><circle cx="619.1" cy="488.5" r="2.8" fill="#3cc6c2"/><circle cx="635.7" cy="534.1" r="2.9" fill="#1f98c0"/><circle cx="571.8" cy="481.6" r="2.8" fill="#3cc6c2"/><circle cx="609.4" cy="466.3" r="2.4" fill="#25acc4"/><circle cx="609.1" cy="466.6" r="0.8" fill="#b9c4b4" opacity="0.75"/><circle cx="576.8" cy="505.2" r="2.1" fill="#3cc6c2"/><circle cx="576.4" cy="572.0" r="3.0" fill="#29b0c0"/><circle cx="633.2" cy="577.8" r="2.9" fill="#2cb7c6"/><circle cx="612.3" cy="508.5" r="2.2" fill="#3cc6c2"/><circle cx="612.2" cy="508.3" r="0.8" fill="#b9c4b4" opacity="0.75"/><circle cx="611.3" cy="520.9" r="2.9" fill="#1f98c0"/><circle cx="611.4" cy="521.0" r="0.8" fill="#b9c4b4" opacity="0.75"/><circle cx="515.0" cy="537.1" r="2.1" fill="#36c2c4"/><circle cx="561.7" cy="483.4" r="2.1" fill="#229fc2"/><circle cx="583.7" cy="523.3" r="2.1" fill="#1f98c0"/><circle cx="583.9" cy="523.2" r="0.8" fill="#b9c4b4" opacity="0.75"/><circle cx="539.1" cy="516.8" r="2.2" fill="#3cc6c2"/><circle cx="471.0" cy="499.3" r="2.6" fill="#29b0c0"/><circle cx="488.5" cy="540.6" r="2.1" fill="#25acc4"/><circle cx="636.4" cy="536.4" r="2.3" fill="#25acc4"/><circle cx="496.7" cy="453.4" r="2.8" fill="#25acc4"/><circle cx="629.8" cy="559.2" r="2.7" fill="#36c2c4"/><circle cx="583.4" cy="562.8" r="2.9" fill="#2cb7c6"/><circle cx="583.3" cy="562.8" r="0.8" fill="#b9c4b4" opacity="0.75"/><circle cx="622.7" cy="536.6" r="2.5" fill="#1f98c0"/><circle cx="622.4" cy="536.9" r="0.8" fill="#b9c4b4" opacity="0.75"/><circle cx="649.5" cy="558.1" r="3.0" fill="#36c2c4"/><circle cx="616.6" cy="535.0" r="2.4" fill="#229fc2"/><circle cx="633.0" cy="507.9" r="3.0" fill="#36c2c4"/><circle cx="598.6" cy="535.0" r="2.6" fill="#29b0c0"/><circle cx="599.1" cy="535.3" r="0.8" fill="#b9c4b4" opacity="0.75"/><circle cx="591.1" cy="529.9" r="2.9" fill="#29b0c0"/><circle cx="591.3" cy="529.6" r="0.8" fill="#b9c4b4" opacity="0.75"/><circle cx="483.0" cy="509.1" r="3.1" fill="#25acc4"/><circle cx="485.4" cy="510.1" r="3.1" fill="#3cc6c2"/><circle cx="582.9" cy="483.1" r="2.2" fill="#3cc6c2"/><circle cx="624.3" cy="486.9" r="2.7" fill="#3cc6c2"/><circle cx="646.4" cy="481.4" r="2.8" fill="#25acc4"/><circle cx="605.6" cy="497.7" r="2.2" fill="#25acc4"/><circle cx="600.9" cy="455.8" r="3.0" fill="#1f98c0"/><circle cx="470.1" cy="543.1" r="2.5" fill="#29b0c0"/><circle cx="631.3" cy="510.8" r="3.1" fill="#3cc6c2"/><circle cx="647.5" cy="503.7" r="2.5" fill="#3cc6c2"/><circle cx="570.9" cy="471.0" r="2.8" fill="#3cc6c2"/><circle cx="528.5" cy="456.9" r="2.5" fill="#29b0c0"/><circle cx="479.0" cy="448.7" r="2.9" fill="#229fc2"/><circle cx="594.8" cy="461.2" r="2.9" fill="#2cb7c6"/><circle cx="475.2" cy="553.9" r="3.0" fill="#3cc6c2"/><circle cx="572.4" cy="472.0" r="2.4" fill="#29b0c0"/><circle cx="615.9" cy="480.8" r="3.0" fill="#36c2c4"/><circle cx="479.2" cy="544.1" r="3.0" fill="#1f98c0"/><circle cx="588.2" cy="545.7" r="2.7" fill="#1f98c0"/><circle cx="491.2" cy="446.5" r="2.3" fill="#2cb7c6"/><circle cx="576.5" cy="476.3" r="2.8" fill="#2cb7c6"/><circle cx="576.9" cy="476.4" r="0.8" fill="#b9c4b4" opacity="0.75"/><circle cx="482.7" cy="539.1" r="3.1" fill="#29b0c0"/><circle cx="481.8" cy="511.0" r="2.6" fill="#25acc4"/><circle cx="631.5" cy="532.9" r="2.3" fill="#1f98c0"/><circle cx="588.5" cy="456.8" r="2.3" fill="#3cc6c2"/><circle cx="540.1" cy="515.9" r="3.0" fill="#1f98c0"/><circle cx="523.7" cy="531.3" r="2.1" fill="#25acc4"/><circle cx="611.3" cy="560.9" r="2.1" fill="#29b0c0"/><circle cx="549.2" cy="554.3" r="2.8" fill="#25acc4"/><circle cx="553.6" cy="486.9" r="2.1" fill="#1f98c0"/><circle cx="480.9" cy="544.4" r="2.9" fill="#229fc2"/><circle cx="488.8" cy="550.1" r="2.1" fill="#1f98c0"/><circle cx="523.4" cy="528.9" r="3.0" fill="#1f98c0"/><circle cx="471.3" cy="562.3" r="2.0" fill="#29b0c0"/><circle cx="563.4" cy="463.2" r="2.9" fill="#2cb7c6"/><circle cx="570.1" cy="530.4" r="2.7" fill="#229fc2"/><circle cx="487.3" cy="541.6" r="2.4" fill="#2cb7c6"/><circle cx="592.5" cy="473.4" r="2.1" fill="#2cb7c6"/><circle cx="576.5" cy="519.4" r="2.3" fill="#36c2c4"/><circle cx="600.0" cy="529.8" r="2.4" fill="#3cc6c2"/><circle cx="630.5" cy="505.1" r="2.3" fill="#29b0c0"/><circle cx="489.3" cy="530.5" r="2.3" fill="#1f98c0"/><circle cx="489.3" cy="530.2" r="0.8" fill="#b9c4b4" opacity="0.75"/><circle cx="632.0" cy="451.5" r="2.0" fill="#29b0c0"/><circle cx="618.5" cy="521.2" r="2.2" fill="#25acc4"/><circle cx="611.6" cy="491.6" r="2.8" fill="#3cc6c2"/><circle cx="493.9" cy="510.4" r="2.4" fill="#25acc4"/><circle cx="582.0" cy="463.9" r="2.5" fill="#2cb7c6"/><circle cx="573.2" cy="561.9" r="2.8" fill="#229fc2"/><circle cx="476.7" cy="546.6" r="2.3" fill="#2cb7c6"/><circle cx="476.4" cy="547.0" r="0.8" fill="#b9c4b4" opacity="0.75"/><circle cx="535.6" cy="506.1" r="2.1" fill="#3cc6c2"/><circle cx="621.6" cy="556.8" r="2.6" fill="#2cb7c6"/><circle cx="634.2" cy="451.7" r="3.1" fill="#2cb7c6"/><circle cx="494.8" cy="463.8" r="2.7" fill="#2cb7c6"/><circle cx="494.5" cy="463.9" r="0.8" fill="#b9c4b4" opacity="0.75"/><circle cx="619.3" cy="532.6" r="2.4" fill="#25acc4"/><circle cx="557.2" cy="470.1" r="2.9" fill="#25acc4"/><circle cx="514.0" cy="458.6" r="2.1" fill="#29b0c0"/><circle cx="514.1" cy="458.2" r="0.8" fill="#b9c4b4" opacity="0.75"/><circle cx="579.3" cy="519.1" r="2.8" fill="#3cc6c2"/><circle cx="620.1" cy="572.4" r="2.7" fill="#36c2c4"/><circle cx="502.7" cy="532.4" r="2.8" fill="#229fc2"/><circle cx="638.6" cy="523.7" r="2.4" fill="#2cb7c6"/><circle cx="638.3" cy="524.0" r="0.8" fill="#b9c4b4" opacity="0.75"/><circle cx="561.9" cy="499.1" r="2.1" fill="#36c2c4"/><circle cx="566.9" cy="545.3" r="2.7" fill="#29b0c0"/><circle cx="593.9" cy="500.8" r="3.0" fill="#3cc6c2"/><circle cx="609.1" cy="537.6" r="2.1" fill="#36c2c4"/><circle cx="636.4" cy="452.5" r="2.6" fill="#229fc2"/><circle cx="636.6" cy="452.8" r="0.8" fill="#b9c4b4" opacity="0.75"/><circle cx="575.4" cy="457.2" r="2.7" fill="#3cc6c2"/><circle cx="576.8" cy="477.1" r="2.6" fill="#29b0c0"/><circle cx="594.2" cy="545.7" r="2.9" fill="#36c2c4"/><circle cx="594.3" cy="545.7" r="0.8" fill="#b9c4b4" opacity="0.75"/><circle cx="643.6" cy="454.8" r="2.9" fill="#1f98c0"/><circle cx="597.3" cy="539.0" r="3.1" fill="#25acc4"/><circle cx="620.4" cy="506.3" r="2.1" fill="#229fc2"/><circle cx="620.0" cy="505.9" r="0.8" fill="#b9c4b4" opacity="0.75"/><circle cx="616.9" cy="480.6" r="2.7" fill="#29b0c0"/><circle cx="582.2" cy="534.4" r="2.7" fill="#2cb7c6"/><circle cx="582.0" cy="534.3" r="0.8" fill="#b9c4b4" opacity="0.75"/><circle cx="592.2" cy="497.1" r="2.0" fill="#3cc6c2"/><circle cx="591.8" cy="496.9" r="0.8" fill="#b9c4b4" opacity="0.75"/><circle cx="621.6" cy="567.9" r="3.1" fill="#229fc2"/><circle cx="543.5" cy="441.5" r="2.6" fill="#29b0c0"/><circle cx="618.6" cy="520.7" r="3.1" fill="#29b0c0"/><circle cx="514.0" cy="488.0" r="2.7" fill="#29b0c0"/><circle cx="614.1" cy="471.4" r="2.9" fill="#36c2c4"/><circle cx="514.9" cy="453.8" r="2.9" fill="#25acc4"/><circle cx="502.1" cy="484.4" r="2.6" fill="#2cb7c6"/><circle cx="629.5" cy="469.6" r="2.3" fill="#29b0c0"/><circle cx="612.3" cy="457.5" r="3.1" fill="#36c2c4"/><circle cx="609.6" cy="516.0" r="2.5" fill="#29b0c0"/><circle cx="519.7" cy="466.2" r="2.6" fill="#36c2c4"/><circle cx="519.8" cy="465.8" r="0.8" fill="#b9c4b4" opacity="0.75"/><circle cx="616.0" cy="507.3" r="2.6" fill="#36c2c4"/><circle cx="611.7" cy="504.3" r="2.6" fill="#229fc2"/><circle cx="529.0" cy="525.9" r="2.6" fill="#2cb7c6"/><circle cx="607.4" cy="491.5" r="2.5" fill="#29b0c0"/><circle cx="607.5" cy="491.3" r="0.8" fill="#b9c4b4" opacity="0.75"/><circle cx="487.6" cy="478.3" r="2.5" fill="#36c2c4"/><circle cx="567.3" cy="484.7" r="2.3" fill="#1f98c0"/><circle cx="573.5" cy="496.2" r="2.1" fill="#1f98c0"/><circle cx="623.3" cy="454.2" r="2.3" fill="#229fc2"/><circle cx="640.4" cy="476.6" r="2.1" fill="#1f98c0"/><circle cx="586.9" cy="569.8" r="2.7" fill="#36c2c4"/><circle cx="482.4" cy="463.3" r="2.3" fill="#229fc2"/><circle cx="599.7" cy="524.9" r="3.0" fill="#1f98c0"/><circle cx="545.3" cy="466.4" r="2.8" fill="#3cc6c2"/><circle cx="507.9" cy="496.0" r="3.0" fill="#36c2c4"/><circle cx="570.0" cy="444.5" r="2.8" fill="#25acc4"/><circle cx="488.4" cy="526.7" r="3.0" fill="#36c2c4"/><circle cx="514.7" cy="480.3" r="2.1" fill="#1f98c0"/><circle cx="514.2" cy="480.2" r="0.8" fill="#b9c4b4" opacity="0.75"/><circle cx="511.0" cy="453.3" r="2.5" fill="#2cb7c6"/><circle cx="532.4" cy="506.0" r="3.0" fill="#1f98c0"/><circle cx="523.1" cy="473.0" r="2.4" fill="#36c2c4"/><circle cx="587.9" cy="555.9" r="2.1" fill="#3cc6c2"/><circle cx="588.2" cy="556.3" r="0.8" fill="#b9c4b4" opacity="0.75"/><circle cx="617.6" cy="535.9" r="2.8" fill="#1f98c0"/><circle cx="503.8" cy="450.4" r="2.1" fill="#36c2c4"/><circle cx="519.3" cy="527.3" r="2.0" fill="#25acc4"/><circle cx="521.1" cy="458.2" r="2.0" fill="#25acc4"/><circle cx="521.1" cy="458.1" r="0.8" fill="#b9c4b4" opacity="0.75"/><circle cx="624.2" cy="573.0" r="2.9" fill="#25acc4"/><circle cx="515.2" cy="493.8" r="3.1" fill="#3cc6c2"/><circle cx="515.5" cy="493.8" r="0.8" fill="#b9c4b4" opacity="0.75"/><circle cx="604.7" cy="445.5" r="2.8" fill="#29b0c0"/><circle cx="591.6" cy="469.8" r="3.1" fill="#229fc2"/><circle cx="591.8" cy="470.0" r="0.8" fill="#b9c4b4" opacity="0.75"/><circle cx="570.2" cy="457.8" r="2.3" fill="#229fc2"/><circle cx="627.8" cy="471.1" r="2.7" fill="#229fc2"/><circle cx="628.1" cy="471.2" r="0.8" fill="#b9c4b4" opacity="0.75"/><circle cx="497.7" cy="547.9" r="2.5" fill="#3cc6c2"/><circle cx="598.0" cy="550.7" r="2.3" fill="#29b0c0"/><circle cx="608.2" cy="552.7" r="2.2" fill="#3cc6c2"/><circle cx="602.3" cy="475.7" r="2.8" fill="#29b0c0"/><circle cx="597.3" cy="467.2" r="2.4" fill="#3cc6c2"/><circle cx="498.7" cy="514.6" r="2.9" fill="#29b0c0"/><circle cx="538.9" cy="466.6" r="2.9" fill="#1f98c0"/><circle cx="583.2" cy="485.4" r="3.1" fill="#1f98c0"/><circle cx="581.8" cy="485.6" r="2.1" fill="#29b0c0"/><circle cx="475.0" cy="455.7" r="2.0" fill="#3cc6c2"/><circle cx="622.8" cy="532.2" r="2.8" fill="#229fc2"/><circle cx="622.5" cy="532.4" r="0.8" fill="#b9c4b4" opacity="0.75"/><circle cx="586.6" cy="491.0" r="3.0" fill="#1f98c0"/><circle cx="599.4" cy="555.2" r="2.0" fill="#25acc4"/><circle cx="643.2" cy="518.4" r="2.8" fill="#1f98c0"/><circle cx="631.4" cy="464.0" r="2.4" fill="#229fc2"/><circle cx="624.4" cy="498.1" r="2.9" fill="#229fc2"/><circle cx="649.8" cy="523.6" r="3.1" fill="#229fc2"/><circle cx="574.1" cy="520.2" r="2.5" fill="#2cb7c6"/><circle cx="512.1" cy="553.5" r="2.4" fill="#2cb7c6"/><circle cx="604.1" cy="541.3" r="2.2" fill="#1f98c0"/><circle cx="598.3" cy="554.6" r="2.7" fill="#25acc4"/><circle cx="575.1" cy="451.7" r="2.8" fill="#229fc2"/><circle cx="527.9" cy="519.3" r="2.8" fill="#2cb7c6"/><circle cx="478.6" cy="542.4" r="2.5" fill="#29b0c0"/><circle cx="606.1" cy="517.0" r="2.4" fill="#36c2c4"/><circle cx="493.2" cy="459.6" r="2.5" fill="#3cc6c2"/><circle cx="513.8" cy="477.8" r="2.8" fill="#29b0c0"/><circle cx="513.9" cy="477.7" r="0.8" fill="#b9c4b4" opacity="0.75"/><circle cx="582.4" cy="578.3" r="2.2" fill="#25acc4"/><circle cx="639.0" cy="473.3" r="2.2" fill="#3cc6c2"/><circle cx="471.8" cy="537.2" r="2.5" fill="#25acc4"/><circle cx="566.0" cy="476.3" r="2.2" fill="#3cc6c2"/><circle cx="470.8" cy="494.8" r="2.9" fill="#3cc6c2"/><circle cx="535.4" cy="455.8" r="3.0" fill="#36c2c4"/><circle cx="566.9" cy="466.7" r="2.5" fill="#3cc6c2"/><circle cx="530.5" cy="495.5" r="2.4" fill="#229fc2"/><circle cx="649.0" cy="479.2" r="2.3" fill="#36c2c4"/><circle cx="632.8" cy="554.0" r="2.6" fill="#229fc2"/><circle cx="510.7" cy="488.3" r="2.2" fill="#3cc6c2"/><circle cx="645.6" cy="525.9" r="2.3" fill="#2cb7c6"/><circle cx="576.0" cy="535.8" r="2.2" fill="#3cc6c2"/><circle cx="598.7" cy="513.6" r="3.1" fill="#1f98c0"/><circle cx="599.2" cy="514.0" r="0.8" fill="#b9c4b4" opacity="0.75"/><circle cx="519.6" cy="549.0" r="2.2" fill="#1f98c0"/><circle cx="581.7" cy="523.7" r="2.0" fill="#25acc4"/><circle cx="595.6" cy="507.0" r="2.7" fill="#3cc6c2"/><circle cx="499.4" cy="472.3" r="3.1" fill="#229fc2"/><circle cx="510.1" cy="534.1" r="2.2" fill="#2cb7c6"/><circle cx="514.6" cy="497.1" r="2.8" fill="#36c2c4"/><circle cx="598.6" cy="446.2" r="2.5" fill="#25acc4"/><circle cx="630.4" cy="475.0" r="3.1" fill="#25acc4"/><circle cx="564.0" cy="528.4" r="2.3" fill="#36c2c4"/><circle cx="631.7" cy="548.3" r="2.2" fill="#229fc2"/><circle cx="641.5" cy="537.5" r="2.5" fill="#36c2c4"/><circle cx="641.4" cy="537.9" r="0.8" fill="#b9c4b4" opacity="0.75"/><circle cx="633.8" cy="563.4" r="2.4" fill="#3cc6c2"/><circle cx="492.0" cy="456.7" r="2.4" fill="#29b0c0"/><circle cx="498.6" cy="517.3" r="2.2" fill="#229fc2"/><circle cx="502.1" cy="539.7" r="2.3" fill="#1f98c0"/><circle cx="645.7" cy="480.9" r="3.0" fill="#2cb7c6"/><circle cx="469.9" cy="547.1" r="2.5" fill="#36c2c4"/><circle cx="577.4" cy="506.9" r="2.1" fill="#29b0c0"/><circle cx="584.7" cy="554.7" r="2.2" fill="#25acc4"/><circle cx="478.3" cy="498.7" r="2.7" fill="#29b0c0"/><circle cx="590.6" cy="538.0" r="2.6" fill="#36c2c4"/><circle cx="608.5" cy="557.9" r="2.5" fill="#25acc4"/><circle cx="597.0" cy="525.8" r="2.8" fill="#3cc6c2"/><circle cx="614.0" cy="539.0" r="2.9" fill="#229fc2"/><circle cx="652.0" cy="490.0" r="2.6" fill="#29b0c0"/><circle cx="631.5" cy="473.2" r="2.2" fill="#25acc4"/><circle cx="631.6" cy="472.8" r="0.8" fill="#b9c4b4" opacity="0.75"/><circle cx="586.3" cy="442.4" r="2.3" fill="#1f98c0"/><circle cx="610.1" cy="456.7" r="2.4" fill="#29b0c0"/><circle cx="615.7" cy="530.5" r="2.7" fill="#1f98c0"/><circle cx="605.6" cy="556.8" r="2.8" fill="#229fc2"/><circle cx="472.7" cy="521.0" r="3.0" fill="#1f98c0"/><circle cx="647.3" cy="479.8" r="3.1" fill="#3cc6c2"/><circle cx="503.7" cy="457.1" r="2.3" fill="#1f98c0"/><circle cx="509.0" cy="482.8" r="2.9" fill="#1f98c0"/><circle cx="508.6" cy="482.8" r="0.8" fill="#b9c4b4" opacity="0.75"/><circle cx="616.0" cy="566.5" r="2.4" fill="#36c2c4"/><circle cx="603.8" cy="513.6" r="2.2" fill="#1f98c0"/><circle cx="604.2" cy="513.6" r="0.8" fill="#b9c4b4" opacity="0.75"/><circle cx="651.5" cy="469.3" r="2.4" fill="#1f98c0"/><circle cx="595.4" cy="523.4" r="2.5" fill="#25acc4"/><circle cx="595.7" cy="523.6" r="0.8" fill="#b9c4b4" opacity="0.75"/><circle cx="473.4" cy="546.2" r="2.2" fill="#2cb7c6"/><circle cx="473.2" cy="546.0" r="0.8" fill="#b9c4b4" opacity="0.75"/><circle cx="550.3" cy="457.2" r="2.3" fill="#25acc4"/><circle cx="645.2" cy="518.6" r="2.6" fill="#29b0c0"/><circle cx="495.3" cy="538.6" r="2.3" fill="#25acc4"/><circle cx="478.6" cy="494.1" r="2.4" fill="#3cc6c2"/><circle cx="597.7" cy="526.4" r="2.9" fill="#3cc6c2"/><circle cx="609.6" cy="519.7" r="2.9" fill="#3cc6c2"/><circle cx="614.1" cy="563.4" r="2.0" fill="#36c2c4"/><circle cx="521.1" cy="489.3" r="2.6" fill="#36c2c4"/><circle cx="615.6" cy="486.1" r="2.9" fill="#29b0c0"/><circle cx="577.7" cy="474.0" r="2.2" fill="#36c2c4"/><circle cx="613.3" cy="501.3" r="2.6" fill="#2cb7c6"/><circle cx="613.5" cy="501.5" r="0.8" fill="#b9c4b4" opacity="0.75"/><circle cx="600.0" cy="557.0" r="2.7" fill="#229fc2"/><circle cx="610.9" cy="493.5" r="2.7" fill="#25acc4"/><circle cx="610.5" cy="493.5" r="0.8" fill="#b9c4b4" opacity="0.75"/><circle cx="607.9" cy="553.3" r="2.7" fill="#36c2c4"/><circle cx="540.9" cy="521.1" r="2.7" fill="#229fc2"/><circle cx="489.4" cy="480.0" r="2.5" fill="#29b0c0"/><circle cx="539.3" cy="516.5" r="2.5" fill="#2cb7c6"/><circle cx="624.1" cy="490.9" r="2.3" fill="#1f98c0"/><circle cx="493.9" cy="450.8" r="2.8" fill="#36c2c4"/><circle cx="590.1" cy="576.2" r="2.2" fill="#1f98c0"/><circle cx="580.3" cy="500.0" r="2.6" fill="#29b0c0"/><circle cx="575.1" cy="445.5" r="2.5" fill="#229fc2"/><circle cx="483.7" cy="564.4" r="2.5" fill="#3cc6c2"/><circle cx="591.1" cy="533.7" r="2.6" fill="#29b0c0"/><circle cx="615.8" cy="481.0" r="3.0" fill="#3cc6c2"/><circle cx="613.4" cy="477.0" r="2.6" fill="#29b0c0"/><circle cx="613.9" cy="477.3" r="0.8" fill="#b9c4b4" opacity="0.75"/><circle cx="583.9" cy="480.7" r="2.6" fill="#1f98c0"/><circle cx="515.6" cy="526.3" r="2.3" fill="#3cc6c2"/><circle cx="616.0" cy="560.5" r="2.1" fill="#2cb7c6"/><circle cx="607.5" cy="498.2" r="2.7" fill="#3cc6c2"/><circle cx="508.0" cy="542.8" r="2.7" fill="#1f98c0"/><circle cx="619.7" cy="448.1" r="2.5" fill="#36c2c4"/><circle cx="607.4" cy="514.8" r="2.8" fill="#36c2c4"/><circle cx="566.7" cy="501.2" r="2.9" fill="#36c2c4"/><circle cx="626.9" cy="487.4" r="2.1" fill="#3cc6c2"/><circle cx="592.6" cy="547.8" r="2.7" fill="#2cb7c6"/><circle cx="475.5" cy="526.8" r="2.7" fill="#1f98c0"/><circle cx="509.1" cy="524.1" r="3.1" fill="#25acc4"/><circle cx="626.5" cy="458.9" r="3.0" fill="#29b0c0"/><circle cx="503.2" cy="456.2" r="2.3" fill="#3cc6c2"/><circle cx="586.6" cy="569.0" r="2.5" fill="#3cc6c2"/><circle cx="528.7" cy="463.3" r="2.9" fill="#36c2c4"/><circle cx="618.5" cy="465.6" r="3.1" fill="#2cb7c6"/><circle cx="502.0" cy="509.2" r="2.8" fill="#2cb7c6"/><circle cx="582.0" cy="455.6" r="2.3" fill="#25acc4"/><circle cx="582.1" cy="455.4" r="0.8" fill="#b9c4b4" opacity="0.75"/><circle cx="551.1" cy="565.3" r="2.7" fill="#25acc4"/><circle cx="591.3" cy="477.8" r="3.0" fill="#29b0c0"/><circle cx="591.5" cy="478.1" r="0.8" fill="#b9c4b4" opacity="0.75"/><circle cx="618.4" cy="450.6" r="2.4" fill="#3cc6c2"/><circle cx="585.4" cy="574.0" r="2.6" fill="#229fc2"/><circle cx="585.3" cy="574.2" r="0.8" fill="#b9c4b4" opacity="0.75"/><circle cx="588.2" cy="465.4" r="2.4" fill="#2cb7c6"/><circle cx="504.1" cy="445.8" r="3.1" fill="#2cb7c6"/><circle cx="559.1" cy="449.6" r="2.3" fill="#29b0c0"/><circle cx="601.7" cy="497.2" r="2.7" fill="#29b0c0"/><circle cx="593.8" cy="562.2" r="2.6" fill="#25acc4"/><circle cx="593.4" cy="562.4" r="0.8" fill="#b9c4b4" opacity="0.75"/><circle cx="555.8" cy="568.3" r="2.8" fill="#2cb7c6"/><circle cx="620.0" cy="454.4" r="2.9" fill="#25acc4"/><circle cx="609.6" cy="523.2" r="2.1" fill="#2cb7c6"/><circle cx="500.1" cy="492.2" r="2.3" fill="#29b0c0"/><circle cx="581.7" cy="548.8" r="2.5" fill="#25acc4"/><circle cx="578.3" cy="480.2" r="2.9" fill="#36c2c4"/><circle cx="643.8" cy="527.9" r="2.4" fill="#25acc4"/><circle cx="507.5" cy="448.2" r="2.2" fill="#1f98c0"/><circle cx="647.1" cy="506.7" r="2.7" fill="#25acc4"/><circle cx="479.2" cy="491.4" r="2.3" fill="#29b0c0"/><circle cx="617.1" cy="546.2" r="2.8" fill="#29b0c0"/><circle cx="617.4" cy="546.1" r="0.8" fill="#b9c4b4" opacity="0.75"/><circle cx="578.1" cy="486.1" r="2.7" fill="#229fc2"/><circle cx="577.7" cy="485.8" r="0.8" fill="#b9c4b4" opacity="0.75"/><circle cx="512.8" cy="498.1" r="3.0" fill="#25acc4"/><circle cx="585.3" cy="576.3" r="2.1" fill="#3cc6c2"/><circle cx="573.7" cy="479.8" r="2.5" fill="#36c2c4"/><circle cx="573.5" cy="480.2" r="0.8" fill="#b9c4b4" opacity="0.75"/><circle cx="623.0" cy="479.6" r="2.8" fill="#2cb7c6"/><circle cx="622.9" cy="479.3" r="0.8" fill="#b9c4b4" opacity="0.75"/><circle cx="634.2" cy="498.9" r="3.1" fill="#3cc6c2"/><circle cx="610.4" cy="445.5" r="2.5" fill="#1f98c0"/><circle cx="597.2" cy="454.5" r="2.1" fill="#1f98c0"/><circle cx="485.9" cy="507.5" r="2.8" fill="#1f98c0"/><circle cx="494.7" cy="538.5" r="3.0" fill="#3cc6c2"/><circle cx="475.3" cy="500.0" r="3.0" fill="#29b0c0"/><circle cx="574.9" cy="469.6" r="2.7" fill="#229fc2"/><circle cx="632.3" cy="456.3" r="2.7" fill="#229fc2"/><circle cx="588.3" cy="538.7" r="2.9" fill="#2cb7c6"/><circle cx="513.1" cy="456.6" r="3.0" fill="#29b0c0"/><circle cx="598.3" cy="545.4" r="2.4" fill="#229fc2"/><circle cx="634.4" cy="503.6" r="2.7" fill="#3cc6c2"/><circle cx="617.8" cy="571.5" r="3.0" fill="#36c2c4"/><circle cx="485.3" cy="495.1" r="3.1" fill="#25acc4"/><circle cx="568.7" cy="459.2" r="2.5" fill="#3cc6c2"/><circle cx="568.4" cy="458.7" r="0.8" fill="#b9c4b4" opacity="0.75"/><circle cx="616.5" cy="556.8" r="2.4" fill="#29b0c0"/><circle cx="587.9" cy="486.2" r="2.8" fill="#1f98c0"/><circle cx="582.9" cy="463.2" r="2.2" fill="#2cb7c6"/><circle cx="596.5" cy="533.4" r="2.3" fill="#25acc4"/><circle cx="574.8" cy="502.1" r="2.2" fill="#3cc6c2"/><circle cx="537.8" cy="515.8" r="2.3" fill="#25acc4"/><circle cx="561.0" cy="461.0" r="2.4" fill="#25acc4"/><circle cx="647.4" cy="516.7" r="2.7" fill="#229fc2"/><circle cx="649.3" cy="520.5" r="2.6" fill="#36c2c4"/><circle cx="531.5" cy="456.4" r="2.0" fill="#3cc6c2"/><circle cx="551.2" cy="453.7" r="2.7" fill="#29b0c0"/><circle cx="541.7" cy="508.9" r="2.6" fill="#25acc4"/><circle cx="485.4" cy="541.9" r="3.1" fill="#1f98c0"/><circle cx="634.1" cy="542.0" r="2.9" fill="#29b0c0"/><circle cx="628.6" cy="577.8" r="3.1" fill="#1f98c0"/><circle cx="519.5" cy="465.1" r="2.6" fill="#2cb7c6"/><circle cx="519.8" cy="464.9" r="0.8" fill="#b9c4b4" opacity="0.75"/><circle cx="510.5" cy="550.7" r="2.3" fill="#3cc6c2"/><circle cx="622.4" cy="506.5" r="3.0" fill="#36c2c4"/><circle cx="622.9" cy="506.6" r="0.8" fill="#b9c4b4" opacity="0.75"/><circle cx="474.5" cy="547.0" r="3.1" fill="#29b0c0"/><circle cx="584.6" cy="506.9" r="2.1" fill="#29b0c0"/><circle cx="534.9" cy="448.2" r="2.7" fill="#229fc2"/><circle cx="609.7" cy="524.0" r="2.4" fill="#229fc2"/><circle cx="595.0" cy="482.7" r="2.8" fill="#25acc4"/><circle cx="533.8" cy="460.8" r="2.3" fill="#1f98c0"/><circle cx="488.1" cy="462.3" r="2.2" fill="#29b0c0"/><circle cx="621.9" cy="513.8" r="2.6" fill="#1f98c0"/><circle cx="596.2" cy="460.1" r="3.1" fill="#29b0c0"/><circle cx="532.1" cy="539.4" r="2.9" fill="#2cb7c6"/><circle cx="472.7" cy="508.1" r="2.2" fill="#25acc4"/><circle cx="563.6" cy="449.1" r="2.3" fill="#25acc4"/><circle cx="471.2" cy="454.2" r="2.7" fill="#29b0c0"/><circle cx="634.7" cy="466.5" r="2.1" fill="#1f98c0"/><circle cx="520.2" cy="521.3" r="2.9" fill="#1f98c0"/><circle cx="603.0" cy="474.4" r="2.1" fill="#29b0c0"/><circle cx="500.8" cy="545.5" r="2.8" fill="#2cb7c6"/><circle cx="597.5" cy="466.6" r="2.1" fill="#1f98c0"/><circle cx="598.7" cy="518.2" r="2.4" fill="#25acc4"/><circle cx="623.7" cy="472.2" r="3.1" fill="#36c2c4"/><circle cx="623.3" cy="472.6" r="0.8" fill="#b9c4b4" opacity="0.75"/><circle cx="652.6" cy="509.1" r="2.5" fill="#3cc6c2"/><circle cx="593.5" cy="457.4" r="2.8" fill="#25acc4"/><circle cx="633.1" cy="464.3" r="2.2" fill="#2cb7c6"/><circle cx="602.4" cy="479.5" r="2.6" fill="#229fc2"/><circle cx="616.3" cy="571.8" r="2.7" fill="#36c2c4"/><circle cx="650.6" cy="511.9" r="2.5" fill="#25acc4"/><circle cx="494.0" cy="454.7" r="2.1" fill="#3cc6c2"/><circle cx="493.7" cy="454.8" r="0.8" fill="#b9c4b4" opacity="0.75"/><circle cx="608.9" cy="532.6" r="2.5" fill="#36c2c4"/><circle cx="609.0" cy="532.6" r="0.8" fill="#b9c4b4" opacity="0.75"/><circle cx="569.6" cy="573.1" r="2.5" fill="#25acc4"/><circle cx="627.2" cy="482.9" r="2.5" fill="#2cb7c6"/><circle cx="555.5" cy="518.9" r="2.1" fill="#229fc2"/><circle cx="533.3" cy="543.9" r="3.0" fill="#229fc2"/><circle cx="544.9" cy="448.7" r="2.3" fill="#229fc2"/><circle cx="578.1" cy="567.3" r="2.3" fill="#229fc2"/><circle cx="500.5" cy="515.6" r="2.7" fill="#36c2c4"/><circle cx="573.6" cy="566.0" r="2.8" fill="#29b0c0"/><circle cx="528.5" cy="454.4" r="2.8" fill="#2cb7c6"/><circle cx="582.2" cy="491.3" r="2.5" fill="#1f98c0"/><circle cx="483.1" cy="558.9" r="2.3" fill="#229fc2"/><circle cx="652.2" cy="496.7" r="2.8" fill="#25acc4"/><circle cx="601.1" cy="521.1" r="2.3" fill="#29b0c0"/><circle cx="548.8" cy="515.8" r="2.4" fill="#29b0c0"/><circle cx="631.0" cy="528.0" r="2.2" fill="#36c2c4"/><circle cx="631.5" cy="528.3" r="0.8" fill="#b9c4b4" opacity="0.75"/><circle cx="582.1" cy="547.6" r="2.6" fill="#3cc6c2"/><circle cx="518.3" cy="480.7" r="2.8" fill="#2cb7c6"/><circle cx="490.1" cy="467.5" r="2.9" fill="#36c2c4"/><circle cx="635.6" cy="468.9" r="2.0" fill="#1f98c0"/><circle cx="646.2" cy="508.3" r="2.9" fill="#25acc4"/><circle cx="526.9" cy="482.2" r="3.1" fill="#229fc2"/><circle cx="592.6" cy="563.8" r="2.9" fill="#1f98c0"/><circle cx="592.2" cy="564.1" r="0.8" fill="#b9c4b4" opacity="0.75"/><circle cx="643.6" cy="570.2" r="3.0" fill="#2cb7c6"/><circle cx="579.4" cy="548.2" r="2.9" fill="#3cc6c2"/><circle cx="546.9" cy="460.9" r="3.1" fill="#36c2c4"/><circle cx="544.3" cy="560.7" r="2.6" fill="#3cc6c2"/><circle cx="643.5" cy="484.8" r="2.8" fill="#229fc2"/><circle cx="630.7" cy="570.9" r="2.8" fill="#1f98c0"/><circle cx="515.7" cy="494.3" r="2.8" fill="#1f98c0"/><circle cx="567.5" cy="473.7" r="2.0" fill="#36c2c4"/><circle cx="639.6" cy="568.3" r="3.0" fill="#1f98c0"/><circle cx="610.1" cy="497.3" r="3.0" fill="#1f98c0"/><circle cx="487.7" cy="463.1" r="2.1" fill="#36c2c4"/><circle cx="552.5" cy="444.6" r="2.7" fill="#3cc6c2"/><circle cx="550.7" cy="529.9" r="2.2" fill="#229fc2"/><circle cx="526.9" cy="452.3" r="2.6" fill="#1f98c0"/><circle cx="614.8" cy="485.2" r="2.8" fill="#229fc2"/><circle cx="614.9" cy="485.0" r="0.8" fill="#b9c4b4" opacity="0.75"/><circle cx="521.0" cy="452.6" r="2.4" fill="#36c2c4"/><circle cx="638.8" cy="530.7" r="3.0" fill="#36c2c4"/><circle cx="639.0" cy="530.4" r="0.8" fill="#b9c4b4" opacity="0.75"/><circle cx="542.9" cy="500.4" r="2.1" fill="#229fc2"/><circle cx="500.5" cy="519.6" r="2.6" fill="#1f98c0"/><circle cx="552.6" cy="534.4" r="2.8" fill="#2cb7c6"/><circle cx="643.0" cy="553.8" r="2.8" fill="#36c2c4"/><circle cx="546.1" cy="497.6" r="2.3" fill="#229fc2"/><circle cx="512.5" cy="503.5" r="2.6" fill="#3cc6c2"/><circle cx="553.4" cy="442.3" r="2.4" fill="#3cc6c2"/><circle cx="547.0" cy="523.8" r="2.6" fill="#25acc4"/><circle cx="579.1" cy="544.7" r="2.3" fill="#29b0c0"/><circle cx="493.6" cy="564.7" r="2.2" fill="#2cb7c6"/><circle cx="495.3" cy="457.1" r="2.1" fill="#1f98c0"/><circle cx="520.9" cy="490.9" r="3.0" fill="#229fc2"/><circle cx="609.1" cy="477.5" r="3.0" fill="#229fc2"/><circle cx="638.7" cy="529.2" r="2.2" fill="#25acc4"/><circle cx="638.3" cy="529.0" r="0.8" fill="#b9c4b4" opacity="0.75"/><circle cx="639.5" cy="446.5" r="2.8" fill="#36c2c4"/><circle cx="489.9" cy="540.8" r="2.4" fill="#2cb7c6"/><circle cx="628.7" cy="465.9" r="2.6" fill="#229fc2"/><circle cx="470.0" cy="547.3" r="3.0" fill="#2cb7c6"/><circle cx="593.6" cy="564.1" r="2.7" fill="#3cc6c2"/><circle cx="593.4" cy="564.5" r="0.8" fill="#b9c4b4" opacity="0.75"/><circle cx="488.8" cy="485.8" r="2.5" fill="#3cc6c2"/><circle cx="589.8" cy="572.9" r="2.8" fill="#3cc6c2"/><circle cx="616.4" cy="480.1" r="2.8" fill="#29b0c0"/><circle cx="539.3" cy="496.2" r="3.1" fill="#1f98c0"/><circle cx="542.5" cy="443.7" r="2.4" fill="#36c2c4"/><circle cx="491.4" cy="509.0" r="2.9" fill="#229fc2"/><circle cx="635.2" cy="524.6" r="2.1" fill="#229fc2"/><circle cx="618.2" cy="526.1" r="2.5" fill="#25acc4"/><circle cx="588.1" cy="452.5" r="2.1" fill="#1f98c0"/><circle cx="557.0" cy="461.5" r="3.0" fill="#1f98c0"/><circle cx="563.0" cy="498.2" r="2.8" fill="#1f98c0"/><circle cx="515.8" cy="476.2" r="2.6" fill="#25acc4"/><circle cx="637.8" cy="553.3" r="2.1" fill="#29b0c0"/><circle cx="472.6" cy="495.7" r="2.7" fill="#36c2c4"/><circle cx="596.0" cy="495.7" r="2.1" fill="#25acc4"/><circle cx="596.3" cy="495.9" r="0.8" fill="#b9c4b4" opacity="0.75"/><circle cx="626.8" cy="515.6" r="2.8" fill="#2cb7c6"/><circle cx="473.3" cy="463.9" r="2.8" fill="#36c2c4"/><circle cx="604.6" cy="523.6" r="2.3" fill="#36c2c4"/><circle cx="635.5" cy="561.3" r="2.1" fill="#25acc4"/><circle cx="546.8" cy="484.7" r="3.0" fill="#36c2c4"/><circle cx="632.5" cy="457.1" r="2.7" fill="#36c2c4"/><circle cx="532.4" cy="473.1" r="3.0" fill="#229fc2"/><circle cx="589.1" cy="490.9" r="3.1" fill="#2cb7c6"/><circle cx="493.0" cy="468.5" r="2.1" fill="#36c2c4"/><circle cx="652.7" cy="490.7" r="2.7" fill="#2cb7c6"/><circle cx="621.3" cy="565.0" r="2.1" fill="#36c2c4"/><circle cx="610.5" cy="547.8" r="3.0" fill="#1f98c0"/><circle cx="623.8" cy="456.2" r="2.7" fill="#1f98c0"/><circle cx="488.0" cy="518.9" r="2.2" fill="#25acc4"/><circle cx="636.5" cy="462.7" r="2.5" fill="#29b0c0"/><circle cx="629.1" cy="462.3" r="2.9" fill="#25acc4"/><circle cx="562.0" cy="452.7" r="2.8" fill="#229fc2"/><circle cx="613.8" cy="460.0" r="3.0" fill="#36c2c4"/><circle cx="564.3" cy="450.5" r="2.4" fill="#1f98c0"/><circle cx="563.8" cy="450.8" r="0.8" fill="#b9c4b4" opacity="0.75"/><circle cx="590.5" cy="513.0" r="2.4" fill="#3cc6c2"/><circle cx="629.7" cy="541.0" r="2.4" fill="#1f98c0"/><circle cx="614.0" cy="531.4" r="3.0" fill="#1f98c0"/><circle cx="611.6" cy="563.2" r="2.6" fill="#36c2c4"/><circle cx="602.4" cy="543.6" r="3.1" fill="#229fc2"/><circle cx="602.4" cy="543.4" r="0.8" fill="#b9c4b4" opacity="0.75"/><circle cx="531.8" cy="529.1" r="3.0" fill="#29b0c0"/><circle cx="578.1" cy="474.4" r="2.8" fill="#29b0c0"/><circle cx="577.6" cy="474.2" r="0.8" fill="#b9c4b4" opacity="0.75"/><circle cx="584.4" cy="490.1" r="2.7" fill="#25acc4"/><circle cx="624.3" cy="473.3" r="2.7" fill="#1f98c0"/><circle cx="592.7" cy="540.0" r="2.3" fill="#229fc2"/><circle cx="486.2" cy="499.8" r="2.2" fill="#25acc4"/><circle cx="537.1" cy="513.9" r="2.6" fill="#36c2c4"/><circle cx="552.9" cy="445.4" r="2.6" fill="#25acc4"/><circle cx="579.7" cy="497.6" r="2.6" fill="#25acc4"/><circle cx="523.3" cy="444.7" r="2.9" fill="#36c2c4"/><circle cx="546.0" cy="520.4" r="3.0" fill="#1f98c0"/><circle cx="622.5" cy="556.6" r="2.2" fill="#3cc6c2"/><circle cx="591.3" cy="497.7" r="2.4" fill="#29b0c0"/><circle cx="591.5" cy="497.7" r="0.8" fill="#b9c4b4" opacity="0.75"/><circle cx="520.2" cy="453.1" r="2.0" fill="#3cc6c2"/><circle cx="599.2" cy="518.7" r="2.6" fill="#2cb7c6"/><circle cx="646.0" cy="479.0" r="2.9" fill="#1f98c0"/><circle cx="580.7" cy="496.6" r="2.9" fill="#25acc4"/><circle cx="568.8" cy="480.5" r="2.8" fill="#2cb7c6"/><circle cx="525.6" cy="497.4" r="2.7" fill="#229fc2"/><circle cx="502.6" cy="539.9" r="2.1" fill="#2cb7c6"/><circle cx="621.3" cy="457.6" r="2.8" fill="#29b0c0"/><circle cx="621.3" cy="457.6" r="0.8" fill="#b9c4b4" opacity="0.75"/><circle cx="643.6" cy="478.2" r="2.6" fill="#25acc4"/><circle cx="525.2" cy="497.3" r="2.7" fill="#2cb7c6"/><circle cx="613.0" cy="460.6" r="2.2" fill="#2cb7c6"/><circle cx="522.4" cy="575.8" r="3.0" fill="#36c2c4"/><circle cx="519.5" cy="475.7" r="3.1" fill="#1f98c0"/><circle cx="576.7" cy="511.7" r="2.8" fill="#29b0c0"/><circle cx="630.5" cy="470.1" r="2.9" fill="#3cc6c2"/><circle cx="519.4" cy="532.8" r="2.2" fill="#29b0c0"/><circle cx="638.6" cy="525.4" r="2.0" fill="#2cb7c6"/><circle cx="592.6" cy="534.2" r="2.9" fill="#1f98c0"/><circle cx="649.9" cy="458.2" r="2.2" fill="#25acc4"/><circle cx="649.4" cy="458.0" r="0.8" fill="#b9c4b4" opacity="0.75"/><circle cx="638.5" cy="490.5" r="2.7" fill="#229fc2"/><circle cx="646.9" cy="446.0" r="2.8" fill="#29b0c0"/><circle cx="481.3" cy="458.7" r="2.3" fill="#29b0c0"/><circle cx="519.7" cy="558.5" r="3.1" fill="#3cc6c2"/><circle cx="594.2" cy="505.6" r="2.8" fill="#3cc6c2"/><circle cx="593.9" cy="505.6" r="0.8" fill="#b9c4b4" opacity="0.75"/><circle cx="551.7" cy="441.6" r="2.1" fill="#29b0c0"/><circle cx="617.6" cy="578.3" r="2.8" fill="#25acc4"/><circle cx="637.6" cy="468.2" r="2.1" fill="#3cc6c2"/><circle cx="637.6" cy="468.5" r="0.8" fill="#b9c4b4" opacity="0.75"/><circle cx="578.1" cy="527.8" r="2.3" fill="#25acc4"/><circle cx="620.1" cy="513.0" r="2.1" fill="#29b0c0"/><circle cx="609.6" cy="527.7" r="2.1" fill="#25acc4"/><circle cx="479.3" cy="525.6" r="2.1" fill="#25acc4"/><circle cx="523.4" cy="493.8" r="2.8" fill="#2cb7c6"/><circle cx="613.9" cy="527.5" r="2.5" fill="#36c2c4"/><circle cx="613.0" cy="503.9" r="2.2" fill="#25acc4"/><circle cx="613.2" cy="504.0" r="0.8" fill="#b9c4b4" opacity="0.75"/><circle cx="623.6" cy="566.4" r="2.6" fill="#229fc2"/><circle cx="513.9" cy="551.5" r="2.3" fill="#36c2c4"/><circle cx="576.4" cy="516.0" r="2.5" fill="#29b0c0"/><circle cx="532.2" cy="492.1" r="2.6" fill="#3cc6c2"/><circle cx="572.0" cy="448.4" r="3.1" fill="#3cc6c2"/><circle cx="636.1" cy="549.9" r="2.7" fill="#3cc6c2"/><circle cx="596.3" cy="505.7" r="2.9" fill="#29b0c0"/><circle cx="582.4" cy="499.0" r="2.5" fill="#1f98c0"/><circle cx="596.6" cy="505.6" r="2.5" fill="#1f98c0"/><circle cx="482.8" cy="445.0" r="2.3" fill="#2cb7c6"/><circle cx="585.2" cy="567.6" r="3.1" fill="#2cb7c6"/><circle cx="584.9" cy="568.0" r="0.8" fill="#b9c4b4" opacity="0.75"/><circle cx="601.3" cy="488.0" r="2.2" fill="#25acc4"/><circle cx="601.0" cy="487.6" r="0.8" fill="#b9c4b4" opacity="0.75"/><circle cx="621.9" cy="459.9" r="3.0" fill="#229fc2"/><circle cx="615.2" cy="467.5" r="2.4" fill="#29b0c0"/><circle cx="577.1" cy="559.5" r="2.2" fill="#2cb7c6"/><circle cx="507.7" cy="452.2" r="2.7" fill="#25acc4"/><circle cx="507.6" cy="452.5" r="0.8" fill="#b9c4b4" opacity="0.75"/><circle cx="607.2" cy="492.8" r="2.2" fill="#3cc6c2"/><circle cx="596.8" cy="540.2" r="2.3" fill="#36c2c4"/><circle cx="614.4" cy="531.1" r="3.0" fill="#36c2c4"/><circle cx="570.4" cy="459.5" r="2.5" fill="#229fc2"/><circle cx="569.9" cy="459.5" r="0.8" fill="#b9c4b4" opacity="0.75"/><circle cx="531.0" cy="503.5" r="2.4" fill="#36c2c4"/><circle cx="527.5" cy="493.9" r="2.3" fill="#3cc6c2"/><circle cx="561.4" cy="516.7" r="2.3" fill="#2cb7c6"/><circle cx="487.4" cy="450.8" r="2.2" fill="#2cb7c6"/><circle cx="624.5" cy="467.3" r="2.2" fill="#1f98c0"/><circle cx="605.1" cy="567.5" r="2.3" fill="#1f98c0"/><circle cx="620.2" cy="546.1" r="2.7" fill="#1f98c0"/><circle cx="628.2" cy="472.4" r="2.2" fill="#2cb7c6"/><circle cx="613.6" cy="546.0" r="2.5" fill="#1f98c0"/><circle cx="613.9" cy="546.0" r="0.8" fill="#b9c4b4" opacity="0.75"/><circle cx="625.9" cy="445.0" r="3.0" fill="#229fc2"/><circle cx="503.9" cy="455.9" r="2.5" fill="#229fc2"/><circle cx="503.5" cy="456.0" r="0.8" fill="#b9c4b4" opacity="0.75"/><circle cx="475.2" cy="536.5" r="2.2" fill="#25acc4"/><circle cx="636.6" cy="494.4" r="2.3" fill="#29b0c0"/><circle cx="498.1" cy="456.2" r="2.5" fill="#25acc4"/><circle cx="498.4" cy="520.7" r="2.2" fill="#3cc6c2"/><circle cx="519.9" cy="441.9" r="2.1" fill="#36c2c4"/><circle cx="580.3" cy="475.1" r="2.6" fill="#36c2c4"/><circle cx="575.1" cy="543.2" r="3.0" fill="#36c2c4"/><circle cx="477.3" cy="563.8" r="3.0" fill="#29b0c0"/><circle cx="601.9" cy="471.0" r="3.1" fill="#29b0c0"/><circle cx="601.8" cy="471.3" r="0.8" fill="#b9c4b4" opacity="0.75"/><circle cx="499.6" cy="469.6" r="2.0" fill="#3cc6c2"/><circle cx="606.9" cy="493.8" r="2.9" fill="#36c2c4"/><circle cx="606.7" cy="494.0" r="0.8" fill="#b9c4b4" opacity="0.75"/><circle cx="494.3" cy="533.9" r="2.5" fill="#25acc4"/><circle cx="500.6" cy="443.4" r="2.3" fill="#29b0c0"/><circle cx="605.4" cy="464.2" r="2.0" fill="#229fc2"/><circle cx="605.3" cy="464.0" r="0.8" fill="#b9c4b4" opacity="0.75"/><circle cx="475.6" cy="534.6" r="2.8" fill="#1f98c0"/><circle cx="585.8" cy="513.4" r="2.7" fill="#25acc4"/><circle cx="525.9" cy="448.1" r="2.8" fill="#1f98c0"/><circle cx="525.6" cy="448.5" r="0.8" fill="#b9c4b4" opacity="0.75"/><circle cx="506.0" cy="443.1" r="2.0" fill="#1f98c0"/><circle cx="504.6" cy="533.7" r="3.0" fill="#1f98c0"/><circle cx="622.7" cy="533.1" r="2.0" fill="#29b0c0"/><circle cx="622.5" cy="533.1" r="0.8" fill="#b9c4b4" opacity="0.75"/><circle cx="504.1" cy="469.6" r="3.0" fill="#25acc4"/><circle cx="503.7" cy="469.4" r="0.8" fill="#b9c4b4" opacity="0.75"/><circle cx="472.0" cy="531.7" r="2.2" fill="#2cb7c6"/><circle cx="537.0" cy="450.2" r="2.3" fill="#29b0c0"/><circle cx="515.5" cy="454.0" r="2.7" fill="#36c2c4"/><circle cx="647.8" cy="537.2" r="2.7" fill="#3cc6c2"/><circle cx="539.5" cy="529.8" r="2.6" fill="#25acc4"/><circle cx="583.1" cy="449.2" r="2.3" fill="#2cb7c6"/><circle cx="538.3" cy="530.0" r="2.8" fill="#36c2c4"/><circle cx="605.0" cy="486.5" r="2.7" fill="#1f98c0"/><circle cx="605.3" cy="486.4" r="0.8" fill="#b9c4b4" opacity="0.75"/><circle cx="618.5" cy="545.1" r="2.8" fill="#229fc2"/><circle cx="618.5" cy="545.5" r="0.8" fill="#b9c4b4" opacity="0.75"/><circle cx="591.4" cy="475.3" r="2.8" fill="#29b0c0"/><circle cx="492.3" cy="465.0" r="2.9" fill="#2cb7c6"/><circle cx="491.9" cy="465.2" r="0.8" fill="#b9c4b4" opacity="0.75"/><circle cx="501.7" cy="475.4" r="2.5" fill="#3cc6c2"/><circle cx="502.0" cy="475.4" r="0.8" fill="#b9c4b4" opacity="0.75"/><circle cx="643.9" cy="490.8" r="2.5" fill="#36c2c4"/><circle cx="619.8" cy="551.0" r="2.4" fill="#1f98c0"/><circle cx="620.2" cy="550.8" r="0.8" fill="#b9c4b4" opacity="0.75"/><circle cx="567.9" cy="517.6" r="2.4" fill="#229fc2"/><circle cx="482.5" cy="459.8" r="2.2" fill="#2cb7c6"/><circle cx="631.8" cy="578.6" r="3.0" fill="#2cb7c6"/><circle cx="504.9" cy="501.4" r="3.0" fill="#3cc6c2"/><circle cx="536.9" cy="448.9" r="2.5" fill="#2cb7c6"/><circle cx="585.1" cy="534.8" r="2.7" fill="#229fc2"/><circle cx="642.6" cy="461.3" r="2.6" fill="#3cc6c2"/><circle cx="471.6" cy="547.9" r="3.0" fill="#36c2c4"/><circle cx="630.1" cy="463.9" r="2.8" fill="#29b0c0"/><circle cx="590.2" cy="494.0" r="2.5" fill="#3cc6c2"/><circle cx="489.4" cy="520.4" r="2.9" fill="#229fc2"/><circle cx="640.0" cy="496.1" r="3.1" fill="#1f98c0"/><circle cx="546.0" cy="498.7" r="2.5" fill="#2cb7c6"/><circle cx="618.8" cy="466.6" r="2.2" fill="#1f98c0"/><circle cx="619.3" cy="467.0" r="0.8" fill="#b9c4b4" opacity="0.75"/><circle cx="550.2" cy="567.6" r="2.7" fill="#25acc4"/><circle cx="523.1" cy="493.3" r="2.4" fill="#29b0c0"/><circle cx="523.1" cy="493.6" r="0.8" fill="#b9c4b4" opacity="0.75"/><circle cx="591.4" cy="550.4" r="2.2" fill="#1f98c0"/><circle cx="591.5" cy="550.9" r="0.8" fill="#b9c4b4" opacity="0.75"/><circle cx="531.2" cy="500.5" r="3.0" fill="#229fc2"/><circle cx="538.8" cy="448.8" r="2.4" fill="#25acc4"/><circle cx="622.7" cy="569.3" r="2.1" fill="#29b0c0"/><circle cx="556.5" cy="498.2" r="3.1" fill="#1f98c0"/><circle cx="597.7" cy="454.8" r="2.7" fill="#3cc6c2"/><circle cx="597.7" cy="454.9" r="0.8" fill="#b9c4b4" opacity="0.75"/><circle cx="626.6" cy="510.9" r="2.9" fill="#229fc2"/><circle cx="568.6" cy="474.6" r="3.0" fill="#3cc6c2"/><circle cx="610.0" cy="471.4" r="2.5" fill="#3cc6c2"/><circle cx="609.6" cy="471.5" r="0.8" fill="#b9c4b4" opacity="0.75"/><circle cx="579.6" cy="530.3" r="2.8" fill="#3cc6c2"/><circle cx="602.4" cy="531.6" r="3.1" fill="#36c2c4"/><circle cx="510.3" cy="456.9" r="2.1" fill="#3cc6c2"/><circle cx="604.6" cy="484.0" r="2.2" fill="#36c2c4"/><circle cx="615.5" cy="513.0" r="2.2" fill="#36c2c4"/><circle cx="615.9" cy="512.8" r="0.8" fill="#b9c4b4" opacity="0.75"/><circle cx="619.1" cy="482.1" r="2.7" fill="#2cb7c6"/><circle cx="598.3" cy="524.0" r="3.1" fill="#25acc4"/><circle cx="624.9" cy="520.5" r="2.2" fill="#229fc2"/><circle cx="621.3" cy="470.1" r="2.9" fill="#3cc6c2"/><circle cx="636.8" cy="463.0" r="2.4" fill="#36c2c4"/><circle cx="553.3" cy="463.6" r="2.8" fill="#229fc2"/><circle cx="505.2" cy="531.3" r="2.9" fill="#25acc4"/><circle cx="593.8" cy="578.1" r="3.0" fill="#36c2c4"/><circle cx="594.0" cy="464.2" r="2.4" fill="#36c2c4"/><circle cx="593.6" cy="464.7" r="0.8" fill="#b9c4b4" opacity="0.75"/><circle cx="584.4" cy="496.9" r="2.3" fill="#36c2c4"/><circle cx="578.7" cy="464.8" r="2.9" fill="#1f98c0"/><circle cx="539.4" cy="528.6" r="2.0" fill="#25acc4"/><circle cx="484.5" cy="508.8" r="2.6" fill="#25acc4"/><circle cx="486.6" cy="523.2" r="3.1" fill="#3cc6c2"/><circle cx="574.2" cy="454.7" r="3.0" fill="#1f98c0"/><circle cx="619.4" cy="549.6" r="2.1" fill="#1f98c0"/><circle cx="600.3" cy="550.5" r="2.8" fill="#3cc6c2"/><circle cx="502.5" cy="524.0" r="2.6" fill="#1f98c0"/><circle cx="527.0" cy="446.3" r="2.7" fill="#25acc4"/><circle cx="547.0" cy="572.1" r="2.3" fill="#29b0c0"/><circle cx="635.4" cy="481.6" r="2.2" fill="#36c2c4"/><circle cx="568.1" cy="470.0" r="2.9" fill="#2cb7c6"/><circle cx="508.8" cy="459.5" r="2.7" fill="#229fc2"/><circle cx="508.9" cy="459.1" r="0.8" fill="#b9c4b4" opacity="0.75"/><circle cx="542.7" cy="452.4" r="2.5" fill="#3cc6c2"/><circle cx="495.6" cy="469.1" r="2.3" fill="#3cc6c2"/><circle cx="619.9" cy="524.8" r="2.2" fill="#1f98c0"/></g>
</g>
<rect x="603" y="570.1" width="40" height="3.1" fill="#fff"/>
<text x="621.9" y="564.7" font-size="10.5" word-spacing="-1.1" fill="#fff" text-anchor="middle">200 µm</text>
<text x="436.7" y="468.3" font-size="26.4" font-weight="bold" fill="#000">c</text>
<defs>
<linearGradient id="phbg" x1="0" y1="0" x2="1" y2="0.3"><stop offset="0" stop-color="#222324"/><stop offset="0.3" stop-color="#2a2b2c"/><stop offset="1" stop-color="#2d2e30"/></linearGradient>
<linearGradient id="filmr" x1="0" y1="0" x2="1" y2="1"><stop offset="0" stop-color="#2f3033"/><stop offset="0.5" stop-color="#3b3c40"/><stop offset="1" stop-color="#2c2d30"/></linearGradient>
<linearGradient id="tapeL" x1="0" y1="0" x2="1" y2="0"><stop offset="0" stop-color="#c3baa9"/><stop offset="0.35" stop-color="#cbc3b3"/><stop offset="1" stop-color="#bdb39f"/></linearGradient>
<linearGradient id="tapeR" x1="0" y1="0" x2="1" y2="0"><stop offset="0" stop-color="#9b8d72"/><stop offset="0.5" stop-color="#a89a80"/><stop offset="1" stop-color="#ad9f86"/></linearGradient>
<linearGradient id="sqw" x1="0" y1="0" x2="1" y2="1"><stop offset="0" stop-color="#dde3e3"/><stop offset="1" stop-color="#cfd6d7"/></linearGradient>
<linearGradient id="sqc" x1="0" y1="0" x2="1" y2="1"><stop offset="0" stop-color="#4fcdf3"/><stop offset="1" stop-color="#43c2ee"/></linearGradient>
<linearGradient id="gedge" x1="0" y1="0" x2="1" y2="0"><stop offset="0.93" stop-color="#9aa2a4"/><stop offset="1" stop-color="#5e6466"/></linearGradient>
</defs>
<text x="685" y="33.8" font-size="26" font-weight="bold" fill="#000">d</text>
<clipPath id="ph1"><rect x="684.1" y="47.6" width="211.7" height="93.4"/></clipPath><g clip-path="url(#ph1)"><rect x="684.1" y="47.6" width="211.7" height="93.4" fill="url(#phbg)"/><rect x="723.7" y="55.0" width="139.8" height="72.6" fill="#37383a"/><rect x="818" y="55.0" width="45.5" height="72.6" fill="url(#filmr)"/><rect x="723.7" y="55.0" width="139.8" height="72.6" fill="none" stroke="#4a4b4e" stroke-width="0.6"/><polygon points="684.1,95.4 696.5,98.4 701,141.0 684.1,141.0" fill="#111213"/><polygon points="695,80.6 739.5,80.0 739.5,99.4 695,100.0" fill="url(#tapeL)"/><polygon points="684.1,74.5 693,80.5 696,98.4 684.1,95.4" fill="#cdc6bb"/><path d="M692 81.0Q697.5 83.0 697 100.9L694.5 100.4Q695 88.0 691 86.0Z" fill="#8a5c3c"/><rect x="742.6" y="55.8" width="76.4" height="72.2" fill="url(#gedge)"/><rect x="742.6" y="55.8" width="72.0" height="72.2" fill="url(#sqw)" stroke="#cfd5d5" stroke-width="0.8"/><polygon points="824.3,78.0 897,79.2 897,95.8 828.3,96.6" fill="url(#tapeR)"/><rect x="885" y="80.5" width="6.4" height="13" rx="2.8" fill="#b9b0a2"/><rect x="888.6" y="82.0" width="1.8" height="9" rx="0.9" fill="#e6e0d6"/><path d="M878.2 97.0Q878.2 91.0 884 91.0H900V143.0H878.2Z" fill="#df2420"/><rect x="882" y="96.0" width="5" height="50.0" fill="#ee3a34" opacity="0.55"/><rect x="892" y="93.0" width="5" height="50.0" fill="#b3141c" opacity="0.8"/><rect x="846.7" y="131.5" width="24.6" height="3.8" fill="#fff"/><text x="846.6" y="120.1" font-size="11.7" fill="#fff">1 cm</text></g>
<clipPath id="ph2"><rect x="684.1" y="214.3" width="211.7" height="93.4"/></clipPath><g clip-path="url(#ph2)"><rect x="684.1" y="214.3" width="211.7" height="93.4" fill="url(#phbg)"/><rect x="723.7" y="221.4" width="139.8" height="73.5" fill="#37383a"/><rect x="818" y="221.4" width="45.5" height="73.5" fill="url(#filmr)"/><rect x="723.7" y="221.4" width="139.8" height="73.5" fill="none" stroke="#4a4b4e" stroke-width="0.6"/><polygon points="684.1,262.8 696.5,265.8 701,307.7 684.1,307.7" fill="#111213"/><polygon points="695,247.1 738.5,246.5 738.5,266.8 695,267.4" fill="url(#tapeL)"/><polygon points="684.1,241.0 693,247.0 696,265.8 684.1,262.8" fill="#cdc6bb"/><path d="M692 247.5Q697.5 249.5 697 268.3L694.5 267.8Q695 254.5 691 252.5Z" fill="#8a5c3c"/><rect x="741.8" y="222.2" width="77.0" height="73.1" fill="url(#gedge)"/><rect x="741.8" y="222.2" width="72.6" height="73.1" fill="#323334" stroke="#a4abad" stroke-width="0.8"/><polygon points="824.3,244.3 897,245.5 897,262.1 828.3,262.9" fill="url(#tapeR)"/><rect x="885" y="246.3" width="6.4" height="13" rx="2.8" fill="#b9b0a2"/><rect x="888.6" y="247.8" width="1.8" height="9" rx="0.9" fill="#e6e0d6"/><path d="M878.2 262.8Q878.2 256.8 884 256.8H900V309.7H878.2Z" fill="#df2420"/><rect x="882" y="261.8" width="5" height="50.9" fill="#ee3a34" opacity="0.55"/><rect x="892" y="258.8" width="5" height="50.9" fill="#b3141c" opacity="0.8"/><rect x="846.7" y="298.8" width="24.6" height="3.8" fill="#fff"/></g>
<clipPath id="ph3"><rect x="684.1" y="382.2" width="211.7" height="93.4"/></clipPath><g clip-path="url(#ph3)"><rect x="684.1" y="382.2" width="211.7" height="93.4" fill="url(#phbg)"/><rect x="723.7" y="389.4" width="139.8" height="73.3" fill="#37383a"/><rect x="818" y="389.4" width="45.5" height="73.3" fill="url(#filmr)"/><rect x="723.7" y="389.4" width="139.8" height="73.3" fill="none" stroke="#4a4b4e" stroke-width="0.6"/><polygon points="684.1,430.1 696.5,433.1 701,475.6 684.1,475.6" fill="#111213"/><polygon points="695,415.2 738.5,414.6 738.5,434.1 695,434.7" fill="url(#tapeL)"/><polygon points="684.1,409.1 693,415.1 696,433.1 684.1,430.1" fill="#cdc6bb"/><path d="M692 415.6Q697.5 417.6 697 435.6L694.5 435.1Q695 422.6 691 420.6Z" fill="#8a5c3c"/><rect x="741.8" y="390.2" width="76.4" height="72.9" fill="url(#gedge)"/><rect x="741.8" y="390.2" width="72.0" height="72.9" fill="url(#sqc)" stroke="#5fcff2" stroke-width="0.8"/><polygon points="824.3,412.4 897,413.6 897,430.7 828.3,431.5" fill="url(#tapeR)"/><rect x="885" y="415.5" width="6.4" height="13" rx="2.8" fill="#b9b0a2"/><rect x="888.6" y="417.0" width="1.8" height="9" rx="0.9" fill="#e6e0d6"/><path d="M878.2 432.0Q878.2 426.0 884 426.0H900V477.6H878.2Z" fill="#df2420"/><rect x="882" y="431.0" width="5" height="49.6" fill="#ee3a34" opacity="0.55"/><rect x="892" y="428.0" width="5" height="49.6" fill="#b3141c" opacity="0.8"/><rect x="846.7" y="466.1" width="24.6" height="3.8" fill="#fff"/></g>
<g font-size="12" fill="#000" text-anchor="middle">
<text x="789.8" y="162">White state</text><text x="789.9" y="176.5">Brightness-Y = 27.3</text>
<text x="789.8" y="329.7">Black state</text><text x="789.6" y="344.2">Brightness-Y = 4.85</text>
<text x="789.4" y="499.8">Luminous state</text><text x="789.3" y="514.7" font-size="12.1">Luminance = 27.4 cd/m<tspan font-size="7.5" dy="-4.5">2</tspan></text>
</g>
<text x="789.8" y="555" font-size="13.25" font-weight="bold" fill="#000" text-anchor="middle">Reflective and emissive mode</text>
<g fill="none" stroke="#000" stroke-width="1.1">
<line x1="4.5" y1="0.5" x2="907" y2="0.5"/>
<line x1="5" y1="0" x2="5" y2="584.5"/>
<line x1="4.5" y1="584" x2="907" y2="584" stroke-width="1.3"/>
<line x1="672.6" y1="0" x2="672.6" y2="584"/>
<line x1="906.5" y1="0" x2="906.5" y2="584.7"/>
<line x1="4.5" y1="434.1" x2="673" y2="434.1"/>
</g>
</svg></body></html>
